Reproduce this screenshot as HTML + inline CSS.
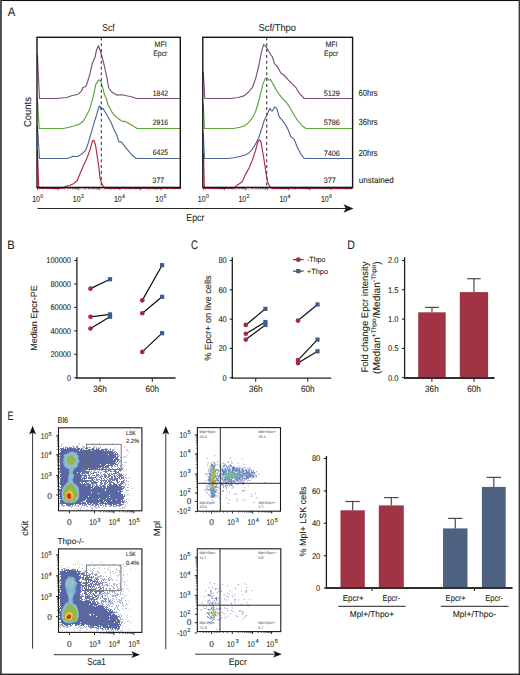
<!DOCTYPE html>
<html><head><meta charset="utf-8"><style>
html,body{margin:0;padding:0;background:#fff;}
svg{display:block;}
text{font-family:"Liberation Sans", sans-serif;stroke:#231f20;stroke-width:0.18px;stroke-opacity:0.55;text-rendering:geometricPrecision;}
</style></head><body>
<svg width="520" height="675" viewBox="0 0 520 675">
<defs><filter id="sb" x="-5%" y="-5%" width="110%" height="110%"><feGaussianBlur stdDeviation="0.45"/></filter></defs>
<rect width="520" height="675" fill="#fff"/>
<rect x="0" y="0" width="520" height="1.05" fill="#111"/>
<rect x="0" y="0" width="1.9" height="675" fill="#4d4d4d"/>
<rect x="518.6" y="0" width="1.4" height="675" fill="#3a3a3a"/>
<rect x="0" y="673.6" width="520" height="1.4" fill="#262626"/>
<text x="7.70" y="16.40" font-size="12.4" fill="#231f20" textLength="7.60" lengthAdjust="spacingAndGlyphs" >A</text>
<text x="108.50" y="31.00" font-size="10" fill="#231f20" text-anchor="middle" textLength="12.30" lengthAdjust="spacingAndGlyphs" >Scf</text>
<text x="277.30" y="31.00" font-size="10" fill="#231f20" text-anchor="middle" textLength="37.50" lengthAdjust="spacingAndGlyphs" >Scf/Thpo</text>
<text x="31.40" y="112.00" font-size="10" fill="#231f20" text-anchor="middle" textLength="30.00" lengthAdjust="spacingAndGlyphs" transform="rotate(-90 31.40 112.00)" >Counts</text>
<polyline points="38.00,188.56 39.00,188.42 40.00,188.82 41.00,188.36 42.00,188.73 43.00,188.59 44.00,188.35 45.00,188.71 46.00,188.33 47.00,188.65 48.00,188.36 49.00,188.37 50.00,188.64 51.00,188.96 52.00,188.40 53.00,188.48 54.00,188.80 55.00,189.06 56.00,188.76 57.00,188.62 58.00,189.08 59.00,188.34 60.00,188.99 61.00,188.53 62.00,188.42 63.00,188.39 64.00,188.55 65.00,188.95 66.00,188.44 67.00,188.77 68.00,188.81 69.00,188.60 70.00,188.74 71.00,188.35 72.00,188.35 73.00,188.46 74.00,188.84 75.00,188.64 76.00,188.55 77.00,188.77 78.00,188.66 79.00,188.54 80.00,188.94 81.00,188.86 82.00,188.50 83.00,188.76 84.00,188.72 85.00,189.00 86.00,188.88 87.00,188.53 88.00,189.08 89.00,188.39 90.00,188.63 91.00,188.91 92.00,188.42 93.00,188.69 94.00,188.33 95.00,188.83 96.00,188.91 97.00,188.76 98.00,189.00 99.00,188.55 100.00,188.86 101.00,188.78 102.00,188.76 103.00,188.66 104.00,188.97 105.00,189.06 106.00,188.68 107.00,188.83 108.00,188.35 109.00,188.86 110.00,188.82 111.00,189.09 112.00,188.96 113.00,188.53 114.00,188.61 115.00,188.83 116.00,188.32 117.00,188.67 118.00,188.43 119.00,188.39 120.00,188.35 121.00,188.91 122.00,188.40 123.00,188.50 124.00,188.61 125.00,189.00 126.00,188.36 127.00,188.66 128.00,188.74 129.00,189.01 130.00,188.96 131.00,188.99 132.00,188.52 133.00,188.63 134.00,188.59 135.00,189.01 136.00,189.07 137.00,188.42 138.00,188.44 139.00,188.49 140.00,188.49 141.00,188.69 142.00,188.77 143.00,188.51 144.00,188.30 145.00,188.64 146.00,188.60 147.00,188.75 148.00,189.06 149.00,188.85 150.00,188.71 151.00,188.79 152.00,188.84 153.00,188.34 154.00,189.02 155.00,188.92 156.00,189.00 157.00,188.94 158.00,188.61 159.00,188.62 160.00,188.38 161.00,188.81 162.00,188.35 163.00,188.35 164.00,188.47 165.00,188.43 166.00,188.57 167.00,188.34 168.00,188.30 169.00,188.42 170.00,188.38 171.00,188.59 172.00,188.32 173.00,189.00 174.00,188.79 175.00,188.42 176.00,188.50 177.00,188.58 178.00,188.59 179.00,188.40" fill="none" stroke="#b3283f" stroke-width="0.7" stroke-linejoin="round" stroke-linecap="round" opacity="0.7"/>
<polyline points="204.00,188.98 205.00,189.09 206.00,188.67 207.00,188.69 208.00,188.37 209.00,188.38 210.00,188.57 211.00,188.51 212.00,188.96 213.00,188.43 214.00,188.32 215.00,189.06 216.00,188.72 217.00,188.42 218.00,188.73 219.00,188.32 220.00,188.72 221.00,189.08 222.00,188.99 223.00,188.86 224.00,188.51 225.00,188.59 226.00,188.43 227.00,188.92 228.00,188.73 229.00,188.92 230.00,188.56 231.00,188.48 232.00,188.95 233.00,189.09 234.00,188.98 235.00,188.94 236.00,188.95 237.00,188.89 238.00,188.48 239.00,188.71 240.00,188.58 241.00,188.32 242.00,188.32 243.00,188.52 244.00,188.51 245.00,188.85 246.00,189.07 247.00,188.66 248.00,189.05 249.00,189.09 250.00,189.06 251.00,188.59 252.00,188.48 253.00,188.48 254.00,188.46 255.00,188.46 256.00,188.80 257.00,189.02 258.00,188.97 259.00,188.68 260.00,188.82 261.00,188.94 262.00,188.37 263.00,188.83 264.00,189.03 265.00,188.93 266.00,188.90 267.00,188.68 268.00,188.44 269.00,188.93 270.00,188.57 271.00,188.94 272.00,189.08 273.00,188.62 274.00,188.62 275.00,189.06 276.00,188.88 277.00,188.44 278.00,188.40 279.00,188.42 280.00,189.02 281.00,188.95 282.00,188.42 283.00,188.96 284.00,189.08 285.00,188.83 286.00,188.58 287.00,188.74 288.00,188.40 289.00,188.31 290.00,189.08 291.00,188.82 292.00,188.72 293.00,189.05 294.00,188.65 295.00,189.00 296.00,188.96 297.00,188.47 298.00,188.50 299.00,188.53 300.00,188.49 301.00,188.77 302.00,188.51 303.00,188.64 304.00,188.40 305.00,189.03 306.00,188.58 307.00,188.67 308.00,188.77 309.00,189.02 310.00,188.64 311.00,189.03 312.00,188.70 313.00,188.73 314.00,188.72 315.00,188.31 316.00,188.65 317.00,188.45 318.00,188.30 319.00,188.94 320.00,188.44 321.00,188.68 322.00,188.88 323.00,188.75 324.00,188.56 325.00,188.71 326.00,188.74 327.00,188.93 328.00,188.38 329.00,188.75 330.00,188.50 331.00,188.52 332.00,188.92 333.00,188.71 334.00,188.75 335.00,188.91 336.00,189.03 337.00,188.65 338.00,188.79 339.00,188.70 340.00,188.71 341.00,188.85 342.00,188.66 343.00,188.73 344.00,188.68 345.00,189.05 346.00,188.86 347.00,189.00 348.00,189.05 349.00,188.51 350.00,188.75 351.00,189.05" fill="none" stroke="#b3283f" stroke-width="0.7" stroke-linejoin="round" stroke-linecap="round" opacity="0.7"/>
<polyline points="37.40,55.00 39.50,98.50 57.00,98.50 66.60,97.50 71.60,95.70 78.00,94.30 81.50,90.80 83.00,87.50 85.80,86.50 87.20,83.00 90.00,73.70 92.20,63.70 93.60,60.20 95.00,57.30 96.50,50.20 98.30,45.70 100.00,50.00 102.40,58.00 104.70,67.50 107.10,78.60 108.70,88.00 111.80,92.00 116.60,95.10 122.00,94.70 127.60,96.00 131.50,96.70 136.30,98.50 179.80,98.50" fill="none" stroke="#78507a" stroke-width="1.15" stroke-linejoin="round" stroke-linecap="round" />
<polyline points="37.40,99.00 39.20,128.50 63.60,128.50 69.10,127.30 74.60,125.80 79.40,124.20 83.30,121.00 86.50,115.50 89.60,109.20 92.10,100.70 93.60,95.00 95.80,84.40 98.60,80.10 100.70,80.80 102.90,88.60 104.60,95.00 106.40,98.60 107.80,104.50 109.30,107.00 111.70,111.60 114.20,115.10 118.90,119.00 122.10,121.40 125.20,121.40 129.20,123.80 133.10,126.10 137.10,128.50 179.80,128.50" fill="none" stroke="#5ea33f" stroke-width="1.15" stroke-linejoin="round" stroke-linecap="round" />
<polyline points="37.40,126.00 39.50,158.50 67.50,158.50 73.00,156.20 77.80,156.50 81.70,154.10 85.70,150.20 88.00,143.90 91.20,132.90 94.40,121.80 96.70,114.70 98.80,106.80 99.90,106.00 101.00,109.20 103.00,108.40 104.70,111.20 107.90,116.70 111.00,122.20 114.20,130.10 116.60,134.80 118.90,141.90 121.30,141.90 124.40,145.90 127.60,149.80 131.50,154.50 136.30,158.50 179.80,158.50" fill="none" stroke="#4f6790" stroke-width="1.15" stroke-linejoin="round" stroke-linecap="round" />
<polyline points="37.40,151.00 38.80,188.40 62.00,188.40 66.00,186.30 70.00,185.30 74.00,183.40 77.30,180.50 78.60,177.00 83.30,166.00 87.30,157.30 90.40,148.60 92.50,140.70 94.00,140.40 95.60,145.50 97.50,158.10 99.10,169.10 100.00,178.00 101.50,183.00 103.20,186.00 105.00,188.40 179.80,188.40" fill="none" stroke="#b3283f" stroke-width="1.15" stroke-linejoin="round" stroke-linecap="round" />
<polyline points="203.30,72.30 204.80,98.50 230.40,98.50 238.30,97.50 244.60,95.60 248.50,92.00 252.50,87.30 255.60,78.60 258.80,66.00 261.10,53.30 263.50,44.70 265.10,45.50 266.70,47.80 269.00,51.80 271.40,55.70 272.50,57.00 274.50,63.60 277.60,67.00 280.80,73.10 283.90,75.00 287.80,79.40 291.70,83.30 295.70,87.30 299.60,93.60 304.30,98.50 352.20,98.50" fill="none" stroke="#78507a" stroke-width="1.15" stroke-linejoin="round" stroke-linecap="round" />
<polyline points="203.30,104.00 204.40,128.50 233.50,128.50 239.90,127.30 244.60,125.70 248.50,122.60 252.50,117.80 255.60,111.50 257.50,105.50 259.60,97.50 262.70,84.90 265.10,78.60 266.70,77.80 269.00,80.20 270.60,79.40 273.00,84.10 276.10,89.60 279.20,94.30 283.00,99.10 287.00,103.00 289.40,107.00 291.70,110.70 294.90,116.30 298.00,121.00 302.00,125.70 305.90,128.50 352.20,128.50" fill="none" stroke="#5ea33f" stroke-width="1.15" stroke-linejoin="round" stroke-linecap="round" />
<polyline points="203.30,133.00 204.40,158.50 228.00,158.50 233.50,157.70 239.90,156.50 244.60,155.20 248.50,153.30 251.70,150.20 255.60,143.90 258.80,137.50 261.90,128.10 264.30,120.20 266.70,115.50 267.70,113.00 269.90,108.40 271.40,110.70 272.40,111.00 274.60,107.00 275.50,107.40 276.90,108.60 279.20,117.00 281.60,119.40 284.60,123.40 287.80,128.90 290.90,136.80 294.10,139.10 297.20,147.00 300.40,153.30 304.30,158.50 352.20,158.50" fill="none" stroke="#4f6790" stroke-width="1.15" stroke-linejoin="round" stroke-linecap="round" />
<polyline points="203.40,153.00 204.40,188.40 233.50,188.40 237.50,184.90 242.20,181.70 245.40,174.60 249.30,167.50 252.50,159.60 255.60,150.20 258.00,141.50 259.60,139.90 261.10,142.30 263.50,156.50 265.90,172.20 267.50,181.70 269.80,186.40 272.00,188.40 352.20,188.40" fill="none" stroke="#b3283f" stroke-width="1.15" stroke-linejoin="round" stroke-linecap="round" />
<line x1="101.30" y1="37.50" x2="101.30" y2="187.00" stroke="#444" stroke-width="1.15" stroke-dasharray="3 2.8"/>
<line x1="266.70" y1="37.50" x2="266.70" y2="187.00" stroke="#444" stroke-width="1.15" stroke-dasharray="3 2.8"/>
<rect x="37" y="37.3" width="143.3" height="150.1" fill="none" stroke="#151515" stroke-width="1.4"/>
<rect x="202.8" y="37.3" width="149.8" height="150.1" fill="none" stroke="#151515" stroke-width="1.4"/>
<line x1="37.50" y1="188.00" x2="37.50" y2="190.20" stroke="#2a2a2a" stroke-width="0.7" />
<line x1="43.70" y1="188.00" x2="43.70" y2="189.20" stroke="#2a2a2a" stroke-width="0.7" />
<line x1="47.33" y1="188.00" x2="47.33" y2="189.20" stroke="#2a2a2a" stroke-width="0.7" />
<line x1="49.90" y1="188.00" x2="49.90" y2="189.20" stroke="#2a2a2a" stroke-width="0.7" />
<line x1="51.90" y1="188.00" x2="51.90" y2="189.20" stroke="#2a2a2a" stroke-width="0.7" />
<line x1="53.53" y1="188.00" x2="53.53" y2="189.20" stroke="#2a2a2a" stroke-width="0.7" />
<line x1="54.91" y1="188.00" x2="54.91" y2="189.20" stroke="#2a2a2a" stroke-width="0.7" />
<line x1="56.10" y1="188.00" x2="56.10" y2="189.20" stroke="#2a2a2a" stroke-width="0.7" />
<line x1="57.16" y1="188.00" x2="57.16" y2="189.20" stroke="#2a2a2a" stroke-width="0.7" />
<line x1="58.10" y1="188.00" x2="58.10" y2="190.20" stroke="#2a2a2a" stroke-width="0.7" />
<line x1="64.30" y1="188.00" x2="64.30" y2="189.20" stroke="#2a2a2a" stroke-width="0.7" />
<line x1="67.93" y1="188.00" x2="67.93" y2="189.20" stroke="#2a2a2a" stroke-width="0.7" />
<line x1="70.50" y1="188.00" x2="70.50" y2="189.20" stroke="#2a2a2a" stroke-width="0.7" />
<line x1="72.50" y1="188.00" x2="72.50" y2="189.20" stroke="#2a2a2a" stroke-width="0.7" />
<line x1="74.13" y1="188.00" x2="74.13" y2="189.20" stroke="#2a2a2a" stroke-width="0.7" />
<line x1="75.51" y1="188.00" x2="75.51" y2="189.20" stroke="#2a2a2a" stroke-width="0.7" />
<line x1="76.70" y1="188.00" x2="76.70" y2="189.20" stroke="#2a2a2a" stroke-width="0.7" />
<line x1="77.76" y1="188.00" x2="77.76" y2="189.20" stroke="#2a2a2a" stroke-width="0.7" />
<line x1="78.70" y1="188.00" x2="78.70" y2="190.20" stroke="#2a2a2a" stroke-width="0.7" />
<line x1="84.90" y1="188.00" x2="84.90" y2="189.20" stroke="#2a2a2a" stroke-width="0.7" />
<line x1="88.53" y1="188.00" x2="88.53" y2="189.20" stroke="#2a2a2a" stroke-width="0.7" />
<line x1="91.10" y1="188.00" x2="91.10" y2="189.20" stroke="#2a2a2a" stroke-width="0.7" />
<line x1="93.10" y1="188.00" x2="93.10" y2="189.20" stroke="#2a2a2a" stroke-width="0.7" />
<line x1="94.73" y1="188.00" x2="94.73" y2="189.20" stroke="#2a2a2a" stroke-width="0.7" />
<line x1="96.11" y1="188.00" x2="96.11" y2="189.20" stroke="#2a2a2a" stroke-width="0.7" />
<line x1="97.30" y1="188.00" x2="97.30" y2="189.20" stroke="#2a2a2a" stroke-width="0.7" />
<line x1="98.36" y1="188.00" x2="98.36" y2="189.20" stroke="#2a2a2a" stroke-width="0.7" />
<line x1="99.30" y1="188.00" x2="99.30" y2="190.20" stroke="#2a2a2a" stroke-width="0.7" />
<line x1="105.50" y1="188.00" x2="105.50" y2="189.20" stroke="#2a2a2a" stroke-width="0.7" />
<line x1="109.13" y1="188.00" x2="109.13" y2="189.20" stroke="#2a2a2a" stroke-width="0.7" />
<line x1="111.70" y1="188.00" x2="111.70" y2="189.20" stroke="#2a2a2a" stroke-width="0.7" />
<line x1="113.70" y1="188.00" x2="113.70" y2="189.20" stroke="#2a2a2a" stroke-width="0.7" />
<line x1="115.33" y1="188.00" x2="115.33" y2="189.20" stroke="#2a2a2a" stroke-width="0.7" />
<line x1="116.71" y1="188.00" x2="116.71" y2="189.20" stroke="#2a2a2a" stroke-width="0.7" />
<line x1="117.90" y1="188.00" x2="117.90" y2="189.20" stroke="#2a2a2a" stroke-width="0.7" />
<line x1="118.96" y1="188.00" x2="118.96" y2="189.20" stroke="#2a2a2a" stroke-width="0.7" />
<line x1="119.90" y1="188.00" x2="119.90" y2="190.20" stroke="#2a2a2a" stroke-width="0.7" />
<line x1="126.10" y1="188.00" x2="126.10" y2="189.20" stroke="#2a2a2a" stroke-width="0.7" />
<line x1="129.73" y1="188.00" x2="129.73" y2="189.20" stroke="#2a2a2a" stroke-width="0.7" />
<line x1="132.30" y1="188.00" x2="132.30" y2="189.20" stroke="#2a2a2a" stroke-width="0.7" />
<line x1="134.30" y1="188.00" x2="134.30" y2="189.20" stroke="#2a2a2a" stroke-width="0.7" />
<line x1="135.93" y1="188.00" x2="135.93" y2="189.20" stroke="#2a2a2a" stroke-width="0.7" />
<line x1="137.31" y1="188.00" x2="137.31" y2="189.20" stroke="#2a2a2a" stroke-width="0.7" />
<line x1="138.50" y1="188.00" x2="138.50" y2="189.20" stroke="#2a2a2a" stroke-width="0.7" />
<line x1="139.56" y1="188.00" x2="139.56" y2="189.20" stroke="#2a2a2a" stroke-width="0.7" />
<line x1="140.50" y1="188.00" x2="140.50" y2="190.20" stroke="#2a2a2a" stroke-width="0.7" />
<line x1="146.70" y1="188.00" x2="146.70" y2="189.20" stroke="#2a2a2a" stroke-width="0.7" />
<line x1="150.33" y1="188.00" x2="150.33" y2="189.20" stroke="#2a2a2a" stroke-width="0.7" />
<line x1="152.90" y1="188.00" x2="152.90" y2="189.20" stroke="#2a2a2a" stroke-width="0.7" />
<line x1="154.90" y1="188.00" x2="154.90" y2="189.20" stroke="#2a2a2a" stroke-width="0.7" />
<line x1="156.53" y1="188.00" x2="156.53" y2="189.20" stroke="#2a2a2a" stroke-width="0.7" />
<line x1="157.91" y1="188.00" x2="157.91" y2="189.20" stroke="#2a2a2a" stroke-width="0.7" />
<line x1="159.10" y1="188.00" x2="159.10" y2="189.20" stroke="#2a2a2a" stroke-width="0.7" />
<line x1="160.16" y1="188.00" x2="160.16" y2="189.20" stroke="#2a2a2a" stroke-width="0.7" />
<line x1="161.10" y1="188.00" x2="161.10" y2="190.20" stroke="#2a2a2a" stroke-width="0.7" />
<line x1="167.30" y1="188.00" x2="167.30" y2="189.20" stroke="#2a2a2a" stroke-width="0.7" />
<line x1="170.93" y1="188.00" x2="170.93" y2="189.20" stroke="#2a2a2a" stroke-width="0.7" />
<line x1="173.50" y1="188.00" x2="173.50" y2="189.20" stroke="#2a2a2a" stroke-width="0.7" />
<line x1="175.50" y1="188.00" x2="175.50" y2="189.20" stroke="#2a2a2a" stroke-width="0.7" />
<line x1="177.13" y1="188.00" x2="177.13" y2="189.20" stroke="#2a2a2a" stroke-width="0.7" />
<line x1="178.51" y1="188.00" x2="178.51" y2="189.20" stroke="#2a2a2a" stroke-width="0.7" />
<line x1="179.70" y1="188.00" x2="179.70" y2="189.20" stroke="#2a2a2a" stroke-width="0.7" />
<line x1="180.76" y1="188.00" x2="180.76" y2="189.20" stroke="#2a2a2a" stroke-width="0.7" />
<line x1="203.30" y1="188.00" x2="203.30" y2="190.20" stroke="#2a2a2a" stroke-width="0.7" />
<line x1="209.71" y1="188.00" x2="209.71" y2="189.20" stroke="#2a2a2a" stroke-width="0.7" />
<line x1="213.46" y1="188.00" x2="213.46" y2="189.20" stroke="#2a2a2a" stroke-width="0.7" />
<line x1="216.12" y1="188.00" x2="216.12" y2="189.20" stroke="#2a2a2a" stroke-width="0.7" />
<line x1="218.19" y1="188.00" x2="218.19" y2="189.20" stroke="#2a2a2a" stroke-width="0.7" />
<line x1="219.87" y1="188.00" x2="219.87" y2="189.20" stroke="#2a2a2a" stroke-width="0.7" />
<line x1="221.30" y1="188.00" x2="221.30" y2="189.20" stroke="#2a2a2a" stroke-width="0.7" />
<line x1="222.54" y1="188.00" x2="222.54" y2="189.20" stroke="#2a2a2a" stroke-width="0.7" />
<line x1="223.63" y1="188.00" x2="223.63" y2="189.20" stroke="#2a2a2a" stroke-width="0.7" />
<line x1="224.60" y1="188.00" x2="224.60" y2="190.20" stroke="#2a2a2a" stroke-width="0.7" />
<line x1="231.01" y1="188.00" x2="231.01" y2="189.20" stroke="#2a2a2a" stroke-width="0.7" />
<line x1="234.76" y1="188.00" x2="234.76" y2="189.20" stroke="#2a2a2a" stroke-width="0.7" />
<line x1="237.42" y1="188.00" x2="237.42" y2="189.20" stroke="#2a2a2a" stroke-width="0.7" />
<line x1="239.49" y1="188.00" x2="239.49" y2="189.20" stroke="#2a2a2a" stroke-width="0.7" />
<line x1="241.17" y1="188.00" x2="241.17" y2="189.20" stroke="#2a2a2a" stroke-width="0.7" />
<line x1="242.60" y1="188.00" x2="242.60" y2="189.20" stroke="#2a2a2a" stroke-width="0.7" />
<line x1="243.84" y1="188.00" x2="243.84" y2="189.20" stroke="#2a2a2a" stroke-width="0.7" />
<line x1="244.93" y1="188.00" x2="244.93" y2="189.20" stroke="#2a2a2a" stroke-width="0.7" />
<line x1="245.90" y1="188.00" x2="245.90" y2="190.20" stroke="#2a2a2a" stroke-width="0.7" />
<line x1="252.31" y1="188.00" x2="252.31" y2="189.20" stroke="#2a2a2a" stroke-width="0.7" />
<line x1="256.06" y1="188.00" x2="256.06" y2="189.20" stroke="#2a2a2a" stroke-width="0.7" />
<line x1="258.72" y1="188.00" x2="258.72" y2="189.20" stroke="#2a2a2a" stroke-width="0.7" />
<line x1="260.79" y1="188.00" x2="260.79" y2="189.20" stroke="#2a2a2a" stroke-width="0.7" />
<line x1="262.47" y1="188.00" x2="262.47" y2="189.20" stroke="#2a2a2a" stroke-width="0.7" />
<line x1="263.90" y1="188.00" x2="263.90" y2="189.20" stroke="#2a2a2a" stroke-width="0.7" />
<line x1="265.14" y1="188.00" x2="265.14" y2="189.20" stroke="#2a2a2a" stroke-width="0.7" />
<line x1="266.23" y1="188.00" x2="266.23" y2="189.20" stroke="#2a2a2a" stroke-width="0.7" />
<line x1="267.20" y1="188.00" x2="267.20" y2="190.20" stroke="#2a2a2a" stroke-width="0.7" />
<line x1="273.61" y1="188.00" x2="273.61" y2="189.20" stroke="#2a2a2a" stroke-width="0.7" />
<line x1="277.36" y1="188.00" x2="277.36" y2="189.20" stroke="#2a2a2a" stroke-width="0.7" />
<line x1="280.02" y1="188.00" x2="280.02" y2="189.20" stroke="#2a2a2a" stroke-width="0.7" />
<line x1="282.09" y1="188.00" x2="282.09" y2="189.20" stroke="#2a2a2a" stroke-width="0.7" />
<line x1="283.77" y1="188.00" x2="283.77" y2="189.20" stroke="#2a2a2a" stroke-width="0.7" />
<line x1="285.20" y1="188.00" x2="285.20" y2="189.20" stroke="#2a2a2a" stroke-width="0.7" />
<line x1="286.44" y1="188.00" x2="286.44" y2="189.20" stroke="#2a2a2a" stroke-width="0.7" />
<line x1="287.53" y1="188.00" x2="287.53" y2="189.20" stroke="#2a2a2a" stroke-width="0.7" />
<line x1="288.50" y1="188.00" x2="288.50" y2="190.20" stroke="#2a2a2a" stroke-width="0.7" />
<line x1="294.91" y1="188.00" x2="294.91" y2="189.20" stroke="#2a2a2a" stroke-width="0.7" />
<line x1="298.66" y1="188.00" x2="298.66" y2="189.20" stroke="#2a2a2a" stroke-width="0.7" />
<line x1="301.32" y1="188.00" x2="301.32" y2="189.20" stroke="#2a2a2a" stroke-width="0.7" />
<line x1="303.39" y1="188.00" x2="303.39" y2="189.20" stroke="#2a2a2a" stroke-width="0.7" />
<line x1="305.07" y1="188.00" x2="305.07" y2="189.20" stroke="#2a2a2a" stroke-width="0.7" />
<line x1="306.50" y1="188.00" x2="306.50" y2="189.20" stroke="#2a2a2a" stroke-width="0.7" />
<line x1="307.74" y1="188.00" x2="307.74" y2="189.20" stroke="#2a2a2a" stroke-width="0.7" />
<line x1="308.83" y1="188.00" x2="308.83" y2="189.20" stroke="#2a2a2a" stroke-width="0.7" />
<line x1="309.80" y1="188.00" x2="309.80" y2="190.20" stroke="#2a2a2a" stroke-width="0.7" />
<line x1="316.21" y1="188.00" x2="316.21" y2="189.20" stroke="#2a2a2a" stroke-width="0.7" />
<line x1="319.96" y1="188.00" x2="319.96" y2="189.20" stroke="#2a2a2a" stroke-width="0.7" />
<line x1="322.62" y1="188.00" x2="322.62" y2="189.20" stroke="#2a2a2a" stroke-width="0.7" />
<line x1="324.69" y1="188.00" x2="324.69" y2="189.20" stroke="#2a2a2a" stroke-width="0.7" />
<line x1="326.37" y1="188.00" x2="326.37" y2="189.20" stroke="#2a2a2a" stroke-width="0.7" />
<line x1="327.80" y1="188.00" x2="327.80" y2="189.20" stroke="#2a2a2a" stroke-width="0.7" />
<line x1="329.04" y1="188.00" x2="329.04" y2="189.20" stroke="#2a2a2a" stroke-width="0.7" />
<line x1="330.13" y1="188.00" x2="330.13" y2="189.20" stroke="#2a2a2a" stroke-width="0.7" />
<line x1="331.10" y1="188.00" x2="331.10" y2="190.20" stroke="#2a2a2a" stroke-width="0.7" />
<line x1="337.51" y1="188.00" x2="337.51" y2="189.20" stroke="#2a2a2a" stroke-width="0.7" />
<line x1="341.26" y1="188.00" x2="341.26" y2="189.20" stroke="#2a2a2a" stroke-width="0.7" />
<line x1="343.92" y1="188.00" x2="343.92" y2="189.20" stroke="#2a2a2a" stroke-width="0.7" />
<line x1="345.99" y1="188.00" x2="345.99" y2="189.20" stroke="#2a2a2a" stroke-width="0.7" />
<line x1="347.67" y1="188.00" x2="347.67" y2="189.20" stroke="#2a2a2a" stroke-width="0.7" />
<line x1="349.10" y1="188.00" x2="349.10" y2="189.20" stroke="#2a2a2a" stroke-width="0.7" />
<line x1="350.34" y1="188.00" x2="350.34" y2="189.20" stroke="#2a2a2a" stroke-width="0.7" />
<line x1="351.43" y1="188.00" x2="351.43" y2="189.20" stroke="#2a2a2a" stroke-width="0.7" />
<text x="32.18" y="201.60" font-size="8.6" fill="#231f20" textLength="7.80" lengthAdjust="spacingAndGlyphs">10</text>
<text x="40.28" y="197.70" font-size="5.3" fill="#231f20">0</text>
<text x="72.78" y="201.60" font-size="8.6" fill="#231f20" textLength="7.80" lengthAdjust="spacingAndGlyphs">10</text>
<text x="80.88" y="197.70" font-size="5.3" fill="#231f20">2</text>
<text x="113.88" y="201.60" font-size="8.6" fill="#231f20" textLength="7.80" lengthAdjust="spacingAndGlyphs">10</text>
<text x="121.98" y="197.70" font-size="5.3" fill="#231f20">4</text>
<text x="155.28" y="201.60" font-size="8.6" fill="#231f20" textLength="7.80" lengthAdjust="spacingAndGlyphs">10</text>
<text x="163.38" y="197.70" font-size="5.3" fill="#231f20">6</text>
<text x="197.78" y="201.60" font-size="8.6" fill="#231f20" textLength="7.80" lengthAdjust="spacingAndGlyphs">10</text>
<text x="205.88" y="197.70" font-size="5.3" fill="#231f20">0</text>
<text x="238.48" y="201.60" font-size="8.6" fill="#231f20" textLength="7.80" lengthAdjust="spacingAndGlyphs">10</text>
<text x="246.58" y="197.70" font-size="5.3" fill="#231f20">2</text>
<text x="279.48" y="201.60" font-size="8.6" fill="#231f20" textLength="7.80" lengthAdjust="spacingAndGlyphs">10</text>
<text x="287.58" y="197.70" font-size="5.3" fill="#231f20">4</text>
<text x="320.88" y="201.60" font-size="8.6" fill="#231f20" textLength="7.80" lengthAdjust="spacingAndGlyphs">10</text>
<text x="328.98" y="197.70" font-size="5.3" fill="#231f20">6</text>
<line x1="37.50" y1="208.50" x2="346.00" y2="208.50" stroke="#2a2a2a" stroke-width="1.2" />
<path d="M353.5,208.5 L343.5,204.3 L345.8,208.5 L343.5,212.7 Z" fill="#1a1a1a"/>
<text x="195.40" y="221.30" font-size="10.2" fill="#231f20" text-anchor="middle" textLength="18.20" lengthAdjust="spacingAndGlyphs" >Epcr</text>
<text x="160.60" y="46.70" font-size="7.9" fill="#231f20" text-anchor="middle" textLength="12.00" lengthAdjust="spacingAndGlyphs" >MFI</text>
<text x="160.30" y="56.20" font-size="7.9" fill="#231f20" text-anchor="middle" textLength="14.20" lengthAdjust="spacingAndGlyphs" >Epcr</text>
<text x="331.50" y="46.70" font-size="7.9" fill="#231f20" text-anchor="middle" textLength="12.00" lengthAdjust="spacingAndGlyphs" >MFI</text>
<text x="331.20" y="56.20" font-size="7.9" fill="#231f20" text-anchor="middle" textLength="14.20" lengthAdjust="spacingAndGlyphs" >Epcr</text>
<text x="152.80" y="95.60" font-size="7.9" fill="#231f20" textLength="15.30" lengthAdjust="spacingAndGlyphs" >1842</text>
<text x="152.80" y="125.10" font-size="7.9" fill="#231f20" textLength="15.30" lengthAdjust="spacingAndGlyphs" >2916</text>
<text x="152.80" y="155.40" font-size="7.9" fill="#231f20" textLength="15.30" lengthAdjust="spacingAndGlyphs" >6425</text>
<text x="152.60" y="183.10" font-size="7.9" fill="#231f20" textLength="11.40" lengthAdjust="spacingAndGlyphs" >377</text>
<text x="323.70" y="96.00" font-size="7.9" fill="#231f20" textLength="16.20" lengthAdjust="spacingAndGlyphs" >5129</text>
<text x="323.70" y="124.80" font-size="7.9" fill="#231f20" textLength="16.20" lengthAdjust="spacingAndGlyphs" >5786</text>
<text x="323.70" y="155.70" font-size="7.9" fill="#231f20" textLength="16.20" lengthAdjust="spacingAndGlyphs" >7406</text>
<text x="323.70" y="183.10" font-size="7.9" fill="#231f20" textLength="12.10" lengthAdjust="spacingAndGlyphs" >377</text>
<text x="358.40" y="95.80" font-size="8.8" fill="#231f20" textLength="19.20" lengthAdjust="spacingAndGlyphs" >60hrs</text>
<text x="358.40" y="125.30" font-size="8.8" fill="#231f20" textLength="19.20" lengthAdjust="spacingAndGlyphs" >36hrs</text>
<text x="358.40" y="155.80" font-size="8.8" fill="#231f20" textLength="19.20" lengthAdjust="spacingAndGlyphs" >20hrs</text>
<text x="358.80" y="183.10" font-size="8.6" fill="#231f20" textLength="35.00" lengthAdjust="spacingAndGlyphs" >unstained</text>
<text x="7.30" y="249.30" font-size="12.4" fill="#231f20" textLength="7.40" lengthAdjust="spacingAndGlyphs" >B</text>
<line x1="76.90" y1="257.20" x2="76.90" y2="378.40" stroke="#231f20" stroke-width="1.3" />
<line x1="76.30" y1="378.00" x2="175.60" y2="378.00" stroke="#231f20" stroke-width="1.3" />
<line x1="74.30" y1="260.50" x2="76.90" y2="260.50" stroke="#231f20" stroke-width="1.1" />
<text x="71.00" y="263.40" font-size="8.3" fill="#231f20" text-anchor="end" textLength="24.72" lengthAdjust="spacingAndGlyphs" >100000</text>
<line x1="74.30" y1="283.94" x2="76.90" y2="283.94" stroke="#231f20" stroke-width="1.1" />
<text x="71.00" y="286.84" font-size="8.3" fill="#231f20" text-anchor="end" textLength="20.60" lengthAdjust="spacingAndGlyphs" >80000</text>
<line x1="74.30" y1="307.38" x2="76.90" y2="307.38" stroke="#231f20" stroke-width="1.1" />
<text x="71.00" y="310.28" font-size="8.3" fill="#231f20" text-anchor="end" textLength="20.60" lengthAdjust="spacingAndGlyphs" >60000</text>
<line x1="74.30" y1="330.82" x2="76.90" y2="330.82" stroke="#231f20" stroke-width="1.1" />
<text x="71.00" y="333.72" font-size="8.3" fill="#231f20" text-anchor="end" textLength="20.60" lengthAdjust="spacingAndGlyphs" >40000</text>
<line x1="74.30" y1="354.26" x2="76.90" y2="354.26" stroke="#231f20" stroke-width="1.1" />
<text x="71.00" y="357.16" font-size="8.3" fill="#231f20" text-anchor="end" textLength="20.60" lengthAdjust="spacingAndGlyphs" >20000</text>
<line x1="74.30" y1="377.70" x2="76.90" y2="377.70" stroke="#231f20" stroke-width="1.1" />
<text x="71.00" y="380.60" font-size="8.3" fill="#231f20" text-anchor="end" textLength="4.12" lengthAdjust="spacingAndGlyphs" >0</text>
<line x1="100.00" y1="378.00" x2="100.00" y2="381.80" stroke="#231f20" stroke-width="1.0" />
<line x1="152.30" y1="378.00" x2="152.30" y2="381.80" stroke="#231f20" stroke-width="1.0" />
<text x="100.00" y="391.80" font-size="9.2" fill="#231f20" text-anchor="middle" textLength="13.60" lengthAdjust="spacingAndGlyphs" >36h</text>
<text x="152.30" y="391.80" font-size="9.2" fill="#231f20" text-anchor="middle" textLength="13.60" lengthAdjust="spacingAndGlyphs" >60h</text>
<line x1="90.50" y1="288.63" x2="110.00" y2="279.25" stroke="#111" stroke-width="1.25" />
<line x1="90.50" y1="316.76" x2="110.00" y2="314.41" stroke="#111" stroke-width="1.25" />
<line x1="90.50" y1="328.48" x2="110.00" y2="316.76" stroke="#111" stroke-width="1.25" />
<line x1="142.30" y1="300.35" x2="162.10" y2="265.19" stroke="#111" stroke-width="1.25" />
<line x1="142.30" y1="313.24" x2="162.10" y2="296.83" stroke="#111" stroke-width="1.25" />
<line x1="142.30" y1="351.92" x2="162.10" y2="333.16" stroke="#111" stroke-width="1.25" />
<circle cx="90.50" cy="288.63" r="2.35" fill="#a8293f"/>
<rect x="107.90" y="277.15" width="4.2" height="4.2" fill="#3e5d8f"/>
<circle cx="90.50" cy="316.76" r="2.35" fill="#a8293f"/>
<rect x="107.90" y="312.31" width="4.2" height="4.2" fill="#3e5d8f"/>
<circle cx="90.50" cy="328.48" r="2.35" fill="#a8293f"/>
<rect x="107.90" y="314.66" width="4.2" height="4.2" fill="#3e5d8f"/>
<circle cx="142.30" cy="300.35" r="2.35" fill="#a8293f"/>
<rect x="160.00" y="263.09" width="4.2" height="4.2" fill="#3e5d8f"/>
<circle cx="142.30" cy="313.24" r="2.35" fill="#a8293f"/>
<rect x="160.00" y="294.73" width="4.2" height="4.2" fill="#3e5d8f"/>
<circle cx="142.30" cy="351.92" r="2.35" fill="#a8293f"/>
<rect x="160.00" y="331.06" width="4.2" height="4.2" fill="#3e5d8f"/>
<text x="36.90" y="318.00" font-size="9" fill="#231f20" text-anchor="middle" textLength="65.40" lengthAdjust="spacingAndGlyphs" transform="rotate(-90 36.90 318.00)" >Median Epcr-PE</text>
<text x="191.00" y="249.30" font-size="12.4" fill="#231f20" textLength="7.00" lengthAdjust="spacingAndGlyphs" >C</text>
<line x1="232.30" y1="257.20" x2="232.30" y2="378.40" stroke="#231f20" stroke-width="1.3" />
<line x1="231.70" y1="378.10" x2="331.20" y2="378.10" stroke="#231f20" stroke-width="1.3" />
<line x1="229.70" y1="260.50" x2="232.30" y2="260.50" stroke="#231f20" stroke-width="1.1" />
<text x="226.80" y="263.40" font-size="8.3" fill="#231f20" text-anchor="end" textLength="8.40" lengthAdjust="spacingAndGlyphs" >80</text>
<line x1="229.70" y1="289.80" x2="232.30" y2="289.80" stroke="#231f20" stroke-width="1.1" />
<text x="226.80" y="292.70" font-size="8.3" fill="#231f20" text-anchor="end" textLength="8.40" lengthAdjust="spacingAndGlyphs" >60</text>
<line x1="229.70" y1="319.10" x2="232.30" y2="319.10" stroke="#231f20" stroke-width="1.1" />
<text x="226.80" y="322.00" font-size="8.3" fill="#231f20" text-anchor="end" textLength="8.40" lengthAdjust="spacingAndGlyphs" >40</text>
<line x1="229.70" y1="348.40" x2="232.30" y2="348.40" stroke="#231f20" stroke-width="1.1" />
<text x="226.80" y="351.30" font-size="8.3" fill="#231f20" text-anchor="end" textLength="8.40" lengthAdjust="spacingAndGlyphs" >20</text>
<line x1="229.70" y1="377.70" x2="232.30" y2="377.70" stroke="#231f20" stroke-width="1.1" />
<text x="226.80" y="380.60" font-size="8.3" fill="#231f20" text-anchor="end" textLength="4.20" lengthAdjust="spacingAndGlyphs" >0</text>
<line x1="255.70" y1="378.00" x2="255.70" y2="381.80" stroke="#231f20" stroke-width="1.0" />
<line x1="307.80" y1="378.00" x2="307.80" y2="381.80" stroke="#231f20" stroke-width="1.0" />
<text x="255.70" y="391.80" font-size="9.2" fill="#231f20" text-anchor="middle" textLength="13.60" lengthAdjust="spacingAndGlyphs" >36h</text>
<text x="307.80" y="391.80" font-size="9.2" fill="#231f20" text-anchor="middle" textLength="13.60" lengthAdjust="spacingAndGlyphs" >60h</text>
<line x1="245.80" y1="324.96" x2="265.40" y2="308.84" stroke="#111" stroke-width="1.25" />
<line x1="245.80" y1="333.75" x2="265.40" y2="322.03" stroke="#111" stroke-width="1.25" />
<line x1="245.80" y1="339.61" x2="265.40" y2="324.96" stroke="#111" stroke-width="1.25" />
<line x1="298.00" y1="320.56" x2="317.50" y2="304.45" stroke="#111" stroke-width="1.25" />
<line x1="298.00" y1="360.12" x2="317.50" y2="339.61" stroke="#111" stroke-width="1.25" />
<line x1="298.00" y1="363.05" x2="317.50" y2="351.33" stroke="#111" stroke-width="1.25" />
<circle cx="245.80" cy="324.96" r="2.35" fill="#a8293f"/>
<rect x="263.30" y="306.74" width="4.2" height="4.2" fill="#3e5d8f"/>
<circle cx="245.80" cy="333.75" r="2.35" fill="#a8293f"/>
<rect x="263.30" y="319.93" width="4.2" height="4.2" fill="#3e5d8f"/>
<circle cx="245.80" cy="339.61" r="2.35" fill="#a8293f"/>
<rect x="263.30" y="322.86" width="4.2" height="4.2" fill="#3e5d8f"/>
<circle cx="298.00" cy="320.56" r="2.35" fill="#a8293f"/>
<rect x="315.40" y="302.35" width="4.2" height="4.2" fill="#3e5d8f"/>
<circle cx="298.00" cy="360.12" r="2.35" fill="#a8293f"/>
<rect x="315.40" y="337.51" width="4.2" height="4.2" fill="#3e5d8f"/>
<circle cx="298.00" cy="363.05" r="2.35" fill="#a8293f"/>
<rect x="315.40" y="349.23" width="4.2" height="4.2" fill="#3e5d8f"/>
<line x1="293.10" y1="259.70" x2="303.60" y2="259.70" stroke="#1a1a1a" stroke-width="1.0" />
<circle cx="298.30" cy="259.70" r="2.35" fill="#a8293f"/>
<text x="307.00" y="262.20" font-size="7.5" fill="#231f20" textLength="18.50" lengthAdjust="spacingAndGlyphs" >-Thpo</text>
<line x1="293.10" y1="271.10" x2="303.60" y2="271.10" stroke="#1a1a1a" stroke-width="1.0" />
<rect x="296.20" y="269.00" width="4.2" height="4.2" fill="#3e5d8f"/>
<text x="307.00" y="273.60" font-size="7.5" fill="#231f20" textLength="21.00" lengthAdjust="spacingAndGlyphs" >+Thpo</text>
<text x="210.80" y="318.00" font-size="9" fill="#231f20" text-anchor="middle" textLength="85.50" lengthAdjust="spacingAndGlyphs" transform="rotate(-90 210.80 318.00)" >% Epcr+ on live cells</text>
<text x="347.20" y="249.30" font-size="12.4" fill="#231f20" textLength="7.60" lengthAdjust="spacingAndGlyphs" >D</text>
<line x1="404.60" y1="257.20" x2="404.60" y2="378.40" stroke="#231f20" stroke-width="1.3" />
<line x1="404.00" y1="378.00" x2="494.40" y2="378.00" stroke="#231f20" stroke-width="1.3" />
<line x1="401.90" y1="260.50" x2="404.60" y2="260.50" stroke="#231f20" stroke-width="1.1" />
<text x="398.50" y="263.40" font-size="8.3" fill="#231f20" text-anchor="end" textLength="10.60" lengthAdjust="spacingAndGlyphs" >2.0</text>
<line x1="401.90" y1="289.80" x2="404.60" y2="289.80" stroke="#231f20" stroke-width="1.1" />
<text x="398.50" y="292.70" font-size="8.3" fill="#231f20" text-anchor="end" textLength="10.60" lengthAdjust="spacingAndGlyphs" >1.5</text>
<line x1="401.90" y1="319.10" x2="404.60" y2="319.10" stroke="#231f20" stroke-width="1.1" />
<text x="398.50" y="322.00" font-size="8.3" fill="#231f20" text-anchor="end" textLength="10.60" lengthAdjust="spacingAndGlyphs" >1.0</text>
<line x1="401.90" y1="348.40" x2="404.60" y2="348.40" stroke="#231f20" stroke-width="1.1" />
<text x="398.50" y="351.30" font-size="8.3" fill="#231f20" text-anchor="end" textLength="10.60" lengthAdjust="spacingAndGlyphs" >0.5</text>
<line x1="401.90" y1="377.70" x2="404.60" y2="377.70" stroke="#231f20" stroke-width="1.1" />
<text x="398.50" y="380.60" font-size="8.3" fill="#231f20" text-anchor="end" textLength="10.60" lengthAdjust="spacingAndGlyphs" >0.0</text>
<rect x="418.20" y="312.30" width="27.50" height="65.20" fill="#a03444"/>
<line x1="431.95" y1="312.30" x2="431.95" y2="307.40" stroke="#4a4a4a" stroke-width="1.2" />
<line x1="425.15" y1="307.40" x2="438.75" y2="307.40" stroke="#4a4a4a" stroke-width="1.2" />
<rect x="459.80" y="292.10" width="28.30" height="85.40" fill="#a03444"/>
<line x1="473.95" y1="292.10" x2="473.95" y2="278.70" stroke="#4a4a4a" stroke-width="1.2" />
<line x1="467.15" y1="278.70" x2="480.75" y2="278.70" stroke="#4a4a4a" stroke-width="1.2" />
<line x1="404.00" y1="378.00" x2="494.40" y2="378.00" stroke="#231f20" stroke-width="1.3" />
<line x1="431.90" y1="378.00" x2="431.90" y2="381.80" stroke="#231f20" stroke-width="1.0" />
<line x1="474.00" y1="378.00" x2="474.00" y2="381.80" stroke="#231f20" stroke-width="1.0" />
<text x="431.90" y="391.80" font-size="9.2" fill="#231f20" text-anchor="middle" textLength="13.60" lengthAdjust="spacingAndGlyphs" >36h</text>
<text x="474.00" y="391.80" font-size="9.2" fill="#231f20" text-anchor="middle" textLength="13.60" lengthAdjust="spacingAndGlyphs" >60h</text>
<text x="368.10" y="317.10" font-size="9.6" fill="#231f20" text-anchor="middle" textLength="111.00" lengthAdjust="spacingAndGlyphs" transform="rotate(-90 368.10 317.10)" >Fold change Epcr intensity</text>
<text transform="translate(379.9 317.7) rotate(-90)" font-size="10.2" fill="#231f20" text-anchor="middle">(Median<tspan font-size="6.6" dy="-3.5">+Thpo</tspan><tspan dy="3.5">/Median</tspan><tspan font-size="6.6" dy="-3.5">-Thpo</tspan><tspan dy="3.5">)</tspan></text>
<text x="7.60" y="420.10" font-size="12.4" fill="#231f20" textLength="6.00" lengthAdjust="spacingAndGlyphs" >E</text>
<line x1="32.60" y1="648.60" x2="32.60" y2="431.80" stroke="#333" stroke-width="1.0" />
<path d="M32.60,425.80 L36.00,434.40 L32.60,432.40 L29.20,434.40 Z" fill="#111"/>
<line x1="53.70" y1="654.70" x2="134.00" y2="654.70" stroke="#333" stroke-width="1.0" />
<path d="M140.00,654.70 L131.40,651.30 L133.40,654.70 L131.40,658.10 Z" fill="#111"/>
<line x1="165.80" y1="649.20" x2="165.80" y2="431.90" stroke="#333" stroke-width="1.0" />
<path d="M165.80,425.90 L169.20,434.50 L165.80,432.50 L162.40,434.50 Z" fill="#111"/>
<line x1="195.20" y1="654.20" x2="275.80" y2="654.20" stroke="#333" stroke-width="1.0" />
<path d="M281.80,654.20 L273.20,650.80 L275.20,654.20 L273.20,657.60 Z" fill="#111"/>
<text x="27.90" y="528.20" font-size="9.4" fill="#231f20" text-anchor="middle" textLength="15.00" lengthAdjust="spacingAndGlyphs" transform="rotate(-90 27.90 528.20)" >cKit</text>
<text x="160.40" y="528.60" font-size="9" fill="#231f20" text-anchor="middle" textLength="15.40" lengthAdjust="spacingAndGlyphs" transform="rotate(-90 160.40 528.60)" >Mpl</text>
<text x="96.50" y="665.40" font-size="10" fill="#231f20" text-anchor="middle" textLength="18.30" lengthAdjust="spacingAndGlyphs" >Sca1</text>
<text x="237.80" y="664.60" font-size="9.5" fill="#231f20" text-anchor="middle" textLength="18.10" lengthAdjust="spacingAndGlyphs" >Epcr</text>
<g filter="url(#sb)"><path d="M79 443h1v1h-1zM86 443h1v1h-1zM92 443h1v1h-1zM99 443h1v1h-1zM112 443h1v1h-1zM121 445h1v1h-1zM125 446h1v1h-1zM128 451h1v1h-1zM131 486h1v1h-1zM132 488h1v1h-1z" fill="#aeb4d2" fill-opacity="0.75" shape-rendering="crispEdges"/>
<path d="M61 444h2v1h-2zM79 444h1v1h-1zM86 444h1v1h-1zM94 444h1v1h-1zM115 447h1v1h-1zM124 447h1v1h-1zM126 450h2v1h-2zM127 455h1v1h-1zM124 456h2v1h-2zM123 457h1v1h-1zM125 457h1v1h-1zM124 462h3v1h-3zM126 469h1v1h-1zM130 477h1v1h-1zM129 495h1v1h-1zM128 499h1v1h-1zM127 503h1v1h-1zM80 508h1v1h-1zM78 509h1v1h-1zM80 509h1v1h-1zM86 509h1v1h-1zM92 509h1v1h-1zM122 510h1v1h-1z" fill="#a8aecc" fill-opacity="0.75" shape-rendering="crispEdges"/>
<path d="M74 445h1v1h-1zM77 445h1v1h-1zM121 463h1v1h-1zM123 465h1v1h-1zM128 478h1v1h-1z" fill="#a2a8c6" fill-opacity="0.75" shape-rendering="crispEdges"/>
<path d="M97 445h1v1h-1zM121 462h1v1h-1zM128 487h1v1h-1zM128 493h1v1h-1zM127 494h1v1h-1zM125 506h1v1h-1zM91 508h2v1h-2zM96 508h1v1h-1z" fill="#a2a8cc" fill-opacity="0.75" shape-rendering="crispEdges"/>
<path d="M59 446h1v1h-1zM76 446h2v1h-2zM83 446h1v1h-1zM113 449h1v1h-1zM120 465h2v1h-2zM123 470h1v1h-1zM126 477h1v1h-1zM126 478h1v1h-1zM126 492h1v1h-1z" fill="#9096c0" fill-opacity="0.75" shape-rendering="crispEdges"/>
<path d="M61 446h1v1h-1zM65 446h1v1h-1zM78 446h1v1h-1zM82 446h1v1h-1zM110 448h1v1h-1zM114 449h1v1h-1zM121 458h1v1h-1zM120 460h1v1h-1zM122 467h1v1h-1zM125 502h1v1h-1zM61 506h1v1h-1zM63 506h1v1h-1zM122 507h1v1h-1z" fill="#909cc0" fill-opacity="0.75" shape-rendering="crispEdges"/>
<path d="M72 446h1v1h-1zM95 446h1v1h-1zM126 474h1v1h-1zM127 487h1v1h-1zM71 507h1v1h-1zM98 507h2v1h-2zM123 507h1v1h-1z" fill="#96a2c6" fill-opacity="0.75" shape-rendering="crispEdges"/>
<path d="M73 446h1v1h-1zM93 446h1v1h-1zM100 446h1v1h-1zM120 461h1v1h-1zM127 490h1v1h-1zM95 507h2v1h-2zM102 507h1v1h-1z" fill="#969cc6" fill-opacity="0.75" shape-rendering="crispEdges"/>
<path d="M63 447h1v1h-1zM65 447h2v1h-2zM71 447h1v1h-1zM74 447h1v1h-1zM112 450h1v1h-1zM114 451h1v1h-1zM119 459h1v1h-1zM114 466h2v1h-2zM111 467h1v1h-1zM105 468h1v1h-1zM112 468h1v1h-1zM117 468h1v1h-1zM120 468h1v1h-1zM110 469h1v1h-1zM120 469h1v1h-1zM89 470h1v1h-1zM93 470h1v1h-1zM105 470h2v1h-2zM120 470h2v1h-2zM59 471h1v1h-1zM103 471h1v1h-1zM107 471h2v1h-2zM120 471h1v1h-1zM59 472h1v1h-1zM96 472h1v1h-1zM100 472h2v1h-2zM59 473h1v1h-1zM96 473h1v1h-1zM100 473h1v1h-1zM104 473h1v1h-1zM121 473h1v1h-1zM101 474h1v1h-1zM123 474h1v1h-1zM98 475h1v1h-1zM101 475h1v1h-1zM91 476h1v1h-1zM98 476h1v1h-1zM101 476h1v1h-1zM123 476h1v1h-1zM59 477h1v1h-1zM97 477h1v1h-1zM101 477h1v1h-1zM97 479h1v1h-1zM124 479h1v1h-1zM97 480h1v1h-1zM124 480h1v1h-1zM124 482h1v1h-1zM100 484h1v1h-1zM123 484h1v1h-1zM124 494h1v1h-1zM124 501h1v1h-1zM123 503h1v1h-1zM66 505h1v1h-1zM72 505h1v1h-1zM77 505h2v1h-2zM83 505h1v1h-1zM86 505h1v1h-1zM91 505h3v1h-3zM98 505h1v1h-1zM103 505h1v1h-1zM110 506h1v1h-1zM113 506h2v1h-2z" fill="#7884b4" fill-opacity="0.75" shape-rendering="crispEdges"/>
<path d="M67 447h1v1h-1zM69 447h2v1h-2zM107 449h1v1h-1zM115 469h1v1h-1zM117 469h1v1h-1zM109 470h1v1h-1zM91 471h1v1h-1zM104 471h1v1h-1zM95 472h1v1h-1zM98 472h1v1h-1zM105 472h1v1h-1zM98 474h1v1h-1zM111 474h1v1h-1zM106 475h1v1h-1zM104 476h1v1h-1zM99 477h2v1h-2zM104 477h1v1h-1zM109 478h1v1h-1zM99 479h1v1h-1zM59 483h1v1h-1zM101 484h1v1h-1zM69 505h2v1h-2z" fill="#787eb4" shape-rendering="crispEdges"/>
<path d="M73 447h1v1h-1zM84 447h1v1h-1zM105 448h1v1h-1zM115 451h1v1h-1zM118 467h1v1h-1zM106 468h1v1h-1zM108 468h1v1h-1zM95 470h1v1h-1zM99 475h1v1h-1zM98 479h1v1h-1zM124 486h1v1h-1zM124 487h1v1h-1zM59 503h1v1h-1zM74 505h2v1h-2zM84 505h1v1h-1zM109 506h1v1h-1zM119 506h1v1h-1z" fill="#7e84b4" fill-opacity="0.75" shape-rendering="crispEdges"/>
<path d="M76 447h2v1h-2zM82 448h1v1h-1zM98 448h2v1h-2zM106 449h1v1h-1zM110 450h1v1h-1zM116 452h1v1h-1zM59 453h1v1h-1zM117 453h1v1h-1zM118 456h1v1h-1zM59 461h1v1h-1zM117 465h1v1h-1zM111 466h1v1h-1zM59 468h1v1h-1zM98 469h3v1h-3zM114 470h2v1h-2zM89 471h1v1h-1zM110 471h2v1h-2zM114 471h1v1h-1zM116 471h1v1h-1zM90 472h1v1h-1zM94 472h1v1h-1zM115 472h2v1h-2zM91 473h1v1h-1zM93 473h1v1h-1zM107 473h1v1h-1zM109 473h1v1h-1zM113 473h1v1h-1zM116 473h1v1h-1zM119 473h1v1h-1zM90 474h1v1h-1zM96 474h2v1h-2zM104 474h1v1h-1zM109 474h1v1h-1zM112 474h1v1h-1zM121 474h1v1h-1zM92 475h3v1h-3zM96 475h2v1h-2zM104 475h1v1h-1zM109 475h1v1h-1zM113 475h1v1h-1zM122 475h1v1h-1zM89 476h1v1h-1zM95 476h2v1h-2zM105 476h2v1h-2zM108 476h2v1h-2zM111 476h2v1h-2zM90 477h1v1h-1zM92 477h2v1h-2zM105 477h1v1h-1zM108 477h1v1h-1zM122 477h1v1h-1zM110 478h1v1h-1zM123 478h1v1h-1zM101 479h1v1h-1zM104 479h1v1h-1zM107 479h1v1h-1zM109 479h1v1h-1zM100 480h2v1h-2zM106 480h1v1h-1zM108 480h2v1h-2zM114 480h1v1h-1zM123 480h1v1h-1zM98 481h1v1h-1zM108 481h2v1h-2zM107 482h1v1h-1zM109 482h1v1h-1zM123 482h1v1h-1zM93 483h1v1h-1zM100 483h2v1h-2zM104 484h2v1h-2zM108 484h2v1h-2zM102 485h1v1h-1zM59 486h1v1h-1zM123 486h1v1h-1zM123 487h1v1h-1zM123 488h1v1h-1zM59 489h1v1h-1zM59 490h1v1h-1zM124 496h1v1h-1zM59 498h1v1h-1zM124 500h1v1h-1zM123 502h1v1h-1zM61 504h1v1h-1zM84 504h1v1h-1zM122 504h1v1h-1zM95 505h2v1h-2zM101 505h1v1h-1zM110 505h1v1h-1zM117 505h1v1h-1zM120 505h2v1h-2z" fill="#727eae" shape-rendering="crispEdges"/>
<path d="M83 447h1v1h-1zM90 447h1v1h-1zM106 448h1v1h-1zM118 454h1v1h-1zM120 457h1v1h-1zM119 461h1v1h-1zM104 469h1v1h-1zM102 470h1v1h-1zM97 471h2v1h-2zM62 505h3v1h-3z" fill="#7e8aba" fill-opacity="0.75" shape-rendering="crispEdges"/>
<path d="M86 447h2v1h-2zM94 447h1v1h-1zM96 447h1v1h-1zM98 447h1v1h-1zM100 447h1v1h-1zM120 466h1v1h-1zM122 469h1v1h-1zM99 470h1v1h-1zM101 470h1v1h-1zM125 477h1v1h-1zM125 483h1v1h-1zM94 506h2v1h-2z" fill="#8490ba" fill-opacity="0.75" shape-rendering="crispEdges"/>
<path d="M88 447h2v1h-2zM93 447h1v1h-1zM110 449h1v1h-1zM119 455h1v1h-1zM109 468h1v1h-1zM121 468h1v1h-1zM105 469h1v1h-1zM125 484h1v1h-1zM125 485h1v1h-1zM124 502h1v1h-1zM106 506h1v1h-1z" fill="#848aba" fill-opacity="0.75" shape-rendering="crispEdges"/>
<path d="M60 448h2v1h-2zM73 448h1v1h-1zM81 448h1v1h-1zM86 448h2v1h-2zM101 449h1v1h-1zM105 449h1v1h-1zM108 450h1v1h-1zM114 452h1v1h-1zM59 454h1v1h-1zM114 454h1v1h-1zM117 454h1v1h-1zM117 455h1v1h-1zM59 456h1v1h-1zM117 456h1v1h-1zM59 459h1v1h-1zM118 459h1v1h-1zM117 464h1v1h-1zM114 465h1v1h-1zM106 467h3v1h-3zM103 468h1v1h-1zM91 469h2v1h-2zM95 469h1v1h-1zM83 470h2v1h-2zM87 471h1v1h-1zM118 471h1v1h-1zM87 472h2v1h-2zM93 472h1v1h-1zM117 472h2v1h-2zM88 473h1v1h-1zM114 473h1v1h-1zM88 474h1v1h-1zM114 474h1v1h-1zM117 474h1v1h-1zM119 474h2v1h-2zM88 475h1v1h-1zM114 475h1v1h-1zM116 475h1v1h-1zM121 475h1v1h-1zM85 476h2v1h-2zM115 476h1v1h-1zM120 476h1v1h-1zM86 477h1v1h-1zM88 477h2v1h-2zM107 477h1v1h-1zM111 477h2v1h-2zM115 477h1v1h-1zM118 477h2v1h-2zM121 477h1v1h-1zM90 478h3v1h-3zM106 478h1v1h-1zM111 478h2v1h-2zM114 478h4v1h-4zM119 478h1v1h-1zM122 478h1v1h-1zM91 479h2v1h-2zM111 479h2v1h-2zM115 479h1v1h-1zM120 479h1v1h-1zM88 480h5v1h-5zM102 480h4v1h-4zM110 480h1v1h-1zM113 480h1v1h-1zM81 481h1v1h-1zM88 481h1v1h-1zM90 481h1v1h-1zM94 481h2v1h-2zM103 481h1v1h-1zM105 481h2v1h-2zM110 481h1v1h-1zM119 481h1v1h-1zM121 481h2v1h-2zM81 482h1v1h-1zM89 482h1v1h-1zM93 482h2v1h-2zM97 482h1v1h-1zM104 482h2v1h-2zM110 482h1v1h-1zM117 482h2v1h-2zM121 482h2v1h-2zM92 483h1v1h-1zM95 483h1v1h-1zM102 483h1v1h-1zM104 483h3v1h-3zM110 483h1v1h-1zM117 483h1v1h-1zM120 483h3v1h-3zM92 484h1v1h-1zM96 484h1v1h-1zM120 484h2v1h-2zM96 485h2v1h-2zM99 485h1v1h-1zM103 485h2v1h-2zM107 485h1v1h-1zM103 486h1v1h-1zM122 486h1v1h-1zM122 488h1v1h-1zM122 489h1v1h-1zM59 491h1v1h-1zM59 493h1v1h-1zM59 496h1v1h-1zM123 501h1v1h-1zM122 502h1v1h-1zM60 503h1v1h-1zM62 504h1v1h-1zM79 504h2v1h-2zM85 504h2v1h-2zM92 504h1v1h-1zM98 504h1v1h-1zM111 505h1v1h-1zM118 505h2v1h-2z" fill="#6c78ae" shape-rendering="crispEdges"/>
<path d="M62 448h2v1h-2zM65 448h1v1h-1zM67 448h5v1h-5zM75 448h1v1h-1zM77 448h2v1h-2zM61 449h1v1h-1zM73 449h2v1h-2zM78 449h4v1h-4zM83 449h1v1h-1zM92 449h3v1h-3zM80 450h3v1h-3zM84 450h3v1h-3zM89 450h2v1h-2zM92 450h7v1h-7zM100 450h1v1h-1zM79 451h3v1h-3zM85 451h2v1h-2zM101 451h8v1h-8zM108 452h5v1h-5zM60 453h1v1h-1zM112 453h2v1h-2zM60 454h1v1h-1zM78 454h1v1h-1zM81 454h1v1h-1zM106 454h1v1h-1zM112 454h1v1h-1zM60 455h1v1h-1zM106 455h3v1h-3zM112 455h1v1h-1zM60 456h1v1h-1zM106 456h3v1h-3zM112 456h4v1h-4zM87 457h1v1h-1zM106 457h3v1h-3zM111 457h6v1h-6zM60 458h1v1h-1zM106 458h3v1h-3zM112 458h2v1h-2zM115 458h2v1h-2zM60 459h1v1h-1zM106 459h1v1h-1zM108 459h2v1h-2zM112 459h1v1h-1zM114 459h3v1h-3zM60 460h1v1h-1zM102 460h2v1h-2zM106 460h4v1h-4zM112 460h3v1h-3zM60 461h1v1h-1zM106 461h4v1h-4zM112 461h2v1h-2zM60 462h1v1h-1zM106 462h4v1h-4zM111 462h4v1h-4zM100 463h1v1h-1zM106 463h1v1h-1zM108 463h8v1h-8zM99 464h1v1h-1zM108 464h1v1h-1zM110 464h1v1h-1zM113 464h1v1h-1zM99 465h2v1h-2zM104 465h1v1h-1zM106 465h4v1h-4zM60 466h1v1h-1zM100 466h4v1h-4zM105 466h1v1h-1zM80 467h2v1h-2zM96 467h5v1h-5zM61 468h1v1h-1zM75 468h1v1h-1zM80 468h6v1h-6zM87 468h1v1h-1zM89 468h7v1h-7zM99 468h1v1h-1zM61 469h1v1h-1zM80 469h1v1h-1zM81 470h1v1h-1zM80 472h1v1h-1zM83 472h1v1h-1zM83 473h1v1h-1zM86 473h1v1h-1zM60 474h1v1h-1zM80 474h1v1h-1zM85 474h1v1h-1zM60 475h1v1h-1zM80 475h1v1h-1zM80 476h1v1h-1zM83 477h1v1h-1zM82 478h3v1h-3zM80 479h1v1h-1zM82 479h1v1h-1zM80 480h1v1h-1zM80 481h1v1h-1zM60 482h1v1h-1zM85 482h2v1h-2zM60 483h1v1h-1zM80 483h1v1h-1zM60 484h1v1h-1zM81 484h10v1h-10zM113 484h4v1h-4zM118 484h1v1h-1zM80 485h4v1h-4zM85 485h1v1h-1zM90 485h1v1h-1zM111 485h4v1h-4zM82 486h4v1h-4zM90 486h1v1h-1zM92 486h2v1h-2zM95 486h1v1h-1zM109 486h2v1h-2zM118 486h3v1h-3zM60 487h1v1h-1zM82 487h4v1h-4zM91 487h2v1h-2zM96 487h6v1h-6zM109 487h1v1h-1zM118 487h3v1h-3zM90 488h1v1h-1zM92 488h2v1h-2zM97 488h3v1h-3zM102 488h4v1h-4zM107 488h3v1h-3zM111 488h1v1h-1zM114 488h2v1h-2zM118 488h3v1h-3zM60 489h1v1h-1zM89 489h5v1h-5zM98 489h2v1h-2zM102 489h1v1h-1zM104 489h1v1h-1zM106 489h6v1h-6zM114 489h2v1h-2zM117 489h4v1h-4zM60 490h1v1h-1zM89 490h1v1h-1zM91 490h1v1h-1zM106 490h2v1h-2zM109 490h3v1h-3zM116 490h5v1h-5zM90 491h4v1h-4zM100 491h2v1h-2zM104 491h3v1h-3zM109 491h3v1h-3zM117 491h1v1h-1zM119 491h3v1h-3zM92 492h1v1h-1zM98 492h4v1h-4zM104 492h3v1h-3zM108 492h5v1h-5zM117 492h4v1h-4zM91 493h2v1h-2zM97 493h1v1h-1zM99 493h3v1h-3zM105 493h1v1h-1zM108 493h3v1h-3zM117 493h3v1h-3zM99 494h2v1h-2zM108 494h2v1h-2zM119 494h4v1h-4zM89 495h1v1h-1zM100 495h1v1h-1zM108 495h1v1h-1zM113 495h3v1h-3zM119 495h4v1h-4zM89 496h4v1h-4zM98 496h3v1h-3zM109 496h3v1h-3zM113 496h10v1h-10zM88 497h2v1h-2zM98 497h2v1h-2zM110 497h3v1h-3zM114 497h1v1h-1zM117 497h2v1h-2zM120 497h3v1h-3zM60 498h1v1h-1zM81 498h6v1h-6zM91 498h3v1h-3zM111 498h2v1h-2zM118 498h1v1h-1zM121 498h1v1h-1zM81 499h5v1h-5zM91 499h3v1h-3zM99 499h2v1h-2zM105 499h3v1h-3zM110 499h3v1h-3zM117 499h3v1h-3zM121 499h1v1h-1zM60 500h1v1h-1zM80 500h5v1h-5zM86 500h2v1h-2zM92 500h2v1h-2zM99 500h2v1h-2zM104 500h5v1h-5zM110 500h1v1h-1zM112 500h2v1h-2zM115 500h3v1h-3zM120 500h1v1h-1zM60 501h1v1h-1zM80 501h3v1h-3zM86 501h1v1h-1zM95 501h3v1h-3zM99 501h2v1h-2zM102 501h3v1h-3zM106 501h2v1h-2zM109 501h1v1h-1zM112 501h1v1h-1zM115 501h3v1h-3zM120 501h1v1h-1zM64 502h1v1h-1zM80 502h1v1h-1zM82 502h4v1h-4zM87 502h1v1h-1zM91 502h8v1h-8zM100 502h1v1h-1zM102 502h2v1h-2zM105 502h1v1h-1zM107 502h4v1h-4zM112 502h3v1h-3zM116 502h2v1h-2zM120 502h1v1h-1zM61 503h3v1h-3zM69 503h1v1h-1zM77 503h6v1h-6zM88 503h1v1h-1zM90 503h2v1h-2zM93 503h3v1h-3zM97 503h1v1h-1zM100 503h3v1h-3zM104 503h15v1h-15zM120 503h1v1h-1zM67 504h5v1h-5zM119 504h1v1h-1z" fill="#5a6ca2" shape-rendering="crispEdges"/>
<path d="M72 448h1v1h-1zM74 448h1v1h-1zM92 448h2v1h-2zM98 449h1v1h-1zM110 451h1v1h-1zM112 451h1v1h-1zM115 453h1v1h-1zM115 454h1v1h-1zM114 455h1v1h-1zM117 457h1v1h-1zM117 460h1v1h-1zM117 461h1v1h-1zM116 464h1v1h-1zM111 465h2v1h-2zM105 467h1v1h-1zM60 468h1v1h-1zM101 468h2v1h-2zM60 469h1v1h-1zM82 469h1v1h-1zM84 469h2v1h-2zM87 469h4v1h-4zM82 470h1v1h-1zM85 470h1v1h-1zM60 471h1v1h-1zM83 471h4v1h-4zM81 473h1v1h-1zM87 473h1v1h-1zM86 475h1v1h-1zM120 475h1v1h-1zM81 476h1v1h-1zM84 476h1v1h-1zM114 476h1v1h-1zM119 476h1v1h-1zM114 477h1v1h-1zM85 478h1v1h-1zM88 478h2v1h-2zM121 478h1v1h-1zM81 479h1v1h-1zM116 479h2v1h-2zM81 480h1v1h-1zM84 480h2v1h-2zM112 480h1v1h-1zM116 480h2v1h-2zM87 481h1v1h-1zM91 481h1v1h-1zM93 481h1v1h-1zM111 481h1v1h-1zM116 481h2v1h-2zM82 482h1v1h-1zM91 482h2v1h-2zM95 482h2v1h-2zM112 482h2v1h-2zM82 483h1v1h-1zM87 483h2v1h-2zM91 483h1v1h-1zM96 483h1v1h-1zM110 484h1v1h-1zM119 484h1v1h-1zM94 485h1v1h-1zM109 485h1v1h-1zM120 485h1v1h-1zM97 486h2v1h-2zM100 486h2v1h-2zM104 486h2v1h-2zM107 486h1v1h-1zM121 486h1v1h-1zM107 487h1v1h-1zM59 494h1v1h-1zM123 497h1v1h-1zM123 498h1v1h-1zM122 501h1v1h-1zM84 503h1v1h-1zM82 504h1v1h-1zM88 504h1v1h-1zM90 504h1v1h-1zM93 504h1v1h-1zM95 504h3v1h-3zM100 504h1v1h-1zM102 504h1v1h-1zM105 504h1v1h-1zM108 504h3v1h-3zM115 504h2v1h-2zM121 504h1v1h-1zM113 505h1v1h-1z" fill="#6672a8" shape-rendering="crispEdges"/>
<path d="M79 448h1v1h-1zM89 449h2v1h-2zM97 449h1v1h-1zM102 450h2v1h-2zM105 450h2v1h-2zM109 451h1v1h-1zM111 451h1v1h-1zM113 454h1v1h-1zM113 455h1v1h-1zM115 455h1v1h-1zM117 459h1v1h-1zM115 461h1v1h-1zM60 464h1v1h-1zM112 464h1v1h-1zM115 464h1v1h-1zM107 466h2v1h-2zM60 467h1v1h-1zM102 467h1v1h-1zM104 467h1v1h-1zM97 468h1v1h-1zM81 469h1v1h-1zM60 470h1v1h-1zM81 471h2v1h-2zM60 472h1v1h-1zM84 472h3v1h-3zM82 474h1v1h-1zM81 475h1v1h-1zM83 475h2v1h-2zM118 475h1v1h-1zM81 477h1v1h-1zM84 477h1v1h-1zM60 480h1v1h-1zM82 480h1v1h-1zM86 480h2v1h-2zM60 481h1v1h-1zM82 481h1v1h-1zM84 481h2v1h-2zM84 483h1v1h-1zM114 483h1v1h-1zM111 484h1v1h-1zM119 485h1v1h-1zM96 486h1v1h-1zM108 486h1v1h-1zM103 487h1v1h-1zM121 487h1v1h-1zM122 491h1v1h-1zM123 496h1v1h-1zM122 499h1v1h-1zM122 500h1v1h-1zM121 501h1v1h-1zM99 503h1v1h-1zM75 504h1v1h-1zM106 504h1v1h-1zM111 504h1v1h-1zM114 504h1v1h-1zM120 504h1v1h-1z" fill="#606ca8" shape-rendering="crispEdges"/>
<path d="M85 448h1v1h-1zM104 449h1v1h-1zM83 469h1v1h-1zM86 478h1v1h-1zM111 482h1v1h-1zM102 486h1v1h-1z" fill="#6c78a8" shape-rendering="crispEdges"/>
<path d="M96 448h1v1h-1zM102 449h1v1h-1zM118 460h1v1h-1zM97 469h1v1h-1zM88 471h1v1h-1zM115 471h1v1h-1zM92 473h1v1h-1zM115 473h1v1h-1zM118 473h1v1h-1zM108 474h1v1h-1zM89 475h1v1h-1zM108 475h1v1h-1zM121 476h1v1h-1zM93 478h1v1h-1zM110 479h1v1h-1zM113 479h2v1h-2zM93 480h1v1h-1zM101 481h1v1h-1zM100 482h2v1h-2zM94 483h1v1h-1zM109 483h1v1h-1zM93 484h1v1h-1z" fill="#7278ae" shape-rendering="crispEdges"/>
<path d="M59 449h1v1h-1zM118 463h1v1h-1zM59 465h1v1h-1zM112 466h1v1h-1zM119 468h1v1h-1zM59 469h1v1h-1zM119 469h1v1h-1zM119 470h1v1h-1zM94 471h1v1h-1zM105 471h2v1h-2zM113 471h1v1h-1zM106 472h1v1h-1zM111 473h1v1h-1zM103 474h1v1h-1zM105 474h1v1h-1zM105 475h1v1h-1zM91 477h1v1h-1zM94 477h2v1h-2zM96 478h1v1h-1zM101 478h1v1h-1zM94 479h1v1h-1zM96 479h1v1h-1zM123 481h1v1h-1zM100 485h1v1h-1zM124 495h1v1h-1zM67 505h2v1h-2zM100 505h1v1h-1zM105 505h1v1h-1zM116 505h1v1h-1z" fill="#727eb4" shape-rendering="crispEdges"/>
<path d="M62 449h11v1h-11zM75 449h3v1h-3zM61 450h18v1h-18zM83 450h1v1h-1zM87 450h2v1h-2zM99 450h1v1h-1zM61 451h9v1h-9zM74 451h5v1h-5zM82 451h3v1h-3zM87 451h14v1h-14zM61 452h7v1h-7zM77 452h31v1h-31zM61 453h5v1h-5zM78 453h34v1h-34zM61 454h2v1h-2zM79 454h2v1h-2zM82 454h24v1h-24zM107 454h1v1h-1zM109 454h3v1h-3zM61 455h2v1h-2zM79 455h27v1h-27zM109 455h3v1h-3zM61 456h2v1h-2zM79 456h27v1h-27zM109 456h3v1h-3zM61 457h2v1h-2zM79 457h8v1h-8zM88 457h18v1h-18zM109 457h2v1h-2zM61 458h2v1h-2zM79 458h27v1h-27zM109 458h3v1h-3zM61 459h2v1h-2zM79 459h27v1h-27zM107 459h1v1h-1zM110 459h2v1h-2zM61 460h1v1h-1zM80 460h22v1h-22zM104 460h2v1h-2zM110 460h2v1h-2zM61 461h1v1h-1zM80 461h26v1h-26zM110 461h2v1h-2zM61 462h1v1h-1zM80 462h26v1h-26zM110 462h1v1h-1zM61 463h2v1h-2zM79 463h21v1h-21zM101 463h5v1h-5zM61 464h2v1h-2zM79 464h20v1h-20zM101 464h5v1h-5zM61 465h2v1h-2zM78 465h21v1h-21zM101 465h3v1h-3zM61 466h3v1h-3zM78 466h22v1h-22zM61 467h4v1h-4zM77 467h3v1h-3zM82 467h14v1h-14zM62 468h4v1h-4zM76 468h4v1h-4zM86 468h1v1h-1zM62 469h6v1h-6zM75 469h5v1h-5zM61 470h8v1h-8zM74 470h7v1h-7zM61 471h7v1h-7zM73 471h8v1h-8zM61 472h7v1h-7zM73 472h4v1h-4zM78 472h2v1h-2zM61 473h8v1h-8zM73 473h7v1h-7zM61 474h7v1h-7zM74 474h6v1h-6zM61 475h7v1h-7zM74 475h6v1h-6zM61 476h7v1h-7zM74 476h6v1h-6zM61 477h7v1h-7zM74 477h7v1h-7zM61 478h7v1h-7zM74 478h7v1h-7zM61 479h7v1h-7zM73 479h7v1h-7zM61 480h7v1h-7zM73 480h7v1h-7zM61 481h6v1h-6zM74 481h6v1h-6zM61 482h6v1h-6zM74 482h6v1h-6zM61 483h5v1h-5zM75 483h5v1h-5zM61 484h4v1h-4zM77 484h4v1h-4zM61 485h3v1h-3zM77 485h3v1h-3zM84 485h1v1h-1zM87 485h3v1h-3zM115 485h3v1h-3zM61 486h2v1h-2zM79 486h3v1h-3zM86 486h4v1h-4zM111 486h7v1h-7zM61 487h1v1h-1zM79 487h3v1h-3zM86 487h5v1h-5zM94 487h2v1h-2zM110 487h8v1h-8zM61 488h1v1h-1zM79 488h11v1h-11zM94 488h3v1h-3zM100 488h2v1h-2zM110 488h1v1h-1zM112 488h2v1h-2zM116 488h2v1h-2zM61 489h1v1h-1zM79 489h10v1h-10zM94 489h4v1h-4zM100 489h2v1h-2zM103 489h1v1h-1zM112 489h2v1h-2zM116 489h1v1h-1zM61 490h1v1h-1zM79 490h10v1h-10zM92 490h13v1h-13zM108 490h1v1h-1zM112 490h4v1h-4zM60 491h1v1h-1zM79 491h11v1h-11zM94 491h6v1h-6zM102 491h2v1h-2zM107 491h2v1h-2zM112 491h5v1h-5zM60 492h1v1h-1zM80 492h11v1h-11zM93 492h5v1h-5zM102 492h2v1h-2zM107 492h1v1h-1zM113 492h4v1h-4zM60 493h1v1h-1zM80 493h11v1h-11zM93 493h4v1h-4zM102 493h3v1h-3zM106 493h2v1h-2zM111 493h6v1h-6zM60 494h1v1h-1zM80 494h19v1h-19zM101 494h7v1h-7zM110 494h9v1h-9zM60 495h1v1h-1zM80 495h9v1h-9zM90 495h10v1h-10zM101 495h7v1h-7zM110 495h3v1h-3zM116 495h3v1h-3zM60 496h2v1h-2zM80 496h8v1h-8zM93 496h5v1h-5zM101 496h8v1h-8zM112 496h1v1h-1zM60 497h2v1h-2zM79 497h9v1h-9zM90 497h8v1h-8zM100 497h9v1h-9zM113 497h1v1h-1zM115 497h2v1h-2zM119 497h1v1h-1zM61 498h1v1h-1zM79 498h2v1h-2zM87 498h4v1h-4zM94 498h5v1h-5zM100 498h6v1h-6zM107 498h4v1h-4zM113 498h5v1h-5zM119 498h2v1h-2zM61 499h1v1h-1zM78 499h3v1h-3zM87 499h4v1h-4zM94 499h4v1h-4zM101 499h4v1h-4zM108 499h2v1h-2zM113 499h3v1h-3zM120 499h1v1h-1zM61 500h2v1h-2zM77 500h3v1h-3zM88 500h4v1h-4zM94 500h5v1h-5zM101 500h2v1h-2zM109 500h1v1h-1zM114 500h1v1h-1zM118 500h2v1h-2zM61 501h2v1h-2zM77 501h3v1h-3zM87 501h8v1h-8zM98 501h1v1h-1zM101 501h1v1h-1zM108 501h1v1h-1zM110 501h2v1h-2zM113 501h2v1h-2zM118 501h2v1h-2zM61 502h3v1h-3zM76 502h4v1h-4zM88 502h3v1h-3zM101 502h1v1h-1zM111 502h1v1h-1zM115 502h1v1h-1zM118 502h2v1h-2zM64 503h5v1h-5zM71 503h6v1h-6zM119 503h1v1h-1z" fill="#5a66a2" shape-rendering="crispEdges"/>
<path d="M88 449h1v1h-1zM91 449h1v1h-1zM96 449h1v1h-1zM60 450h1v1h-1zM101 450h1v1h-1zM60 452h1v1h-1zM113 452h1v1h-1zM60 457h1v1h-1zM117 458h1v1h-1zM115 460h1v1h-1zM114 461h1v1h-1zM60 463h1v1h-1zM107 463h1v1h-1zM60 465h1v1h-1zM110 465h1v1h-1zM106 466h1v1h-1zM103 467h1v1h-1zM96 468h1v1h-1zM82 472h1v1h-1zM82 473h1v1h-1zM84 473h1v1h-1zM82 475h1v1h-1zM85 475h1v1h-1zM60 476h1v1h-1zM60 478h1v1h-1zM60 479h1v1h-1zM84 479h1v1h-1zM83 480h1v1h-1zM83 481h1v1h-1zM86 481h1v1h-1zM86 483h1v1h-1zM113 483h1v1h-1zM92 485h1v1h-1zM110 485h1v1h-1zM104 487h2v1h-2zM108 487h1v1h-1zM106 488h1v1h-1zM121 488h1v1h-1zM121 489h1v1h-1zM90 490h1v1h-1zM120 493h1v1h-1zM122 498h1v1h-1zM60 502h1v1h-1zM85 503h1v1h-1zM87 503h1v1h-1zM96 503h1v1h-1zM103 503h1v1h-1zM66 504h1v1h-1zM72 504h2v1h-2zM113 504h1v1h-1z" fill="#606ca2" shape-rendering="crispEdges"/>
<path d="M103 449h1v1h-1zM117 476h1v1h-1z" fill="#6c72a8" shape-rendering="crispEdges"/>
<path d="M109 449h1v1h-1zM113 450h1v1h-1zM119 462h1v1h-1zM117 466h1v1h-1zM125 489h1v1h-1zM123 504h1v1h-1zM115 506h2v1h-2z" fill="#7e8ab4" fill-opacity="0.75" shape-rendering="crispEdges"/>
<path d="M112 449h1v1h-1zM122 468h1v1h-1zM126 481h1v1h-1zM126 490h1v1h-1zM126 499h1v1h-1zM68 506h2v1h-2zM72 506h1v1h-1zM76 506h1v1h-1zM84 506h1v1h-1z" fill="#8a96c0" fill-opacity="0.75" shape-rendering="crispEdges"/>
<path d="M127 449h1v1h-1z" fill="#a8b4d2" fill-opacity="0.75" shape-rendering="crispEdges"/>
<path d="M70 451h1v1h-1zM61 492h1v1h-1zM79 492h1v1h-1z" fill="#667eb4" shape-rendering="crispEdges"/>
<path d="M71 451h1v1h-1zM65 467h1v1h-1zM65 502h1v1h-1z" fill="#668aba" shape-rendering="crispEdges"/>
<path d="M72 451h1v1h-1zM78 457h1v1h-1zM63 459h1v1h-1zM63 463h1v1h-1zM73 474h1v1h-1zM72 479h1v1h-1zM67 482h1v1h-1zM65 484h1v1h-1zM78 498h1v1h-1z" fill="#6c96c6" shape-rendering="crispEdges"/>
<path d="M73 451h1v1h-1zM66 453h1v1h-1zM62 462h1v1h-1zM73 481h1v1h-1zM79 494h1v1h-1zM63 501h1v1h-1z" fill="#5a72a8" shape-rendering="crispEdges"/>
<path d="M68 452h1v1h-1zM77 453h1v1h-1zM78 455h1v1h-1zM62 460h1v1h-1zM78 463h1v1h-1zM63 465h1v1h-1zM68 471h1v1h-1zM67 481h1v1h-1zM63 486h1v1h-1zM61 493h1v1h-1zM79 495h1v1h-1zM75 502h1v1h-1z" fill="#607eb4" shape-rendering="crispEdges"/>
<path d="M69 452h1v1h-1zM79 461h1v1h-1zM64 463h1v1h-1zM69 469h1v1h-1zM68 476h1v1h-1zM68 478h1v1h-1zM77 486h1v1h-1z" fill="#78a8d2" shape-rendering="crispEdges"/>
<path d="M70 452h2v1h-2zM68 453h1v1h-1zM65 454h1v1h-1zM78 460h1v1h-1zM77 462h1v1h-1zM77 464h1v1h-1zM66 467h1v1h-1zM74 467h2v1h-2zM73 469h1v1h-1zM72 471h1v1h-1zM72 478h1v1h-1zM63 487h1v1h-1zM62 489h1v1h-1zM77 499h1v1h-1z" fill="#7eaed8" shape-rendering="crispEdges"/>
<path d="M72 452h1v1h-1zM66 454h1v1h-1zM76 455h1v1h-1zM77 457h1v1h-1zM64 458h1v1h-1zM64 459h1v1h-1zM64 460h1v1h-1zM64 461h1v1h-1zM78 461h1v1h-1zM70 469h1v1h-1zM70 470h1v1h-1zM72 470h1v1h-1zM70 471h2v1h-2zM71 473h1v1h-1zM69 475h1v1h-1zM70 478h1v1h-1zM70 479h1v1h-1zM68 480h1v1h-1zM69 481h1v1h-1zM72 481h1v1h-1zM73 483h1v1h-1zM76 486h1v1h-1zM77 487h1v1h-1zM78 491h1v1h-1zM62 496h1v1h-1zM62 497h1v1h-1zM62 498h1v1h-1zM64 501h1v1h-1zM71 502h1v1h-1z" fill="#84b4d8" shape-rendering="crispEdges"/>
<path d="M73 452h1v1h-1zM76 454h1v1h-1zM77 456h1v1h-1zM64 457h1v1h-1zM64 462h1v1h-1zM77 463h1v1h-1zM64 465h1v1h-1zM65 466h1v1h-1zM73 467h1v1h-1zM68 468h1v1h-1zM73 468h1v1h-1zM69 472h3v1h-3zM70 473h1v1h-1zM72 473h1v1h-1zM69 474h1v1h-1zM68 479h1v1h-1zM71 479h1v1h-1zM68 481h1v1h-1zM68 482h1v1h-1zM64 486h1v1h-1zM78 490h1v1h-1zM78 497h1v1h-1zM63 500h1v1h-1zM76 500h1v1h-1zM75 501h1v1h-1zM67 502h1v1h-1z" fill="#7eb4d8" shape-rendering="crispEdges"/>
<path d="M74 452h1v1h-1zM64 454h1v1h-1zM64 485h1v1h-1z" fill="#729cc6" shape-rendering="crispEdges"/>
<path d="M75 452h1v1h-1zM78 456h1v1h-1zM78 458h1v1h-1zM78 459h1v1h-1zM77 466h1v1h-1zM76 467h1v1h-1zM73 470h1v1h-1zM68 475h1v1h-1zM74 483h1v1h-1zM78 487h1v1h-1zM62 488h1v1h-1zM78 488h1v1h-1z" fill="#6c90c0" shape-rendering="crispEdges"/>
<path d="M76 452h1v1h-1zM63 455h1v1h-1zM63 464h1v1h-1zM62 487h1v1h-1z" fill="#6684ba" shape-rendering="crispEdges"/>
<path d="M67 453h1v1h-1zM73 477h1v1h-1zM78 489h1v1h-1zM73 502h1v1h-1z" fill="#729ccc" shape-rendering="crispEdges"/>
<path d="M69 453h1v1h-1zM75 453h1v1h-1zM76 462h1v1h-1zM65 463h1v1h-1zM68 466h1v1h-1zM76 466h1v1h-1zM67 467h2v1h-2zM69 468h1v1h-1zM72 468h1v1h-1zM72 469h1v1h-1zM69 471h1v1h-1zM69 478h1v1h-1zM71 478h1v1h-1zM67 483h1v1h-1zM74 484h1v1h-1zM77 488h1v1h-1zM78 496h1v1h-1zM68 502h1v1h-1z" fill="#84b4d2" shape-rendering="crispEdges"/>
<path d="M70 453h1v1h-1zM74 453h1v1h-1zM67 454h2v1h-2zM65 456h1v1h-1zM76 456h1v1h-1zM76 457h1v1h-1zM65 462h1v1h-1zM76 463h1v1h-1zM65 464h1v1h-1zM76 464h1v1h-1zM76 465h1v1h-1zM66 466h2v1h-2zM70 466h2v1h-2zM74 466h2v1h-2zM69 467h1v1h-1zM72 467h1v1h-1zM70 468h2v1h-2zM71 469h1v1h-1zM70 474h1v1h-1zM69 476h1v1h-1zM72 476h1v1h-1zM69 479h1v1h-1zM69 480h3v1h-3zM70 481h1v1h-1zM69 482h1v1h-1zM72 482h1v1h-1zM68 483h1v1h-1zM66 484h1v1h-1zM75 485h1v1h-1zM63 488h1v1h-1zM77 489h1v1h-1zM62 490h1v1h-1zM62 491h1v1h-1zM62 492h1v1h-1zM78 494h1v1h-1zM62 495h1v1h-1zM77 498h1v1h-1zM65 501h1v1h-1zM69 502h1v1h-1z" fill="#8abad2" shape-rendering="crispEdges"/>
<path d="M71 453h1v1h-1zM77 459h1v1h-1zM76 461h1v1h-1zM65 465h1v1h-1zM72 466h2v1h-2zM70 467h2v1h-2zM71 474h2v1h-2zM70 475h1v1h-1zM69 477h3v1h-3zM64 487h1v1h-1zM76 487h1v1h-1zM78 492h1v1h-1zM62 494h1v1h-1z" fill="#90bad2" shape-rendering="crispEdges"/>
<path d="M72 453h1v1h-1zM74 454h1v1h-1zM66 455h1v1h-1zM74 455h1v1h-1zM75 456h1v1h-1zM65 457h1v1h-1zM75 457h1v1h-1zM65 460h1v1h-1zM65 461h1v1h-1zM75 462h1v1h-1zM66 463h1v1h-1zM75 463h1v1h-1zM66 464h2v1h-2zM75 464h1v1h-1zM66 465h1v1h-1zM69 465h2v1h-2zM72 465h1v1h-1zM75 465h1v1h-1zM71 475h1v1h-1zM71 481h1v1h-1zM72 483h1v1h-1zM74 485h1v1h-1zM65 486h1v1h-1zM63 489h1v1h-1zM77 490h1v1h-1zM77 497h1v1h-1zM76 499h1v1h-1zM64 500h1v1h-1zM74 501h1v1h-1z" fill="#96c0cc" shape-rendering="crispEdges"/>
<path d="M73 453h1v1h-1zM69 454h1v1h-1zM75 455h1v1h-1zM76 458h1v1h-1zM65 459h1v1h-1zM77 460h1v1h-1zM67 465h2v1h-2zM71 465h1v1h-1zM72 475h1v1h-1zM70 476h2v1h-2zM62 493h1v1h-1zM78 493h1v1h-1zM63 499h1v1h-1zM70 502h1v1h-1z" fill="#90c0cc" shape-rendering="crispEdges"/>
<path d="M76 453h1v1h-1zM64 455h1v1h-1zM64 456h1v1h-1zM63 462h1v1h-1zM64 464h1v1h-1zM77 465h1v1h-1zM69 470h1v1h-1zM73 475h1v1h-1zM72 480h1v1h-1z" fill="#78aed8" shape-rendering="crispEdges"/>
<path d="M63 454h1v1h-1zM79 462h1v1h-1zM78 464h1v1h-1zM61 495h1v1h-1zM70 503h1v1h-1z" fill="#5a6ca8" shape-rendering="crispEdges"/>
<path d="M70 454h1v1h-1zM67 455h1v1h-1zM74 465h1v1h-1zM66 485h1v1h-1zM63 497h1v1h-1zM63 498h1v1h-1z" fill="#96c6cc" shape-rendering="crispEdges"/>
<path d="M71 454h1v1h-1zM66 462h1v1h-1zM67 463h1v1h-1zM69 483h1v1h-1zM76 489h1v1h-1z" fill="#96c0a8" shape-rendering="crispEdges"/>
<path d="M72 454h1v1h-1z" fill="#96ba9c" shape-rendering="crispEdges"/>
<path d="M73 454h1v1h-1zM68 455h1v1h-1zM67 456h1v1h-1zM76 459h1v1h-1zM76 498h1v1h-1z" fill="#96c0b4" shape-rendering="crispEdges"/>
<path d="M75 454h1v1h-1zM75 486h1v1h-1z" fill="#90c0d2" shape-rendering="crispEdges"/>
<path d="M77 454h1v1h-1zM64 466h1v1h-1zM73 478h1v1h-1z" fill="#668ac0" shape-rendering="crispEdges"/>
<path d="M116 454h1v1h-1zM116 462h1v1h-1zM111 464h1v1h-1zM119 475h1v1h-1zM83 503h1v1h-1zM89 504h1v1h-1z" fill="#6072a8" shape-rendering="crispEdges"/>
<path d="M65 455h1v1h-1zM77 458h1v1h-1zM77 461h1v1h-1zM69 466h1v1h-1zM71 470h1v1h-1zM72 477h1v1h-1zM65 485h1v1h-1zM78 495h1v1h-1z" fill="#84bad2" shape-rendering="crispEdges"/>
<path d="M69 455h1v1h-1zM66 460h1v1h-1zM68 464h1v1h-1z" fill="#96ba90" shape-rendering="crispEdges"/>
<path d="M70 455h1v1h-1zM68 456h1v1h-1zM73 456h1v1h-1zM75 460h1v1h-1zM74 461h1v1h-1zM74 463h1v1h-1zM73 464h1v1h-1zM68 484h1v1h-1zM65 487h1v1h-1z" fill="#96ba7e" shape-rendering="crispEdges"/>
<path d="M71 455h2v1h-2zM74 458h1v1h-1zM74 460h1v1h-1zM70 483h1v1h-1zM74 487h1v1h-1zM76 491h1v1h-1zM74 500h1v1h-1zM68 501h2v1h-2z" fill="#90b45a" shape-rendering="crispEdges"/>
<path d="M73 455h1v1h-1zM75 458h1v1h-1zM74 464h1v1h-1zM71 501h1v1h-1z" fill="#96c0a2" shape-rendering="crispEdges"/>
<path d="M77 455h1v1h-1zM76 485h1v1h-1zM62 499h1v1h-1z" fill="#78a8d8" shape-rendering="crispEdges"/>
<path d="M63 456h1v1h-1zM68 474h1v1h-1zM76 484h1v1h-1zM78 486h1v1h-1zM61 491h1v1h-1zM79 493h1v1h-1zM61 494h1v1h-1zM79 496h1v1h-1zM76 501h1v1h-1z" fill="#6078ae" shape-rendering="crispEdges"/>
<path d="M66 456h1v1h-1zM73 484h1v1h-1zM75 500h1v1h-1zM72 501h1v1h-1z" fill="#96c0c6" shape-rendering="crispEdges"/>
<path d="M69 456h1v1h-1zM71 456h1v1h-1zM68 457h1v1h-1zM70 457h1v1h-1zM73 457h1v1h-1zM73 458h1v1h-1zM67 459h1v1h-1zM73 459h2v1h-2zM67 460h1v1h-1zM68 463h1v1h-1zM73 463h1v1h-1zM71 484h1v1h-1zM67 485h1v1h-1zM73 485h1v1h-1zM74 488h1v1h-1zM75 489h1v1h-1zM75 491h1v1h-1zM76 492h1v1h-1zM77 493h1v1h-1zM63 494h1v1h-1zM77 494h1v1h-1zM64 498h1v1h-1zM73 500h1v1h-1z" fill="#90b454" shape-rendering="crispEdges"/>
<path d="M70 456h1v1h-1zM75 488h1v1h-1zM63 492h1v1h-1zM77 495h1v1h-1zM64 499h1v1h-1zM75 499h1v1h-1zM65 500h1v1h-1z" fill="#90b46c" shape-rendering="crispEdges"/>
<path d="M72 456h1v1h-1zM69 457h1v1h-1zM71 457h2v1h-2zM67 458h2v1h-2zM68 459h1v1h-1zM68 460h1v1h-1zM73 460h1v1h-1zM67 461h2v1h-2zM73 461h1v1h-1zM68 462h1v1h-1zM73 462h1v1h-1zM72 463h1v1h-1zM69 464h2v1h-2zM69 484h2v1h-2zM73 486h1v1h-1zM66 487h1v1h-1zM73 487h1v1h-1zM65 488h1v1h-1zM73 488h1v1h-1zM74 489h1v1h-1zM64 490h1v1h-1zM75 490h1v1h-1zM64 491h1v1h-1zM75 492h1v1h-1zM63 493h1v1h-1zM64 495h1v1h-1zM64 496h1v1h-1zM75 496h2v1h-2zM64 497h1v1h-1zM74 497h1v1h-1zM65 499h1v1h-1zM74 499h1v1h-1zM66 500h1v1h-1zM72 500h1v1h-1z" fill="#96b454" shape-rendering="crispEdges"/>
<path d="M74 456h1v1h-1zM73 465h1v1h-1zM64 488h1v1h-1zM73 501h1v1h-1z" fill="#96c0c0" shape-rendering="crispEdges"/>
<path d="M63 457h1v1h-1zM68 469h1v1h-1z" fill="#6078b4" shape-rendering="crispEdges"/>
<path d="M66 457h1v1h-1zM72 464h1v1h-1zM71 483h1v1h-1z" fill="#96ba8a" shape-rendering="crispEdges"/>
<path d="M67 457h1v1h-1zM75 459h1v1h-1zM66 461h1v1h-1zM71 464h1v1h-1zM64 489h1v1h-1zM75 497h1v1h-1z" fill="#96ba72" shape-rendering="crispEdges"/>
<path d="M74 457h1v1h-1zM74 462h1v1h-1zM77 492h1v1h-1zM63 495h1v1h-1zM77 496h1v1h-1zM76 497h1v1h-1z" fill="#96ba84" shape-rendering="crispEdges"/>
<path d="M63 458h1v1h-1zM74 469h1v1h-1z" fill="#6c8ac0" shape-rendering="crispEdges"/>
<path d="M65 458h1v1h-1zM67 484h1v1h-1zM76 488h1v1h-1z" fill="#96c6c6" shape-rendering="crispEdges"/>
<path d="M66 458h1v1h-1zM66 486h1v1h-1zM67 501h1v1h-1z" fill="#90b466" shape-rendering="crispEdges"/>
<path d="M69 458h4v1h-4zM69 459h2v1h-2zM72 459h1v1h-1zM69 460h2v1h-2zM72 460h1v1h-1zM69 461h1v1h-1zM72 461h1v1h-1zM69 462h1v1h-1zM72 462h1v1h-1zM69 463h1v1h-1zM71 463h1v1h-1zM68 485h1v1h-1zM70 485h3v1h-3zM67 486h3v1h-3zM72 486h1v1h-1zM67 487h3v1h-3zM72 487h1v1h-1zM66 488h2v1h-2zM69 488h1v1h-1zM72 488h1v1h-1zM65 489h4v1h-4zM73 489h1v1h-1zM65 490h3v1h-3zM73 490h2v1h-2zM65 491h1v1h-1zM74 491h1v1h-1zM64 492h2v1h-2zM73 492h2v1h-2zM74 493h3v1h-3zM64 494h1v1h-1zM74 494h3v1h-3zM74 495h3v1h-3zM74 496h1v1h-1zM65 498h1v1h-1zM74 498h1v1h-1zM66 499h1v1h-1zM73 499h1v1h-1zM67 500h1v1h-1zM71 500h1v1h-1z" fill="#96b44e" shape-rendering="crispEdges"/>
<path d="M66 459h1v1h-1zM74 486h1v1h-1zM63 490h1v1h-1zM63 491h1v1h-1z" fill="#96ba96" shape-rendering="crispEdges"/>
<path d="M71 459h1v1h-1zM71 460h1v1h-1zM71 462h1v1h-1zM70 463h1v1h-1zM69 485h1v1h-1zM71 486h1v1h-1zM68 488h1v1h-1zM72 489h1v1h-1zM66 491h1v1h-1zM73 491h1v1h-1zM64 493h1v1h-1zM73 493h1v1h-1z" fill="#96b448" shape-rendering="crispEdges"/>
<path d="M63 460h1v1h-1zM63 461h1v1h-1zM67 468h1v1h-1zM73 476h1v1h-1zM66 483h1v1h-1zM75 484h1v1h-1zM72 502h1v1h-1z" fill="#72a2d2" shape-rendering="crispEdges"/>
<path d="M76 460h1v1h-1zM75 461h1v1h-1zM70 482h2v1h-2zM63 496h1v1h-1zM66 501h1v1h-1z" fill="#96c0ba" shape-rendering="crispEdges"/>
<path d="M79 460h1v1h-1zM62 461h1v1h-1zM66 468h1v1h-1zM68 472h1v1h-1z" fill="#6072ae" shape-rendering="crispEdges"/>
<path d="M70 461h2v1h-2zM70 462h1v1h-1zM70 486h1v1h-1zM70 487h2v1h-2zM70 488h2v1h-2zM69 489h2v1h-2zM68 490h1v1h-1zM72 491h1v1h-1zM73 496h1v1h-1zM73 497h1v1h-1zM68 500h1v1h-1zM70 500h1v1h-1z" fill="#9cb448" shape-rendering="crispEdges"/>
<path d="M67 462h1v1h-1zM70 501h1v1h-1z" fill="#90b460" shape-rendering="crispEdges"/>
<path d="M78 462h1v1h-1zM74 468h1v1h-1zM72 472h1v1h-1zM74 502h1v1h-1z" fill="#7296c6" shape-rendering="crispEdges"/>
<path d="M122 464h1v1h-1zM128 481h1v1h-1zM125 504h1v1h-1zM124 506h1v1h-1zM81 507h1v1h-1zM92 507h1v1h-1zM120 508h1v1h-1zM122 508h1v1h-1z" fill="#9ca2c6" fill-opacity="0.75" shape-rendering="crispEdges"/>
<path d="M102 469h1v1h-1zM108 470h1v1h-1zM110 470h1v1h-1zM110 475h1v1h-1zM100 476h1v1h-1zM102 476h1v1h-1zM123 477h1v1h-1zM103 478h1v1h-1zM96 480h1v1h-1zM82 505h1v1h-1z" fill="#7884b4" shape-rendering="crispEdges"/>
<path d="M69 473h1v1h-1zM66 502h1v1h-1z" fill="#78a2d2" shape-rendering="crispEdges"/>
<path d="M125 475h1v1h-1zM126 480h1v1h-1zM59 505h1v1h-1zM71 506h1v1h-1zM78 506h1v1h-1zM86 506h2v1h-2zM90 506h1v1h-1zM98 506h1v1h-1zM103 506h1v1h-1zM105 506h1v1h-1z" fill="#8a90ba" fill-opacity="0.75" shape-rendering="crispEdges"/>
<path d="M68 477h1v1h-1z" fill="#72a2cc" shape-rendering="crispEdges"/>
<path d="M73 482h1v1h-1z" fill="#6c90c6" shape-rendering="crispEdges"/>
<path d="M72 484h1v1h-1z" fill="#96b472" shape-rendering="crispEdges"/>
<path d="M128 484h1v1h-1zM128 490h1v1h-1zM104 508h1v1h-1z" fill="#9ca8c6" fill-opacity="0.75" shape-rendering="crispEdges"/>
<path d="M75 487h1v1h-1zM77 491h1v1h-1z" fill="#96c0ae" shape-rendering="crispEdges"/>
<path d="M71 489h1v1h-1zM69 490h1v1h-1zM72 490h1v1h-1zM72 492h1v1h-1zM73 494h1v1h-1zM65 495h1v1h-1zM73 495h1v1h-1zM73 498h1v1h-1zM72 499h1v1h-1zM69 500h1v1h-1z" fill="#9cba48" shape-rendering="crispEdges"/>
<path d="M70 490h2v1h-2zM71 491h1v1h-1zM65 496h1v1h-1z" fill="#a8c042" shape-rendering="crispEdges"/>
<path d="M76 490h1v1h-1zM75 498h1v1h-1z" fill="#96ba78" shape-rendering="crispEdges"/>
<path d="M67 491h1v1h-1z" fill="#a8ba42" shape-rendering="crispEdges"/>
<path d="M68 491h1v1h-1zM70 491h1v1h-1z" fill="#cccc3c" shape-rendering="crispEdges"/>
<path d="M69 491h1v1h-1z" fill="#d2d23c" shape-rendering="crispEdges"/>
<path d="M66 492h1v1h-1zM67 499h1v1h-1z" fill="#aec042" shape-rendering="crispEdges"/>
<path d="M67 492h1v1h-1zM68 499h1v1h-1z" fill="#f0d236" shape-rendering="crispEdges"/>
<path d="M68 492h1v1h-1zM66 495h1v1h-1zM71 498h1v1h-1z" fill="#eab430" shape-rendering="crispEdges"/>
<path d="M69 492h1v1h-1zM66 494h1v1h-1zM66 497h1v1h-1z" fill="#eac036" shape-rendering="crispEdges"/>
<path d="M70 492h1v1h-1z" fill="#f0d83c" shape-rendering="crispEdges"/>
<path d="M71 492h1v1h-1zM72 497h1v1h-1zM72 498h1v1h-1z" fill="#d8d23c" shape-rendering="crispEdges"/>
<path d="M65 493h1v1h-1zM65 494h1v1h-1zM65 497h1v1h-1z" fill="#a2ba42" shape-rendering="crispEdges"/>
<path d="M66 493h1v1h-1z" fill="#ead83c" shape-rendering="crispEdges"/>
<path d="M67 493h1v1h-1zM71 497h1v1h-1z" fill="#eaa230" shape-rendering="crispEdges"/>
<path d="M68 493h1v1h-1zM67 497h1v1h-1z" fill="#d8422a" shape-rendering="crispEdges"/>
<path d="M69 493h1v1h-1z" fill="#de6c30" shape-rendering="crispEdges"/>
<path d="M70 493h1v1h-1zM71 494h1v1h-1zM71 496h1v1h-1zM69 499h1v1h-1z" fill="#eaae30" shape-rendering="crispEdges"/>
<path d="M71 493h1v1h-1zM70 499h1v1h-1z" fill="#eac636" shape-rendering="crispEdges"/>
<path d="M72 493h1v1h-1zM72 496h1v1h-1z" fill="#c6cc42" shape-rendering="crispEdges"/>
<path d="M67 494h1v1h-1z" fill="#d8482a" shape-rendering="crispEdges"/>
<path d="M68 494h2v1h-2zM68 495h2v1h-2zM67 496h3v1h-3zM68 497h3v1h-3zM69 498h1v1h-1z" fill="#d22a2a" shape-rendering="crispEdges"/>
<path d="M70 494h1v1h-1z" fill="#d84e2a" shape-rendering="crispEdges"/>
<path d="M72 494h1v1h-1z" fill="#ded83c" shape-rendering="crispEdges"/>
<path d="M67 495h1v1h-1z" fill="#d2362a" shape-rendering="crispEdges"/>
<path d="M70 495h1v1h-1zM70 496h1v1h-1z" fill="#d23c2a" shape-rendering="crispEdges"/>
<path d="M71 495h1v1h-1zM66 496h1v1h-1z" fill="#eaa830" shape-rendering="crispEdges"/>
<path d="M72 495h1v1h-1z" fill="#e4d83c" shape-rendering="crispEdges"/>
<path d="M126 495h1v1h-1zM126 501h1v1h-1z" fill="#969cc0" fill-opacity="0.75" shape-rendering="crispEdges"/>
<path d="M66 498h1v1h-1z" fill="#bac642" shape-rendering="crispEdges"/>
<path d="M67 498h1v1h-1z" fill="#eaba36" shape-rendering="crispEdges"/>
<path d="M68 498h1v1h-1zM70 498h1v1h-1z" fill="#d85a2a" shape-rendering="crispEdges"/>
<path d="M71 499h1v1h-1z" fill="#c6cc3c" shape-rendering="crispEdges"/>
<path d="M76 508h1v1h-1zM84 508h1v1h-1zM124 508h1v1h-1z" fill="#a2aecc" fill-opacity="0.75" shape-rendering="crispEdges"/></g>
<g filter="url(#sb)"><path d="M78 561h1v1h-1zM91 562h1v1h-1zM100 562h1v1h-1zM102 562h1v1h-1zM123 563h1v1h-1zM82 564h1v1h-1zM128 564h1v1h-1zM130 569h1v1h-1zM128 590h1v1h-1zM129 609h1v1h-1zM128 620h1v1h-1zM129 622h1v1h-1zM131 622h1v1h-1zM128 629h1v1h-1zM62 630h1v1h-1zM66 631h1v1h-1zM74 631h1v1h-1zM85 631h1v1h-1zM89 631h1v1h-1z" fill="#aeb4d2" fill-opacity="0.75" shape-rendering="crispEdges"/>
<path d="M77 563h1v1h-1zM126 566h1v1h-1zM127 574h1v1h-1zM127 615h1v1h-1z" fill="#a8b4cc" fill-opacity="0.75" shape-rendering="crispEdges"/>
<path d="M73 564h1v1h-1zM75 564h1v1h-1zM79 564h1v1h-1zM93 564h1v1h-1zM113 564h2v1h-2zM122 564h1v1h-1zM62 565h1v1h-1zM86 565h1v1h-1zM88 565h1v1h-1zM102 565h1v1h-1zM90 566h1v1h-1zM94 566h1v1h-1zM119 566h1v1h-1zM124 566h1v1h-1zM79 567h1v1h-1zM99 567h1v1h-1zM109 567h1v1h-1zM120 567h1v1h-1zM93 568h2v1h-2zM99 568h1v1h-1zM104 568h1v1h-1zM107 568h1v1h-1zM116 568h1v1h-1zM121 568h1v1h-1zM108 569h1v1h-1zM116 569h1v1h-1zM97 570h1v1h-1zM109 570h1v1h-1zM117 570h1v1h-1zM119 570h1v1h-1zM123 570h1v1h-1zM112 571h2v1h-2zM119 571h2v1h-2zM105 572h1v1h-1zM110 572h1v1h-1zM115 572h2v1h-2zM119 572h2v1h-2zM110 573h1v1h-1zM113 573h1v1h-1zM119 574h1v1h-1zM123 574h1v1h-1zM110 575h1v1h-1zM117 575h2v1h-2zM123 575h1v1h-1zM117 576h1v1h-1zM122 578h1v1h-1zM116 579h1v1h-1zM117 580h1v1h-1zM121 580h1v1h-1zM127 580h1v1h-1zM122 581h1v1h-1zM124 581h1v1h-1zM124 582h1v1h-1zM120 583h1v1h-1zM124 584h1v1h-1zM126 585h1v1h-1zM123 588h1v1h-1zM126 588h1v1h-1zM126 595h1v1h-1zM128 601h1v1h-1zM127 617h1v1h-1zM123 619h1v1h-1zM127 621h1v1h-1zM124 623h1v1h-1zM74 628h1v1h-1zM79 630h2v1h-2zM122 630h1v1h-1zM97 631h1v1h-1z" fill="#a8aecc" fill-opacity="0.75" shape-rendering="crispEdges"/>
<path d="M61 567h1v1h-1zM92 569h1v1h-1zM119 610h1v1h-1z" fill="#a2aecc" fill-opacity="0.75" shape-rendering="crispEdges"/>
<path d="M68 567h1v1h-1zM82 568h1v1h-1zM93 570h1v1h-1zM119 583h1v1h-1zM120 584h1v1h-1zM127 604h1v1h-1zM126 608h1v1h-1zM117 609h2v1h-2zM120 614h1v1h-1zM121 615h1v1h-1zM122 619h1v1h-1zM80 628h2v1h-2zM122 628h1v1h-1zM86 629h2v1h-2zM121 631h1v1h-1z" fill="#a2a8cc" fill-opacity="0.75" shape-rendering="crispEdges"/>
<path d="M63 568h2v1h-2zM85 570h1v1h-1zM91 571h1v1h-1zM108 578h1v1h-1zM109 579h1v1h-1zM114 583h1v1h-1zM116 584h1v1h-1zM117 586h1v1h-1zM119 590h1v1h-1zM120 593h1v1h-1zM120 594h1v1h-1zM121 599h1v1h-1zM121 600h1v1h-1zM121 601h1v1h-1zM122 602h1v1h-1zM120 603h1v1h-1zM122 603h1v1h-1zM118 605h1v1h-1zM122 605h1v1h-1zM109 606h1v1h-1zM112 606h1v1h-1zM123 606h1v1h-1zM59 626h1v1h-1zM118 631h1v1h-1z" fill="#909cc0" fill-opacity="0.75" shape-rendering="crispEdges"/>
<path d="M65 568h1v1h-1zM73 568h1v1h-1zM96 573h1v1h-1zM97 574h1v1h-1zM101 575h1v1h-1zM103 576h1v1h-1zM116 585h1v1h-1zM117 587h1v1h-1zM118 588h1v1h-1zM118 589h1v1h-1zM121 598h2v1h-2zM120 600h1v1h-1zM120 602h1v1h-1zM113 604h1v1h-1zM116 605h1v1h-1zM116 612h1v1h-1zM119 615h1v1h-1zM62 626h2v1h-2zM83 627h1v1h-1zM90 628h1v1h-1z" fill="#9096c0" fill-opacity="0.75" shape-rendering="crispEdges"/>
<path d="M61 569h1v1h-1zM96 575h1v1h-1zM102 579h2v1h-2zM106 584h1v1h-1zM105 595h1v1h-1zM108 598h1v1h-1zM109 602h2v1h-2zM106 606h1v1h-1z" fill="#7e8ab4" fill-opacity="0.75" shape-rendering="crispEdges"/>
<path d="M62 569h1v1h-1zM75 569h1v1h-1zM95 575h1v1h-1zM97 578h1v1h-1zM59 580h1v1h-1zM101 581h1v1h-1zM100 582h1v1h-1zM102 582h1v1h-1zM94 584h1v1h-1zM98 584h1v1h-1zM93 585h1v1h-1zM94 586h1v1h-1zM99 587h1v1h-1zM80 588h1v1h-1zM95 588h1v1h-1zM100 588h1v1h-1zM103 588h1v1h-1zM102 590h1v1h-1zM81 591h1v1h-1zM102 591h1v1h-1zM89 592h1v1h-1zM100 592h1v1h-1zM90 593h1v1h-1zM95 593h1v1h-1zM97 595h1v1h-1zM81 596h1v1h-1zM102 597h1v1h-1zM104 598h1v1h-1zM105 600h1v1h-1zM93 601h1v1h-1zM118 616h1v1h-1zM60 625h1v1h-1zM78 625h1v1h-1zM92 627h1v1h-1zM105 629h1v1h-1zM112 629h1v1h-1z" fill="#787eb4" shape-rendering="crispEdges"/>
<path d="M64 569h1v1h-1zM81 573h2v1h-2zM81 574h1v1h-1zM83 574h1v1h-1zM90 574h1v1h-1zM89 575h1v1h-1zM93 576h1v1h-1zM81 577h1v1h-1zM93 577h1v1h-1zM95 578h2v1h-2zM94 579h1v1h-1zM96 579h1v1h-1zM95 580h1v1h-1zM97 580h1v1h-1zM81 581h1v1h-1zM97 581h1v1h-1zM84 582h1v1h-1zM96 582h1v1h-1zM96 583h1v1h-1zM95 584h1v1h-1zM97 584h1v1h-1zM95 585h1v1h-1zM97 585h1v1h-1zM80 587h1v1h-1zM82 587h1v1h-1zM88 587h1v1h-1zM92 587h1v1h-1zM98 587h1v1h-1zM82 588h1v1h-1zM88 588h1v1h-1zM93 588h1v1h-1zM101 588h1v1h-1zM80 589h1v1h-1zM82 589h1v1h-1zM95 589h1v1h-1zM100 589h1v1h-1zM82 590h1v1h-1zM90 590h2v1h-2zM96 590h1v1h-1zM98 590h1v1h-1zM101 590h1v1h-1zM59 591h1v1h-1zM88 591h1v1h-1zM90 591h3v1h-3zM94 591h8v1h-8zM86 592h1v1h-1zM90 592h2v1h-2zM96 592h1v1h-1zM99 592h1v1h-1zM88 593h1v1h-1zM92 593h1v1h-1zM59 594h1v1h-1zM89 594h1v1h-1zM59 595h1v1h-1zM89 595h1v1h-1zM95 595h2v1h-2zM102 595h1v1h-1zM90 596h2v1h-2zM95 596h1v1h-1zM102 596h1v1h-1zM81 597h1v1h-1zM97 597h1v1h-1zM96 598h1v1h-1zM92 599h1v1h-1zM95 599h1v1h-1zM93 600h1v1h-1zM92 601h1v1h-1zM94 601h1v1h-1zM96 601h1v1h-1zM94 602h2v1h-2zM102 605h1v1h-1zM104 606h1v1h-1zM110 609h1v1h-1zM112 610h1v1h-1zM59 618h1v1h-1zM65 625h3v1h-3zM75 625h2v1h-2zM80 625h1v1h-1zM120 625h1v1h-1zM86 626h1v1h-1zM88 626h1v1h-1zM93 627h2v1h-2zM97 628h1v1h-1zM119 628h1v1h-1zM107 629h2v1h-2zM118 629h1v1h-1z" fill="#727eae" shape-rendering="crispEdges"/>
<path d="M66 569h1v1h-1zM68 569h1v1h-1zM72 569h1v1h-1zM80 571h1v1h-1zM83 573h1v1h-1zM84 574h1v1h-1zM89 574h1v1h-1zM97 579h2v1h-2zM90 581h1v1h-1zM97 582h1v1h-1zM99 583h2v1h-2zM93 584h1v1h-1zM93 586h1v1h-1zM59 587h1v1h-1zM96 587h1v1h-1zM99 589h1v1h-1zM103 591h1v1h-1zM95 592h1v1h-1zM96 593h1v1h-1zM99 593h1v1h-1zM91 594h1v1h-1zM101 596h1v1h-1zM59 597h1v1h-1zM97 598h1v1h-1zM96 599h1v1h-1zM98 603h1v1h-1zM59 606h1v1h-1zM59 619h1v1h-1zM111 629h1v1h-1z" fill="#727eb4" shape-rendering="crispEdges"/>
<path d="M67 569h1v1h-1zM71 569h1v1h-1zM73 569h2v1h-2zM82 572h1v1h-1zM84 573h1v1h-1zM86 573h1v1h-1zM91 573h1v1h-1zM59 574h1v1h-1zM92 574h1v1h-1zM94 574h1v1h-1zM59 577h1v1h-1zM95 577h1v1h-1zM97 577h2v1h-2zM101 580h1v1h-1zM103 580h1v1h-1zM59 581h1v1h-1zM99 581h1v1h-1zM98 582h1v1h-1zM102 583h1v1h-1zM59 585h1v1h-1zM98 585h2v1h-2zM99 586h1v1h-1zM81 587h1v1h-1zM94 587h1v1h-1zM100 587h1v1h-1zM102 587h2v1h-2zM96 588h1v1h-1zM59 589h1v1h-1zM81 589h1v1h-1zM103 589h1v1h-1zM106 590h2v1h-2zM101 592h1v1h-1zM104 592h1v1h-1zM82 593h1v1h-1zM100 593h1v1h-1zM103 593h2v1h-2zM98 594h4v1h-4zM82 595h1v1h-1zM98 595h2v1h-2zM100 597h1v1h-1zM103 598h1v1h-1zM105 598h1v1h-1zM97 599h1v1h-1zM104 599h2v1h-2zM101 600h1v1h-1zM97 601h1v1h-1zM102 601h1v1h-1zM104 601h3v1h-3zM97 602h2v1h-2zM101 602h1v1h-1zM105 602h1v1h-1zM99 603h1v1h-1zM101 603h2v1h-2zM100 604h1v1h-1zM109 608h1v1h-1zM111 609h1v1h-1zM119 617h1v1h-1zM120 621h1v1h-1zM59 622h1v1h-1zM59 624h1v1h-1zM62 625h2v1h-2zM90 627h2v1h-2zM96 628h1v1h-1zM98 628h1v1h-1zM102 629h2v1h-2zM117 630h1v1h-1z" fill="#7884b4" fill-opacity="0.75" shape-rendering="crispEdges"/>
<path d="M77 569h1v1h-1zM83 572h2v1h-2zM59 573h1v1h-1zM88 573h1v1h-1zM95 574h1v1h-1zM100 578h1v1h-1zM59 582h1v1h-1zM103 582h1v1h-1zM102 584h1v1h-1zM105 584h1v1h-1zM107 584h1v1h-1zM100 586h1v1h-1zM103 586h1v1h-1zM105 588h1v1h-1zM109 588h1v1h-1zM106 589h1v1h-1zM107 592h1v1h-1zM109 592h1v1h-1zM105 593h1v1h-1zM81 595h1v1h-1zM104 595h1v1h-1zM105 596h1v1h-1zM100 598h1v1h-1zM106 599h1v1h-1zM102 600h2v1h-2zM103 601h1v1h-1zM103 602h1v1h-1zM102 604h1v1h-1zM114 611h1v1h-1zM115 612h1v1h-1zM121 623h1v1h-1zM84 626h1v1h-1zM89 627h1v1h-1z" fill="#7e84b4" fill-opacity="0.75" shape-rendering="crispEdges"/>
<path d="M62 570h1v1h-1zM74 570h1v1h-1zM77 570h1v1h-1zM79 571h1v1h-1zM79 572h1v1h-1zM82 577h1v1h-1zM85 577h2v1h-2zM82 578h1v1h-1zM87 578h2v1h-2zM91 578h1v1h-1zM83 579h1v1h-1zM88 579h3v1h-3zM85 580h1v1h-1zM88 580h1v1h-1zM92 580h1v1h-1zM92 581h3v1h-3zM80 582h1v1h-1zM92 582h1v1h-1zM85 583h1v1h-1zM91 583h2v1h-2zM91 584h1v1h-1zM82 585h4v1h-4zM89 585h1v1h-1zM91 585h1v1h-1zM85 586h1v1h-1zM89 586h2v1h-2zM84 588h1v1h-1zM91 588h1v1h-1zM85 589h2v1h-2zM85 590h3v1h-3zM85 591h1v1h-1zM85 594h1v1h-1zM85 595h1v1h-1zM85 596h3v1h-3zM86 597h2v1h-2zM86 598h1v1h-1zM82 599h1v1h-1zM85 600h2v1h-2zM89 601h1v1h-1zM93 603h3v1h-3zM99 605h2v1h-2zM102 606h2v1h-2zM110 610h1v1h-1zM109 611h2v1h-2zM59 612h1v1h-1zM59 613h1v1h-1zM59 615h1v1h-1zM119 620h1v1h-1zM119 621h1v1h-1zM61 624h2v1h-2zM90 626h1v1h-1zM93 626h1v1h-1zM97 626h1v1h-1zM98 627h1v1h-1zM100 627h1v1h-1zM119 627h1v1h-1zM101 628h2v1h-2zM105 628h1v1h-1zM112 628h1v1h-1zM118 628h1v1h-1z" fill="#6672a8" shape-rendering="crispEdges"/>
<path d="M64 570h2v1h-2zM67 570h4v1h-4zM72 570h1v1h-1zM62 571h1v1h-1zM73 571h3v1h-3zM77 571h2v1h-2zM78 572h1v1h-1zM60 573h1v1h-1zM77 573h2v1h-2zM60 574h1v1h-1zM79 574h1v1h-1zM60 576h1v1h-1zM79 576h1v1h-1zM79 577h1v1h-1zM78 578h2v1h-2zM83 578h1v1h-1zM60 579h1v1h-1zM79 579h1v1h-1zM60 580h1v1h-1zM61 581h1v1h-1zM64 581h1v1h-1zM79 581h1v1h-1zM61 582h1v1h-1zM79 582h1v1h-1zM79 583h1v1h-1zM61 584h1v1h-1zM79 584h1v1h-1zM79 585h1v1h-1zM60 586h1v1h-1zM79 586h1v1h-1zM60 587h1v1h-1zM79 587h1v1h-1zM60 588h1v1h-1zM76 588h1v1h-1zM79 588h1v1h-1zM79 589h1v1h-1zM79 590h1v1h-1zM79 591h1v1h-1zM60 592h1v1h-1zM79 592h1v1h-1zM60 593h1v1h-1zM60 594h1v1h-1zM60 595h1v1h-1zM74 595h1v1h-1zM61 596h1v1h-1zM60 597h1v1h-1zM73 597h1v1h-1zM79 597h1v1h-1zM60 598h1v1h-1zM79 598h1v1h-1zM60 599h1v1h-1zM79 599h1v1h-1zM60 600h1v1h-1zM79 600h3v1h-3zM60 601h1v1h-1zM66 601h1v1h-1zM80 601h8v1h-8zM60 602h2v1h-2zM83 602h3v1h-3zM88 602h3v1h-3zM60 603h1v1h-1zM80 603h1v1h-1zM84 603h2v1h-2zM88 603h1v1h-1zM91 603h1v1h-1zM60 604h1v1h-1zM80 604h1v1h-1zM84 604h2v1h-2zM88 604h1v1h-1zM91 604h1v1h-1zM93 604h2v1h-2zM96 604h2v1h-2zM60 605h1v1h-1zM88 605h2v1h-2zM91 605h2v1h-2zM94 605h1v1h-1zM96 605h1v1h-1zM80 606h1v1h-1zM93 606h2v1h-2zM96 606h1v1h-1zM98 606h4v1h-4zM80 607h2v1h-2zM93 607h3v1h-3zM102 607h1v1h-1zM60 608h1v1h-1zM103 608h1v1h-1zM78 609h1v1h-1zM81 609h1v1h-1zM85 609h2v1h-2zM89 609h1v1h-1zM98 609h4v1h-4zM104 609h3v1h-3zM81 610h2v1h-2zM85 610h2v1h-2zM92 610h3v1h-3zM98 610h2v1h-2zM106 610h1v1h-1zM108 610h2v1h-2zM81 611h1v1h-1zM85 611h2v1h-2zM92 611h3v1h-3zM106 611h2v1h-2zM111 611h1v1h-1zM84 612h4v1h-4zM92 612h2v1h-2zM107 612h2v1h-2zM110 612h3v1h-3zM84 613h1v1h-1zM87 613h7v1h-7zM95 613h2v1h-2zM104 613h1v1h-1zM110 613h2v1h-2zM113 613h1v1h-1zM83 614h1v1h-1zM88 614h1v1h-1zM91 614h2v1h-2zM94 614h4v1h-4zM110 614h1v1h-1zM112 614h2v1h-2zM83 615h1v1h-1zM91 615h5v1h-5zM112 615h3v1h-3zM83 616h1v1h-1zM90 616h4v1h-4zM95 616h1v1h-1zM97 616h1v1h-1zM102 616h1v1h-1zM114 616h2v1h-2zM95 617h2v1h-2zM101 617h2v1h-2zM114 617h3v1h-3zM87 618h4v1h-4zM95 618h2v1h-2zM101 618h2v1h-2zM104 618h1v1h-1zM109 618h2v1h-2zM114 618h3v1h-3zM60 619h1v1h-1zM88 619h3v1h-3zM108 619h1v1h-1zM110 619h1v1h-1zM112 619h1v1h-1zM114 619h4v1h-4zM83 620h1v1h-1zM99 620h2v1h-2zM108 620h1v1h-1zM110 620h1v1h-1zM114 620h2v1h-2zM117 620h2v1h-2zM81 621h4v1h-4zM107 621h2v1h-2zM114 621h5v1h-5zM75 622h1v1h-1zM78 622h2v1h-2zM81 622h3v1h-3zM86 622h1v1h-1zM90 622h4v1h-4zM97 622h1v1h-1zM101 622h4v1h-4zM113 622h1v1h-1zM115 622h4v1h-4zM78 623h1v1h-1zM80 623h3v1h-3zM85 623h3v1h-3zM90 623h4v1h-4zM97 623h1v1h-1zM116 623h2v1h-2zM64 624h4v1h-4zM75 624h2v1h-2zM83 624h1v1h-1zM86 624h2v1h-2zM90 624h4v1h-4zM95 624h4v1h-4zM101 624h1v1h-1zM118 624h1v1h-1zM88 625h1v1h-1zM90 625h9v1h-9zM100 625h4v1h-4zM107 625h1v1h-1zM109 625h3v1h-3zM118 625h1v1h-1zM100 626h1v1h-1zM102 626h3v1h-3zM106 626h2v1h-2zM109 626h7v1h-7zM118 626h1v1h-1zM103 627h14v1h-14zM118 627h1v1h-1zM107 628h1v1h-1z" fill="#5a6ca2" shape-rendering="crispEdges"/>
<path d="M66 570h1v1h-1zM73 570h1v1h-1zM75 570h1v1h-1zM61 571h1v1h-1zM83 577h1v1h-1zM85 578h1v1h-1zM85 579h1v1h-1zM87 579h1v1h-1zM60 583h1v1h-1zM85 584h2v1h-2zM60 585h1v1h-1zM88 601h1v1h-1zM92 602h1v1h-1zM95 604h1v1h-1zM98 605h1v1h-1zM106 608h1v1h-1zM108 609h1v1h-1zM112 611h1v1h-1zM109 612h1v1h-1zM113 612h1v1h-1zM115 615h1v1h-1zM117 617h1v1h-1zM60 622h1v1h-1zM79 623h1v1h-1zM77 624h1v1h-1zM98 626h1v1h-1zM110 628h1v1h-1zM116 628h2v1h-2z" fill="#606ca8" shape-rendering="crispEdges"/>
<path d="M71 570h1v1h-1zM79 573h1v1h-1zM86 579h1v1h-1zM60 589h1v1h-1zM60 596h1v1h-1zM81 599h1v1h-1zM92 603h1v1h-1zM92 604h1v1h-1zM95 605h1v1h-1zM60 607h1v1h-1zM103 607h1v1h-1zM104 608h1v1h-1zM107 609h1v1h-1zM114 614h1v1h-1zM116 616h1v1h-1zM117 618h1v1h-1zM118 619h1v1h-1zM109 620h1v1h-1zM119 622h1v1h-1zM119 623h1v1h-1zM72 624h1v1h-1zM81 624h2v1h-2zM84 624h1v1h-1zM99 626h1v1h-1zM108 626h1v1h-1zM108 628h1v1h-1zM114 628h2v1h-2z" fill="#606ca2" shape-rendering="crispEdges"/>
<path d="M90 570h1v1h-1zM97 572h2v1h-2zM110 577h1v1h-1zM111 578h1v1h-1zM112 580h1v1h-1zM120 586h1v1h-1zM120 587h1v1h-1zM121 588h1v1h-1zM121 589h1v1h-1zM123 594h1v1h-1zM124 596h1v1h-1zM125 600h1v1h-1zM125 605h1v1h-1zM115 607h1v1h-1zM117 607h1v1h-1zM125 608h1v1h-1zM114 609h1v1h-1zM116 611h1v1h-1zM117 612h1v1h-1zM121 616h1v1h-1zM122 621h1v1h-1zM122 622h1v1h-1zM66 627h2v1h-2zM76 627h1v1h-1zM80 627h1v1h-1z" fill="#9ca2c6" fill-opacity="0.75" shape-rendering="crispEdges"/>
<path d="M60 571h1v1h-1zM80 573h1v1h-1zM88 575h1v1h-1zM92 577h1v1h-1zM90 580h1v1h-1zM81 582h1v1h-1zM88 582h1v1h-1zM94 582h1v1h-1zM95 583h1v1h-1zM92 586h1v1h-1zM80 590h1v1h-1zM89 590h1v1h-1zM80 591h1v1h-1zM86 593h1v1h-1zM80 596h1v1h-1zM96 596h1v1h-1zM94 597h2v1h-2zM59 598h1v1h-1zM88 600h1v1h-1zM91 600h1v1h-1zM59 608h1v1h-1z" fill="#7278ae" shape-rendering="crispEdges"/>
<path d="M63 571h3v1h-3zM67 571h6v1h-6zM76 571h1v1h-1zM61 572h16v1h-16zM61 573h16v1h-16zM61 574h18v1h-18zM61 575h18v1h-18zM61 576h7v1h-7zM73 576h6v1h-6zM61 577h6v1h-6zM75 577h4v1h-4zM61 578h6v1h-6zM76 578h2v1h-2zM61 579h5v1h-5zM76 579h3v1h-3zM61 580h4v1h-4zM76 580h3v1h-3zM62 581h2v1h-2zM76 581h3v1h-3zM62 582h3v1h-3zM78 582h1v1h-1zM61 583h4v1h-4zM78 583h1v1h-1zM62 584h3v1h-3zM78 584h1v1h-1zM61 585h3v1h-3zM77 585h2v1h-2zM61 586h3v1h-3zM77 586h2v1h-2zM61 587h4v1h-4zM77 587h2v1h-2zM61 588h4v1h-4zM77 588h2v1h-2zM61 589h4v1h-4zM77 589h2v1h-2zM61 590h5v1h-5zM77 590h2v1h-2zM61 591h5v1h-5zM77 591h2v1h-2zM61 592h5v1h-5zM76 592h3v1h-3zM61 593h6v1h-6zM76 593h4v1h-4zM61 594h6v1h-6zM76 594h4v1h-4zM61 595h6v1h-6zM75 595h5v1h-5zM62 596h6v1h-6zM74 596h6v1h-6zM61 597h7v1h-7zM74 597h5v1h-5zM61 598h7v1h-7zM73 598h6v1h-6zM61 599h7v1h-7zM73 599h6v1h-6zM61 600h7v1h-7zM74 600h5v1h-5zM61 601h5v1h-5zM73 601h7v1h-7zM62 602h3v1h-3zM73 602h10v1h-10zM86 602h2v1h-2zM61 603h4v1h-4zM74 603h6v1h-6zM81 603h3v1h-3zM86 603h2v1h-2zM89 603h2v1h-2zM61 604h3v1h-3zM76 604h4v1h-4zM81 604h3v1h-3zM86 604h2v1h-2zM90 604h1v1h-1zM61 605h3v1h-3zM77 605h11v1h-11zM90 605h1v1h-1zM61 606h2v1h-2zM77 606h3v1h-3zM81 606h12v1h-12zM97 606h1v1h-1zM61 607h2v1h-2zM78 607h2v1h-2zM82 607h11v1h-11zM96 607h6v1h-6zM61 608h1v1h-1zM78 608h25v1h-25zM61 609h1v1h-1zM79 609h2v1h-2zM82 609h3v1h-3zM87 609h2v1h-2zM90 609h8v1h-8zM102 609h2v1h-2zM61 610h1v1h-1zM79 610h2v1h-2zM83 610h2v1h-2zM87 610h5v1h-5zM95 610h3v1h-3zM100 610h6v1h-6zM60 611h1v1h-1zM79 611h2v1h-2zM82 611h3v1h-3zM87 611h5v1h-5zM95 611h11v1h-11zM60 612h1v1h-1zM79 612h5v1h-5zM88 612h4v1h-4zM94 612h13v1h-13zM60 613h1v1h-1zM79 613h5v1h-5zM85 613h2v1h-2zM94 613h1v1h-1zM97 613h7v1h-7zM105 613h5v1h-5zM60 614h1v1h-1zM79 614h4v1h-4zM84 614h4v1h-4zM98 614h12v1h-12zM60 615h1v1h-1zM79 615h4v1h-4zM84 615h6v1h-6zM96 615h16v1h-16zM60 616h1v1h-1zM79 616h4v1h-4zM84 616h6v1h-6zM94 616h1v1h-1zM98 616h4v1h-4zM103 616h6v1h-6zM110 616h4v1h-4zM60 617h1v1h-1zM79 617h16v1h-16zM97 617h4v1h-4zM103 617h11v1h-11zM60 618h1v1h-1zM79 618h8v1h-8zM91 618h4v1h-4zM97 618h4v1h-4zM103 618h1v1h-1zM105 618h4v1h-4zM111 618h3v1h-3zM61 619h1v1h-1zM78 619h10v1h-10zM91 619h17v1h-17zM111 619h1v1h-1zM113 619h1v1h-1zM61 620h2v1h-2zM78 620h5v1h-5zM84 620h15v1h-15zM101 620h7v1h-7zM111 620h3v1h-3zM61 621h2v1h-2zM77 621h4v1h-4zM85 621h22v1h-22zM109 621h5v1h-5zM61 622h4v1h-4zM76 622h2v1h-2zM84 622h2v1h-2zM87 622h3v1h-3zM94 622h3v1h-3zM98 622h3v1h-3zM105 622h8v1h-8zM62 623h6v1h-6zM71 623h7v1h-7zM83 623h2v1h-2zM88 623h2v1h-2zM94 623h3v1h-3zM98 623h18v1h-18zM68 624h3v1h-3zM88 624h2v1h-2zM94 624h1v1h-1zM99 624h2v1h-2zM102 624h16v1h-16zM104 625h3v1h-3zM112 625h6v1h-6zM105 626h1v1h-1zM116 626h2v1h-2z" fill="#5a66a2" shape-rendering="crispEdges"/>
<path d="M84 571h2v1h-2zM96 574h1v1h-1zM106 579h1v1h-1zM108 580h1v1h-1zM109 583h1v1h-1zM106 585h1v1h-1zM112 586h1v1h-1zM110 589h1v1h-1zM109 590h1v1h-1zM112 590h1v1h-1zM113 591h1v1h-1zM112 592h1v1h-1zM110 594h1v1h-1zM112 595h3v1h-3zM113 596h1v1h-1zM112 598h1v1h-1zM112 600h1v1h-1zM112 602h1v1h-1zM111 603h1v1h-1zM108 604h1v1h-1zM110 604h1v1h-1zM121 622h1v1h-1zM70 626h1v1h-1zM111 630h1v1h-1z" fill="#8490ba" fill-opacity="0.75" shape-rendering="crispEdges"/>
<path d="M86 571h1v1h-1zM92 572h1v1h-1zM113 584h1v1h-1zM117 595h1v1h-1zM119 600h1v1h-1zM79 626h1v1h-1z" fill="#8a90c0" fill-opacity="0.75" shape-rendering="crispEdges"/>
<path d="M92 571h1v1h-1zM110 579h1v1h-1zM117 606h1v1h-1zM108 631h2v1h-2z" fill="#969cc6" fill-opacity="0.75" shape-rendering="crispEdges"/>
<path d="M97 571h1v1h-1zM99 572h1v1h-1zM122 589h1v1h-1zM126 604h1v1h-1z" fill="#a2a8c6" fill-opacity="0.75" shape-rendering="crispEdges"/>
<path d="M60 572h1v1h-1zM84 579h1v1h-1zM86 583h1v1h-1zM85 588h1v1h-1zM119 624h1v1h-1zM119 626h1v1h-1z" fill="#6072a8" shape-rendering="crispEdges"/>
<path d="M87 572h1v1h-1zM99 576h2v1h-2zM104 578h1v1h-1zM102 585h1v1h-1zM107 585h1v1h-1zM111 585h1v1h-1zM106 588h1v1h-1zM110 588h1v1h-1zM111 591h2v1h-2zM82 594h1v1h-1zM107 594h1v1h-1zM107 596h1v1h-1zM110 599h1v1h-1zM109 600h2v1h-2zM109 601h3v1h-3zM103 604h1v1h-1zM106 604h1v1h-1zM120 618h1v1h-1zM115 630h1v1h-1z" fill="#848aba" fill-opacity="0.75" shape-rendering="crispEdges"/>
<path d="M92 573h1v1h-1zM98 576h1v1h-1zM102 578h1v1h-1zM104 579h1v1h-1zM105 580h1v1h-1zM104 582h3v1h-3zM101 585h1v1h-1zM104 585h1v1h-1zM109 585h1v1h-1zM107 586h1v1h-1zM109 589h1v1h-1zM109 591h1v1h-1zM107 593h2v1h-2zM106 594h1v1h-1zM112 596h1v1h-1zM106 598h1v1h-1zM108 599h1v1h-1zM108 600h1v1h-1zM108 601h1v1h-1zM108 602h1v1h-1zM107 603h1v1h-1zM110 603h1v1h-1zM119 616h1v1h-1zM120 619h1v1h-1z" fill="#7e8aba" fill-opacity="0.75" shape-rendering="crispEdges"/>
<path d="M82 574h1v1h-1zM80 575h1v1h-1zM83 575h5v1h-5zM80 576h1v1h-1zM83 576h1v1h-1zM86 576h2v1h-2zM89 576h1v1h-1zM91 576h1v1h-1zM80 577h1v1h-1zM88 577h4v1h-4zM80 578h1v1h-1zM82 579h1v1h-1zM89 580h1v1h-1zM91 580h1v1h-1zM94 580h1v1h-1zM86 581h1v1h-1zM88 581h1v1h-1zM95 581h2v1h-2zM83 582h1v1h-1zM85 582h1v1h-1zM87 582h1v1h-1zM89 582h1v1h-1zM80 583h1v1h-1zM82 583h3v1h-3zM90 583h1v1h-1zM80 584h2v1h-2zM88 584h3v1h-3zM96 584h1v1h-1zM80 585h2v1h-2zM87 585h2v1h-2zM80 586h1v1h-1zM82 586h2v1h-2zM86 586h1v1h-1zM88 586h1v1h-1zM91 586h1v1h-1zM84 587h1v1h-1zM86 587h1v1h-1zM90 587h1v1h-1zM87 589h8v1h-8zM83 590h2v1h-2zM88 590h1v1h-1zM92 590h1v1h-1zM84 591h1v1h-1zM87 591h1v1h-1zM59 592h1v1h-1zM80 592h1v1h-1zM84 592h2v1h-2zM84 593h2v1h-2zM93 593h1v1h-1zM80 594h1v1h-1zM86 594h2v1h-2zM93 594h2v1h-2zM87 595h2v1h-2zM92 595h1v1h-1zM94 595h1v1h-1zM82 596h2v1h-2zM88 596h2v1h-2zM92 596h1v1h-1zM80 597h1v1h-1zM85 597h1v1h-1zM88 597h2v1h-2zM92 597h2v1h-2zM80 598h2v1h-2zM85 598h1v1h-1zM87 598h7v1h-7zM84 599h1v1h-1zM86 599h1v1h-1zM89 599h1v1h-1zM91 599h1v1h-1zM93 599h2v1h-2zM87 600h1v1h-1zM89 600h1v1h-1zM94 600h1v1h-1zM90 601h1v1h-1zM93 602h1v1h-1zM101 605h1v1h-1zM105 607h2v1h-2zM59 609h1v1h-1zM59 610h1v1h-1zM59 611h1v1h-1zM114 612h1v1h-1zM116 615h1v1h-1zM78 624h2v1h-2zM120 624h1v1h-1zM70 625h2v1h-2zM81 625h3v1h-3zM89 626h1v1h-1zM91 626h2v1h-2zM95 627h2v1h-2zM115 629h1v1h-1zM117 629h1v1h-1z" fill="#6c78ae" shape-rendering="crispEdges"/>
<path d="M100 575h1v1h-1zM109 580h1v1h-1zM114 591h1v1h-1zM114 592h1v1h-1zM115 593h1v1h-1zM117 593h1v1h-1zM116 594h2v1h-2zM116 597h1v1h-1zM113 599h1v1h-1zM116 599h1v1h-1zM119 599h1v1h-1zM114 601h1v1h-1zM117 601h2v1h-2zM112 603h1v1h-1zM107 605h2v1h-2zM120 617h1v1h-1zM67 626h2v1h-2zM98 629h1v1h-1zM102 630h1v1h-1zM106 630h1v1h-1zM113 630h1v1h-1z" fill="#8a90ba" fill-opacity="0.75" shape-rendering="crispEdges"/>
<path d="M68 576h1v1h-1zM71 576h2v1h-2zM74 577h1v1h-1zM75 580h1v1h-1zM76 587h1v1h-1zM73 596h1v1h-1zM67 601h1v1h-1zM77 607h1v1h-1zM78 610h1v1h-1zM77 620h1v1h-1zM63 621h1v1h-1zM68 623h1v1h-1z" fill="#607eb4" shape-rendering="crispEdges"/>
<path d="M69 576h1v1h-1zM77 583h1v1h-1zM65 588h1v1h-1zM66 592h1v1h-1zM74 594h1v1h-1zM73 603h1v1h-1zM62 608h1v1h-1zM69 623h1v1h-1z" fill="#6684ba" shape-rendering="crispEdges"/>
<path d="M70 576h1v1h-1zM75 587h1v1h-1zM67 594h1v1h-1zM67 602h1v1h-1zM75 604h1v1h-1z" fill="#668aba" shape-rendering="crispEdges"/>
<path d="M106 576h1v1h-1zM109 577h1v1h-1zM117 584h1v1h-1zM120 589h1v1h-1zM121 591h1v1h-1zM122 594h1v1h-1zM122 608h1v1h-1zM122 625h1v1h-1zM78 627h1v1h-1zM106 631h1v1h-1zM112 631h2v1h-2z" fill="#96a2c6" fill-opacity="0.75" shape-rendering="crispEdges"/>
<path d="M67 577h1v1h-1zM75 579h1v1h-1zM64 585h1v1h-1zM76 591h1v1h-1zM75 593h1v1h-1zM65 602h1v1h-1zM61 614h1v1h-1zM61 618h1v1h-1zM65 622h1v1h-1zM73 622h1v1h-1z" fill="#6078ae" shape-rendering="crispEdges"/>
<path d="M68 577h1v1h-1zM70 577h1v1h-1zM74 579h1v1h-1zM74 580h1v1h-1zM73 590h2v1h-2zM67 593h1v1h-1zM68 596h1v1h-1zM68 601h1v1h-1zM65 604h1v1h-1zM64 605h1v1h-1zM76 606h1v1h-1zM63 607h1v1h-1zM77 608h1v1h-1zM66 622h1v1h-1zM72 622h1v1h-1z" fill="#78aed8" shape-rendering="crispEdges"/>
<path d="M69 577h1v1h-1zM65 585h1v1h-1zM75 585h1v1h-1zM74 586h1v1h-1zM66 588h1v1h-1zM73 588h2v1h-2zM67 589h1v1h-1zM74 589h1v1h-1zM68 591h2v1h-2zM72 591h3v1h-3zM73 594h1v1h-1zM72 596h1v1h-1zM69 599h1v1h-1zM71 599h1v1h-1zM71 600h1v1h-1zM72 603h1v1h-1zM74 604h1v1h-1zM78 614h1v1h-1zM63 620h1v1h-1z" fill="#7eb4d8" shape-rendering="crispEdges"/>
<path d="M71 577h1v1h-1zM74 578h1v1h-1zM76 582h1v1h-1zM76 584h1v1h-1zM66 589h1v1h-1zM75 591h1v1h-1zM74 593h1v1h-1zM73 595h1v1h-1zM68 597h1v1h-1zM68 598h1v1h-1zM68 600h1v1h-1zM61 617h1v1h-1zM76 621h1v1h-1z" fill="#729ccc" shape-rendering="crispEdges"/>
<path d="M72 577h1v1h-1zM65 583h1v1h-1zM76 583h1v1h-1zM73 589h1v1h-1zM67 590h1v1h-1zM72 590h1v1h-1zM67 592h1v1h-1zM74 592h1v1h-1zM66 603h1v1h-1zM78 613h1v1h-1zM77 619h1v1h-1z" fill="#7eaed8" shape-rendering="crispEdges"/>
<path d="M73 577h1v1h-1zM65 586h1v1h-1zM75 589h1v1h-1zM72 601h1v1h-1z" fill="#72a2d2" shape-rendering="crispEdges"/>
<path d="M87 577h1v1h-1zM91 579h1v1h-1z" fill="#6c72a8" shape-rendering="crispEdges"/>
<path d="M67 578h1v1h-1zM75 581h1v1h-1zM75 586h1v1h-1zM78 615h1v1h-1zM78 617h1v1h-1z" fill="#72a2cc" shape-rendering="crispEdges"/>
<path d="M68 578h1v1h-1zM73 579h1v1h-1zM66 585h1v1h-1zM69 588h1v1h-1zM68 589h1v1h-1zM71 590h1v1h-1zM70 591h2v1h-2zM72 592h1v1h-1zM69 597h1v1h-1zM71 597h1v1h-1zM75 606h1v1h-1zM75 621h1v1h-1z" fill="#84bad2" shape-rendering="crispEdges"/>
<path d="M69 578h1v1h-1zM72 578h1v1h-1zM67 579h1v1h-1zM73 580h1v1h-1zM66 582h1v1h-1zM75 583h1v1h-1zM66 584h1v1h-1zM73 585h1v1h-1zM73 586h1v1h-1zM67 587h3v1h-3zM72 588h1v1h-1zM69 589h3v1h-3zM68 592h1v1h-1zM71 592h1v1h-1zM68 594h1v1h-1zM72 595h1v1h-1zM71 596h1v1h-1zM70 598h1v1h-1zM69 601h3v1h-3zM66 604h1v1h-1zM65 605h1v1h-1zM64 607h1v1h-1zM63 609h1v1h-1zM77 610h1v1h-1zM62 611h1v1h-1zM62 613h1v1h-1zM62 615h1v1h-1zM77 618h1v1h-1zM64 621h1v1h-1zM67 622h1v1h-1zM70 622h2v1h-2z" fill="#8abad2" shape-rendering="crispEdges"/>
<path d="M70 578h2v1h-2zM73 578h1v1h-1zM66 580h1v1h-1zM66 581h1v1h-1zM74 581h1v1h-1zM65 584h1v1h-1zM74 585h1v1h-1zM66 586h1v1h-1zM66 587h1v1h-1zM67 588h2v1h-2zM72 589h1v1h-1zM68 590h2v1h-2zM73 592h1v1h-1zM68 595h1v1h-1zM69 598h1v1h-1zM70 599h1v1h-1zM69 600h2v1h-2zM69 602h1v1h-1zM67 603h1v1h-1zM63 608h1v1h-1zM77 609h1v1h-1zM62 610h1v1h-1zM62 618h1v1h-1z" fill="#84b4d8" shape-rendering="crispEdges"/>
<path d="M75 578h1v1h-1zM77 584h1v1h-1zM75 594h1v1h-1zM64 604h1v1h-1z" fill="#5a6ca8" shape-rendering="crispEdges"/>
<path d="M66 579h1v1h-1zM65 582h1v1h-1zM74 587h1v1h-1zM67 591h1v1h-1zM72 597h1v1h-1zM72 602h1v1h-1zM62 609h1v1h-1zM78 612h1v1h-1z" fill="#78a8d2" shape-rendering="crispEdges"/>
<path d="M68 579h1v1h-1zM72 580h1v1h-1zM66 583h1v1h-1zM67 584h2v1h-2zM72 585h1v1h-1zM67 586h1v1h-1zM70 586h2v1h-2zM72 587h1v1h-1zM70 588h1v1h-1zM69 592h2v1h-2zM68 593h1v1h-1zM69 596h1v1h-1zM74 605h1v1h-1zM65 606h1v1h-1zM76 608h1v1h-1zM68 622h2v1h-2z" fill="#90c0cc" shape-rendering="crispEdges"/>
<path d="M69 579h1v1h-1zM68 580h1v1h-1zM71 580h1v1h-1zM68 581h1v1h-1zM72 581h1v1h-1zM67 582h3v1h-3zM73 582h1v1h-1zM68 583h2v1h-2zM71 583h1v1h-1zM74 583h1v1h-1zM69 584h1v1h-1zM73 584h1v1h-1zM68 585h4v1h-4zM68 586h2v1h-2zM70 587h2v1h-2zM71 588h1v1h-1zM70 593h1v1h-1zM71 594h1v1h-1zM71 595h1v1h-1zM71 603h1v1h-1zM66 605h1v1h-1zM74 606h1v1h-1zM64 608h1v1h-1zM77 611h1v1h-1zM77 615h1v1h-1zM62 616h1v1h-1zM62 617h1v1h-1zM77 617h1v1h-1zM76 619h1v1h-1zM65 621h1v1h-1zM73 621h1v1h-1z" fill="#96c0cc" shape-rendering="crispEdges"/>
<path d="M70 579h3v1h-3zM67 580h1v1h-1zM67 581h1v1h-1zM74 582h1v1h-1zM74 584h1v1h-1zM72 593h1v1h-1zM72 594h1v1h-1zM70 602h2v1h-2zM69 603h1v1h-1zM75 607h1v1h-1zM62 612h1v1h-1zM63 619h1v1h-1zM74 621h1v1h-1z" fill="#90bad2" shape-rendering="crispEdges"/>
<path d="M108 579h1v1h-1zM113 583h1v1h-1zM114 584h1v1h-1zM114 585h1v1h-1zM113 587h1v1h-1zM113 588h2v1h-2zM117 589h1v1h-1zM115 590h1v1h-1zM114 593h1v1h-1zM118 594h1v1h-1zM115 595h2v1h-2zM115 596h1v1h-1zM119 602h1v1h-1zM109 605h1v1h-1zM118 614h1v1h-1zM64 626h1v1h-1zM66 626h1v1h-1zM85 627h1v1h-1zM91 628h1v1h-1z" fill="#8a96c0" fill-opacity="0.75" shape-rendering="crispEdges"/>
<path d="M112 579h1v1h-1zM123 591h1v1h-1zM114 608h1v1h-1zM117 608h1v1h-1zM123 609h1v1h-1zM60 627h1v1h-1zM64 627h1v1h-1zM96 630h1v1h-1z" fill="#9ca8c6" fill-opacity="0.75" shape-rendering="crispEdges"/>
<path d="M65 580h1v1h-1z" fill="#6684b4" shape-rendering="crispEdges"/>
<path d="M69 580h1v1h-1zM70 583h1v1h-1zM73 583h1v1h-1zM67 604h1v1h-1zM77 613h1v1h-1zM77 614h1v1h-1zM66 621h1v1h-1z" fill="#96c0b4" shape-rendering="crispEdges"/>
<path d="M70 580h1v1h-1zM69 581h1v1h-1zM71 584h1v1h-1zM69 595h1v1h-1zM70 603h1v1h-1zM73 605h1v1h-1zM64 609h1v1h-1zM63 618h1v1h-1zM75 620h1v1h-1z" fill="#96c0c0" shape-rendering="crispEdges"/>
<path d="M65 581h1v1h-1zM75 588h1v1h-1zM66 590h1v1h-1zM75 590h1v1h-1zM65 603h1v1h-1zM76 605h1v1h-1zM78 611h1v1h-1zM61 612h1v1h-1z" fill="#6c96c6" shape-rendering="crispEdges"/>
<path d="M70 581h1v1h-1zM70 582h1v1h-1zM70 584h1v1h-1zM69 594h1v1h-1zM72 621h1v1h-1z" fill="#96c0ba" shape-rendering="crispEdges"/>
<path d="M71 581h1v1h-1zM72 583h1v1h-1zM72 584h1v1h-1zM76 609h1v1h-1z" fill="#96c6c6" shape-rendering="crispEdges"/>
<path d="M73 581h1v1h-1zM67 585h1v1h-1zM72 586h1v1h-1zM71 593h1v1h-1zM70 597h1v1h-1z" fill="#90c0d2" shape-rendering="crispEdges"/>
<path d="M71 582h2v1h-2zM67 583h1v1h-1zM70 596h1v1h-1zM72 604h1v1h-1zM63 610h1v1h-1zM77 616h1v1h-1z" fill="#96c6cc" shape-rendering="crispEdges"/>
<path d="M75 582h1v1h-1zM75 584h1v1h-1zM73 587h1v1h-1zM70 590h1v1h-1zM73 593h1v1h-1zM71 598h1v1h-1zM68 603h1v1h-1zM73 604h1v1h-1zM75 605h1v1h-1zM64 606h1v1h-1zM76 607h1v1h-1zM62 614h1v1h-1zM76 620h1v1h-1z" fill="#84b4d2" shape-rendering="crispEdges"/>
<path d="M77 582h1v1h-1zM65 589h1v1h-1zM76 590h1v1h-1zM67 595h1v1h-1zM66 602h1v1h-1zM70 623h1v1h-1z" fill="#6072ae" shape-rendering="crispEdges"/>
<path d="M87 583h1v1h-1zM90 599h1v1h-1zM97 603h1v1h-1zM117 616h1v1h-1z" fill="#6c78a8" shape-rendering="crispEdges"/>
<path d="M98 583h1v1h-1zM101 583h1v1h-1zM99 584h1v1h-1zM59 590h1v1h-1zM103 590h1v1h-1zM102 593h1v1h-1zM98 596h1v1h-1zM98 597h1v1h-1zM101 601h1v1h-1zM107 607h1v1h-1zM100 628h1v1h-1z" fill="#7884b4" shape-rendering="crispEdges"/>
<path d="M76 585h1v1h-1z" fill="#6c8ac0" shape-rendering="crispEdges"/>
<path d="M64 586h1v1h-1zM76 589h1v1h-1zM73 600h1v1h-1zM74 622h1v1h-1z" fill="#5a72a8" shape-rendering="crispEdges"/>
<path d="M76 586h1v1h-1zM66 591h1v1h-1zM75 592h1v1h-1zM62 619h1v1h-1z" fill="#6c90c0" shape-rendering="crispEdges"/>
<path d="M65 587h1v1h-1zM68 599h1v1h-1zM63 606h1v1h-1z" fill="#6c90c6" shape-rendering="crispEdges"/>
<path d="M119 588h1v1h-1zM120 592h1v1h-1zM123 597h1v1h-1zM123 604h1v1h-1zM111 606h1v1h-1zM116 606h1v1h-1zM121 619h1v1h-1zM120 630h1v1h-1zM110 631h1v1h-1z" fill="#969cc0" fill-opacity="0.75" shape-rendering="crispEdges"/>
<path d="M69 593h1v1h-1z" fill="#96c0a8" shape-rendering="crispEdges"/>
<path d="M70 594h1v1h-1zM65 607h1v1h-1z" fill="#96c0ae" shape-rendering="crispEdges"/>
<path d="M70 595h1v1h-1z" fill="#96ba9c" shape-rendering="crispEdges"/>
<path d="M72 598h1v1h-1zM72 599h1v1h-1zM68 602h1v1h-1zM78 616h1v1h-1z" fill="#78a2d2" shape-rendering="crispEdges"/>
<path d="M72 600h1v1h-1z" fill="#78a8d8" shape-rendering="crispEdges"/>
<path d="M68 604h1v1h-1z" fill="#96ba90" shape-rendering="crispEdges"/>
<path d="M69 604h2v1h-2zM72 605h1v1h-1zM66 607h1v1h-1zM76 612h1v1h-1zM76 613h1v1h-1zM64 619h1v1h-1zM75 619h1v1h-1zM74 620h1v1h-1z" fill="#90b454" shape-rendering="crispEdges"/>
<path d="M71 604h1v1h-1zM70 621h1v1h-1z" fill="#90b46c" shape-rendering="crispEdges"/>
<path d="M67 605h1v1h-1z" fill="#90b460" shape-rendering="crispEdges"/>
<path d="M68 605h1v1h-1zM67 606h1v1h-1zM72 606h1v1h-1zM72 607h1v1h-1zM73 608h1v1h-1zM65 609h1v1h-1zM65 610h1v1h-1zM64 611h1v1h-1zM76 611h1v1h-1zM64 612h1v1h-1zM76 614h1v1h-1zM76 615h1v1h-1zM76 617h1v1h-1zM65 620h1v1h-1zM72 620h2v1h-2z" fill="#96b454" shape-rendering="crispEdges"/>
<path d="M69 605h3v1h-3zM68 606h2v1h-2zM71 606h1v1h-1zM67 607h3v1h-3zM71 607h1v1h-1zM66 608h2v1h-2zM72 608h1v1h-1zM66 609h1v1h-1zM70 609h2v1h-2zM74 609h1v1h-1zM66 610h3v1h-3zM70 610h3v1h-3zM75 610h1v1h-1zM65 611h1v1h-1zM72 611h1v1h-1zM75 612h1v1h-1zM64 613h1v1h-1zM75 613h1v1h-1zM75 614h1v1h-1zM64 615h1v1h-1zM75 615h1v1h-1zM64 616h1v1h-1zM76 616h1v1h-1zM64 617h1v1h-1zM75 617h1v1h-1zM64 618h1v1h-1zM74 618h2v1h-2zM74 619h1v1h-1zM66 620h1v1h-1zM68 620h1v1h-1zM70 620h2v1h-2z" fill="#96b44e" shape-rendering="crispEdges"/>
<path d="M66 606h1v1h-1z" fill="#96ba8a" shape-rendering="crispEdges"/>
<path d="M70 606h1v1h-1zM70 607h1v1h-1zM70 608h2v1h-2zM73 609h1v1h-1zM69 610h1v1h-1zM71 611h1v1h-1zM75 611h1v1h-1zM65 612h1v1h-1zM74 613h1v1h-1zM64 614h1v1h-1zM73 617h2v1h-2zM73 618h1v1h-1zM67 620h1v1h-1zM69 620h1v1h-1z" fill="#96b448" shape-rendering="crispEdges"/>
<path d="M73 606h1v1h-1z" fill="#96ba96" shape-rendering="crispEdges"/>
<path d="M73 607h1v1h-1zM63 612h1v1h-1zM63 614h1v1h-1z" fill="#96ba72" shape-rendering="crispEdges"/>
<path d="M74 607h1v1h-1zM75 608h1v1h-1zM77 612h1v1h-1z" fill="#96c0c6" shape-rendering="crispEdges"/>
<path d="M65 608h1v1h-1zM76 618h1v1h-1zM68 621h2v1h-2z" fill="#90b45a" shape-rendering="crispEdges"/>
<path d="M68 608h2v1h-2zM67 609h1v1h-1zM69 609h1v1h-1zM72 609h1v1h-1zM73 610h1v1h-1zM66 611h3v1h-3zM73 611h1v1h-1zM73 612h2v1h-2zM74 614h1v1h-1zM74 615h1v1h-1zM74 616h2v1h-2zM72 619h2v1h-2z" fill="#9cb448" shape-rendering="crispEdges"/>
<path d="M74 608h1v1h-1zM63 617h1v1h-1z" fill="#96b472" shape-rendering="crispEdges"/>
<path d="M68 609h1v1h-1zM74 610h1v1h-1zM69 611h2v1h-2zM74 611h1v1h-1zM66 612h1v1h-1zM72 612h1v1h-1zM73 613h1v1h-1zM73 614h1v1h-1zM73 616h1v1h-1zM72 617h1v1h-1zM72 618h1v1h-1zM65 619h1v1h-1z" fill="#9cba48" shape-rendering="crispEdges"/>
<path d="M75 609h1v1h-1zM63 616h1v1h-1z" fill="#90b466" shape-rendering="crispEdges"/>
<path d="M64 610h1v1h-1zM76 610h1v1h-1zM63 613h1v1h-1zM71 621h1v1h-1z" fill="#96ba78" shape-rendering="crispEdges"/>
<path d="M61 611h1v1h-1zM61 613h1v1h-1zM61 615h1v1h-1zM78 618h1v1h-1z" fill="#667eb4" shape-rendering="crispEdges"/>
<path d="M63 611h1v1h-1zM67 621h1v1h-1z" fill="#96ba7e" shape-rendering="crispEdges"/>
<path d="M67 612h1v1h-1zM71 612h1v1h-1zM71 619h1v1h-1z" fill="#aec042" shape-rendering="crispEdges"/>
<path d="M68 612h1v1h-1zM66 613h1v1h-1zM65 614h1v1h-1zM65 618h1v1h-1z" fill="#c0c642" shape-rendering="crispEdges"/>
<path d="M69 612h1v1h-1z" fill="#d2cc3c" shape-rendering="crispEdges"/>
<path d="M70 612h1v1h-1z" fill="#c6cc42" shape-rendering="crispEdges"/>
<path d="M65 613h1v1h-1zM72 613h1v1h-1zM73 615h1v1h-1z" fill="#a2ba42" shape-rendering="crispEdges"/>
<path d="M67 613h1v1h-1zM71 618h1v1h-1zM66 619h1v1h-1z" fill="#e4d83c" shape-rendering="crispEdges"/>
<path d="M68 613h2v1h-2zM66 615h1v1h-1zM71 616h1v1h-1z" fill="#eac636" shape-rendering="crispEdges"/>
<path d="M70 613h1v1h-1zM68 619h1v1h-1z" fill="#f0cc36" shape-rendering="crispEdges"/>
<path d="M71 613h1v1h-1z" fill="#d8d23c" shape-rendering="crispEdges"/>
<path d="M66 614h1v1h-1z" fill="#f0de3c" shape-rendering="crispEdges"/>
<path d="M67 614h1v1h-1zM71 615h1v1h-1z" fill="#eaba36" shape-rendering="crispEdges"/>
<path d="M68 614h1v1h-1z" fill="#ea9030" shape-rendering="crispEdges"/>
<path d="M69 614h1v1h-1z" fill="#e48a30" shape-rendering="crispEdges"/>
<path d="M70 614h1v1h-1zM66 617h1v1h-1z" fill="#eaa230" shape-rendering="crispEdges"/>
<path d="M71 614h1v1h-1z" fill="#f0d236" shape-rendering="crispEdges"/>
<path d="M72 614h1v1h-1zM65 615h1v1h-1z" fill="#bac642" shape-rendering="crispEdges"/>
<path d="M63 615h1v1h-1z" fill="#96ba84" shape-rendering="crispEdges"/>
<path d="M67 615h1v1h-1z" fill="#e47e30" shape-rendering="crispEdges"/>
<path d="M68 615h2v1h-2zM67 616h4v1h-4zM67 617h3v1h-3zM67 618h2v1h-2z" fill="#d22a2a" shape-rendering="crispEdges"/>
<path d="M70 615h1v1h-1z" fill="#d8542a" shape-rendering="crispEdges"/>
<path d="M72 615h1v1h-1zM65 616h1v1h-1z" fill="#cccc3c" shape-rendering="crispEdges"/>
<path d="M61 616h1v1h-1z" fill="#729cc6" shape-rendering="crispEdges"/>
<path d="M66 616h1v1h-1zM70 618h1v1h-1z" fill="#eaa830" shape-rendering="crispEdges"/>
<path d="M72 616h1v1h-1z" fill="#b4c042" shape-rendering="crispEdges"/>
<path d="M65 617h1v1h-1z" fill="#d2d23c" shape-rendering="crispEdges"/>
<path d="M70 617h1v1h-1z" fill="#d8422a" shape-rendering="crispEdges"/>
<path d="M71 617h1v1h-1z" fill="#f0d836" shape-rendering="crispEdges"/>
<path d="M66 618h1v1h-1z" fill="#eaae30" shape-rendering="crispEdges"/>
<path d="M69 618h1v1h-1z" fill="#d84e2a" shape-rendering="crispEdges"/>
<path d="M67 619h1v1h-1z" fill="#eac036" shape-rendering="crispEdges"/>
<path d="M69 619h1v1h-1z" fill="#f0d83c" shape-rendering="crispEdges"/>
<path d="M70 619h1v1h-1z" fill="#ded23c" shape-rendering="crispEdges"/>
<path d="M64 620h1v1h-1z" fill="#96c0a2" shape-rendering="crispEdges"/></g>
<g><path d="M213.0 488.2h1v1h-1zM214.4 473.2h1v1h-1zM212.5 480.2h1v1h-1zM213.4 494.6h1v1h-1zM214.1 480.0h1v1h-1zM212.5 488.4h1v1h-1zM214.2 482.0h1v1h-1zM212.4 467.3h1v1h-1zM213.9 475.8h1v1h-1zM214.8 482.5h1v1h-1zM210.1 481.1h1v1h-1zM211.6 477.3h1v1h-1zM225.8 473.2h1v1h-1zM246.4 474.9h1v1h-1zM233.2 476.0h1v1h-1zM237.3 473.8h1v1h-1zM226.5 473.3h1v1h-1zM231.3 474.8h1v1h-1zM243.3 474.0h1v1h-1z" fill="#78b478" fill-opacity="0.88"/>
<path d="M214.3 494.7h1v1h-1zM214.5 464.4h1v1h-1zM210.7 495.0h1v1h-1zM211.4 496.7h1v1h-1zM211.9 464.2h1v1h-1zM215.7 482.9h1v1h-1zM216.6 478.1h1v1h-1zM216.0 476.5h1v1h-1zM214.6 495.0h1v1h-1zM207.8 479.7h1v1h-1zM219.4 474.8h1v1h-1zM209.5 480.8h1v1h-1zM222.2 478.3h1v1h-1zM216.5 487.1h1v1h-1zM221.6 478.5h1v1h-1zM209.6 489.0h1v1h-1zM217.7 476.6h1v1h-1zM216.1 468.9h1v1h-1zM216.4 483.0h1v1h-1zM207.1 488.8h1v1h-1zM219.3 474.6h1v1h-1zM209.8 466.4h1v1h-1zM230.4 464.9h1v1h-1zM246.4 472.0h1v1h-1zM247.8 478.1h1v1h-1zM226.2 483.7h1v1h-1zM224.9 484.9h1v1h-1zM230.7 466.3h1v1h-1zM251.4 478.2h1v1h-1zM221.5 470.5h1v1h-1zM234.0 479.4h1v1h-1zM252.0 474.6h1v1h-1zM241.8 471.4h1v1h-1zM236.2 467.3h1v1h-1zM230.3 482.5h1v1h-1zM231.0 484.8h1v1h-1zM226.9 481.8h1v1h-1zM222.0 469.8h1v1h-1zM223.3 481.8h1v1h-1zM231.2 484.6h1v1h-1zM234.6 481.4h1v1h-1zM222.8 474.1h1v1h-1zM242.1 470.4h1v1h-1zM241.6 478.5h1v1h-1zM239.1 478.9h1v1h-1zM236.6 479.4h1v1h-1zM226.8 482.1h1v1h-1zM249.1 476.6h1v1h-1zM231.0 482.6h1v1h-1zM220.2 475.2h1v1h-1zM236.3 468.7h1v1h-1zM252.6 472.7h1v1h-1zM242.3 481.9h1v1h-1zM233.2 468.1h1v1h-1zM220.2 474.6h1v1h-1zM247.3 468.2h1v1h-1zM240.6 468.8h1v1h-1zM223.1 475.6h1v1h-1zM243.8 478.8h1v1h-1zM223.8 464.8h1v1h-1zM225.7 482.1h1v1h-1zM238.4 471.3h1v1h-1zM220.0 480.4h1v1h-1zM220.6 478.1h1v1h-1zM251.3 471.9h1v1h-1zM222.3 477.3h1v1h-1zM222.6 480.5h1v1h-1zM245.1 469.9h1v1h-1zM232.2 467.7h1v1h-1zM231.5 481.9h1v1h-1zM220.6 469.6h1v1h-1zM235.8 483.5h1v1h-1zM234.8 479.3h1v1h-1zM248.5 468.9h1v1h-1zM222.2 477.1h1v1h-1zM246.2 477.9h1v1h-1zM239.8 479.6h1v1h-1zM234.0 481.0h1v1h-1zM244.7 469.9h1v1h-1zM231.6 466.6h1v1h-1zM232.0 478.1h1v1h-1zM251.2 470.1h1v1h-1zM246.0 470.4h1v1h-1zM241.1 469.0h1v1h-1zM231.9 468.6h1v1h-1zM233.3 477.7h1v1h-1zM227.2 482.6h1v1h-1zM222.3 471.1h1v1h-1zM220.1 466.4h1v1h-1zM241.9 469.7h1v1h-1zM220.9 482.4h1v1h-1zM252.4 476.7h1v1h-1z" fill="#646eb4" fill-opacity="0.88"/>
<path d="M210.5 464.9h1v1h-1zM214.2 494.1h1v1h-1zM213.6 495.3h1v1h-1zM214.2 465.2h1v1h-1zM211.9 464.0h1v1h-1zM211.8 496.0h1v1h-1zM213.6 495.7h1v1h-1zM213.5 494.9h1v1h-1zM210.9 464.5h1v1h-1zM211.9 494.9h1v1h-1zM214.6 490.2h1v1h-1zM213.2 465.2h1v1h-1zM214.9 490.7h1v1h-1zM210.2 492.5h1v1h-1zM218.0 480.1h1v1h-1zM208.5 478.7h1v1h-1zM208.4 477.1h1v1h-1zM210.1 488.1h1v1h-1zM223.1 472.6h1v1h-1zM215.1 490.5h1v1h-1zM210.0 484.9h1v1h-1zM208.7 482.8h1v1h-1zM209.9 482.6h1v1h-1zM211.5 497.0h1v1h-1zM216.7 479.5h1v1h-1zM217.1 469.8h1v1h-1zM209.6 473.2h1v1h-1zM215.6 476.4h1v1h-1zM215.2 475.6h1v1h-1zM217.4 481.5h1v1h-1zM211.5 465.2h1v1h-1zM217.1 474.9h1v1h-1zM249.6 475.1h1v1h-1zM240.3 471.7h1v1h-1zM229.0 479.6h1v1h-1zM237.1 477.2h1v1h-1zM222.1 478.8h1v1h-1zM236.5 478.6h1v1h-1zM246.5 471.5h1v1h-1zM244.6 470.2h1v1h-1zM226.6 484.9h1v1h-1zM237.2 467.8h1v1h-1zM236.5 479.9h1v1h-1zM245.1 475.8h1v1h-1zM230.6 480.8h1v1h-1zM228.1 461.8h1v1h-1zM231.7 481.2h1v1h-1zM250.4 476.8h1v1h-1zM241.7 476.0h1v1h-1zM234.7 470.6h1v1h-1zM237.8 476.8h1v1h-1zM251.9 474.9h1v1h-1zM251.5 474.0h1v1h-1zM239.4 471.0h1v1h-1zM222.5 470.5h1v1h-1zM238.8 469.6h1v1h-1zM246.6 475.6h1v1h-1zM247.1 472.3h1v1h-1zM225.1 467.8h1v1h-1zM222.1 469.3h1v1h-1zM230.3 468.2h1v1h-1zM249.5 473.5h1v1h-1zM225.3 479.2h1v1h-1zM244.1 480.0h1v1h-1zM233.0 466.2h1v1h-1zM247.9 471.6h1v1h-1zM234.2 469.2h1v1h-1zM237.4 480.5h1v1h-1zM246.2 477.5h1v1h-1zM228.3 466.8h1v1h-1zM221.6 473.5h1v1h-1zM235.6 479.4h1v1h-1zM238.1 480.6h1v1h-1zM237.4 475.2h1v1h-1zM243.9 477.3h1v1h-1zM236.5 468.7h1v1h-1zM226.0 470.8h1v1h-1zM229.5 479.2h1v1h-1zM240.0 475.3h1v1h-1zM251.5 475.1h1v1h-1zM239.3 476.8h1v1h-1zM237.7 473.2h1v1h-1zM248.6 473.1h1v1h-1zM249.0 471.6h1v1h-1zM251.1 471.8h1v1h-1zM251.3 475.8h1v1h-1zM232.3 467.0h1v1h-1zM248.4 474.5h1v1h-1z" fill="#5a6eb4" fill-opacity="0.88"/>
<path d="M212.5 472.4h1v1h-1zM212.8 475.9h1v1h-1zM211.8 473.5h1v1h-1zM212.4 475.2h1v1h-1zM212.7 467.2h1v1h-1zM212.7 486.3h1v1h-1zM212.3 487.3h1v1h-1zM212.5 481.7h1v1h-1zM212.5 482.5h1v1h-1zM212.1 473.8h1v1h-1zM211.9 479.4h1v1h-1zM212.0 476.1h1v1h-1zM211.6 473.9h1v1h-1zM212.5 475.5h1v1h-1zM212.7 482.2h1v1h-1zM213.3 485.8h1v1h-1zM213.5 470.6h1v1h-1zM211.5 485.2h1v1h-1zM212.1 481.5h1v1h-1zM212.9 477.5h1v1h-1zM212.8 475.6h1v1h-1zM212.5 471.0h1v1h-1zM211.9 485.4h1v1h-1zM212.3 473.9h1v1h-1zM212.3 472.9h1v1h-1zM212.7 482.6h1v1h-1zM213.6 474.3h1v1h-1zM212.2 486.2h1v1h-1zM212.9 477.9h1v1h-1zM212.6 474.7h1v1h-1zM212.6 472.8h1v1h-1z" fill="#dc5028" fill-opacity="0.88"/>
<path d="M211.7 464.2h1v1h-1zM213.7 495.1h1v1h-1zM211.5 464.6h1v1h-1zM214.2 489.7h1v1h-1zM214.9 491.9h1v1h-1zM209.9 484.8h1v1h-1zM209.4 483.6h1v1h-1zM208.9 479.7h1v1h-1zM219.4 475.7h1v1h-1zM248.8 473.7h1v1h-1zM237.8 474.1h1v1h-1zM224.0 470.4h1v1h-1zM239.0 477.6h1v1h-1zM238.7 479.3h1v1h-1zM238.3 471.8h1v1h-1zM240.2 472.6h1v1h-1zM229.6 469.2h1v1h-1zM225.1 471.4h1v1h-1zM234.5 476.6h1v1h-1zM244.1 473.6h1v1h-1zM240.5 470.5h1v1h-1zM235.2 469.3h1v1h-1zM246.3 476.8h1v1h-1zM243.5 478.0h1v1h-1zM225.8 465.9h1v1h-1zM240.2 476.9h1v1h-1zM247.8 476.8h1v1h-1zM243.2 470.9h1v1h-1zM232.9 466.9h1v1h-1zM245.9 471.8h1v1h-1zM246.8 472.9h1v1h-1z" fill="#5a64aa" fill-opacity="0.88"/>
<path d="M211.7 482.5h1v1h-1zM213.7 469.0h1v1h-1zM211.2 480.3h1v1h-1zM210.9 475.5h1v1h-1zM212.2 483.7h1v1h-1z" fill="#dcaa32" fill-opacity="0.88"/>
<path d="M211.4 470.5h1v1h-1zM212.3 493.8h1v1h-1zM213.4 477.9h1v1h-1zM209.2 477.4h1v1h-1zM212.4 469.2h1v1h-1zM212.4 489.8h1v1h-1zM213.1 480.3h1v1h-1zM211.2 487.1h1v1h-1zM214.6 487.2h1v1h-1zM210.3 478.7h1v1h-1zM210.4 482.4h1v1h-1zM211.2 489.2h1v1h-1zM213.2 489.9h1v1h-1zM232.6 474.0h1v1h-1zM236.7 474.2h1v1h-1zM233.5 472.4h1v1h-1zM226.9 476.8h1v1h-1zM227.4 478.0h1v1h-1zM231.0 477.4h1v1h-1zM229.2 475.9h1v1h-1zM241.5 474.1h1v1h-1zM224.7 471.1h1v1h-1zM234.3 473.2h1v1h-1zM226.5 477.2h1v1h-1zM234.6 473.1h1v1h-1zM226.3 478.0h1v1h-1z" fill="#64aabe" fill-opacity="0.88"/>
<path d="M212.3 492.9h1v1h-1zM212.9 477.1h1v1h-1zM213.4 485.6h1v1h-1zM213.4 489.1h1v1h-1zM213.8 488.6h1v1h-1zM213.2 466.7h1v1h-1zM210.8 466.8h1v1h-1zM214.2 473.5h1v1h-1zM236.7 477.2h1v1h-1zM224.6 475.9h1v1h-1zM232.3 477.7h1v1h-1zM232.1 472.8h1v1h-1zM224.5 473.9h1v1h-1z" fill="#78b48c" fill-opacity="0.88"/>
<path d="M213.6 467.2h1v1h-1zM212.4 471.4h1v1h-1zM212.2 485.3h1v1h-1zM213.1 475.6h1v1h-1zM213.0 483.8h1v1h-1zM211.5 488.2h1v1h-1zM212.0 487.7h1v1h-1zM212.8 484.9h1v1h-1zM212.5 485.4h1v1h-1zM212.4 487.5h1v1h-1zM213.3 481.1h1v1h-1z" fill="#dcc832" fill-opacity="0.88"/>
<path d="M213.3 489.5h1v1h-1zM213.7 474.6h1v1h-1zM212.5 489.9h1v1h-1zM213.3 467.0h1v1h-1zM214.6 476.2h1v1h-1zM214.1 467.9h1v1h-1zM213.9 480.2h1v1h-1zM212.4 476.2h1v1h-1zM214.2 479.4h1v1h-1zM211.3 477.6h1v1h-1zM212.9 477.8h1v1h-1zM211.5 466.2h1v1h-1zM209.9 477.2h1v1h-1zM233.8 472.9h1v1h-1zM233.7 473.8h1v1h-1zM242.0 472.7h1v1h-1zM231.9 470.2h1v1h-1zM229.3 477.1h1v1h-1zM229.1 473.8h1v1h-1zM227.1 476.9h1v1h-1zM231.9 474.3h1v1h-1z" fill="#78b482" fill-opacity="0.88"/>
<path d="M213.3 466.0h1v1h-1zM212.0 465.5h1v1h-1zM211.2 493.8h1v1h-1zM213.8 490.1h1v1h-1zM213.3 493.4h1v1h-1zM209.7 473.4h1v1h-1zM215.5 476.9h1v1h-1zM214.9 469.6h1v1h-1zM215.6 480.3h1v1h-1zM215.1 486.7h1v1h-1zM232.0 469.1h1v1h-1zM229.1 480.9h1v1h-1zM232.4 480.1h1v1h-1zM249.3 476.4h1v1h-1zM238.1 473.2h1v1h-1zM235.7 470.4h1v1h-1zM238.3 471.5h1v1h-1zM242.1 476.6h1v1h-1zM241.0 474.4h1v1h-1zM248.9 474.1h1v1h-1zM232.7 468.9h1v1h-1zM242.8 474.7h1v1h-1zM238.8 468.1h1v1h-1zM235.2 470.5h1v1h-1zM234.2 475.9h1v1h-1zM241.8 472.3h1v1h-1zM246.3 477.1h1v1h-1zM234.5 476.6h1v1h-1zM231.1 479.4h1v1h-1zM228.0 472.0h1v1h-1zM249.2 475.8h1v1h-1zM227.9 481.5h1v1h-1z" fill="#5a78be" fill-opacity="0.88"/>
<path d="M210.8 476.0h1v1h-1zM213.6 481.3h1v1h-1zM211.9 472.7h1v1h-1zM211.6 488.1h1v1h-1zM211.8 479.1h1v1h-1zM212.7 479.5h1v1h-1zM211.9 472.5h1v1h-1zM211.3 474.1h1v1h-1zM211.9 471.5h1v1h-1z" fill="#e6a032" fill-opacity="0.88"/>
<path d="M215.1 487.3h1v1h-1zM210.6 489.5h1v1h-1zM213.2 491.5h1v1h-1zM217.7 478.3h1v1h-1zM209.3 473.8h1v1h-1zM210.0 470.7h1v1h-1zM215.6 478.6h1v1h-1zM225.8 483.1h1v1h-1zM223.0 473.5h1v1h-1zM245.7 474.7h1v1h-1zM230.4 480.0h1v1h-1zM223.9 479.0h1v1h-1zM241.4 477.5h1v1h-1zM238.0 477.8h1v1h-1zM228.9 480.4h1v1h-1zM238.6 472.3h1v1h-1zM224.0 479.4h1v1h-1zM242.4 478.2h1v1h-1zM246.6 473.3h1v1h-1zM227.6 469.5h1v1h-1zM236.8 471.6h1v1h-1zM235.7 478.1h1v1h-1zM237.3 477.1h1v1h-1zM247.1 477.2h1v1h-1zM245.3 474.7h1v1h-1zM236.6 479.8h1v1h-1zM222.4 471.1h1v1h-1zM238.7 477.2h1v1h-1zM239.2 469.3h1v1h-1zM246.4 470.5h1v1h-1zM223.7 476.9h1v1h-1zM249.2 472.2h1v1h-1zM225.1 479.5h1v1h-1zM237.6 475.8h1v1h-1zM227.9 469.0h1v1h-1zM246.6 470.6h1v1h-1zM243.1 475.7h1v1h-1zM230.8 480.6h1v1h-1zM248.2 476.2h1v1h-1zM221.7 472.6h1v1h-1zM249.9 474.1h1v1h-1z" fill="#5064aa" fill-opacity="0.88"/>
<path d="M214.0 492.6h1v1h-1zM214.1 490.6h1v1h-1zM210.0 474.3h1v1h-1zM210.6 490.2h1v1h-1zM209.8 489.8h1v1h-1zM209.2 486.4h1v1h-1zM209.4 480.2h1v1h-1zM214.7 470.8h1v1h-1zM209.0 476.1h1v1h-1zM216.2 489.1h1v1h-1zM208.4 480.8h1v1h-1zM216.7 474.9h1v1h-1zM237.8 473.4h1v1h-1zM225.0 482.5h1v1h-1zM225.2 469.1h1v1h-1zM241.7 471.7h1v1h-1zM246.1 476.0h1v1h-1zM233.0 467.4h1v1h-1zM238.9 473.6h1v1h-1zM246.6 477.0h1v1h-1zM227.4 479.9h1v1h-1zM239.7 474.0h1v1h-1zM246.2 475.8h1v1h-1zM246.9 474.8h1v1h-1zM246.1 471.3h1v1h-1zM227.2 468.5h1v1h-1zM224.5 479.0h1v1h-1zM250.9 472.5h1v1h-1zM226.6 468.2h1v1h-1zM236.0 468.7h1v1h-1zM228.2 480.7h1v1h-1zM237.4 469.6h1v1h-1zM239.8 477.4h1v1h-1zM238.9 470.0h1v1h-1zM249.0 472.8h1v1h-1zM225.7 470.4h1v1h-1zM250.3 474.7h1v1h-1zM247.6 474.7h1v1h-1zM224.9 481.4h1v1h-1zM223.0 472.1h1v1h-1zM234.5 468.0h1v1h-1zM222.8 470.2h1v1h-1zM238.5 478.5h1v1h-1zM223.5 479.6h1v1h-1zM224.5 470.6h1v1h-1zM249.8 475.7h1v1h-1zM247.8 472.5h1v1h-1zM252.0 475.6h1v1h-1z" fill="#5a64b4" fill-opacity="0.88"/>
<path d="M211.4 486.1h1v1h-1zM211.0 474.9h1v1h-1zM212.3 468.9h1v1h-1zM211.4 475.4h1v1h-1zM214.4 474.0h1v1h-1zM213.3 467.9h1v1h-1zM211.7 477.0h1v1h-1zM213.2 485.3h1v1h-1zM212.6 469.9h1v1h-1zM214.2 480.6h1v1h-1zM210.7 486.7h1v1h-1zM211.7 486.8h1v1h-1zM210.4 481.8h1v1h-1zM213.4 484.2h1v1h-1zM214.4 476.7h1v1h-1z" fill="#96be5a" fill-opacity="0.88"/>
<path d="M214.1 468.6h1v1h-1zM213.2 465.9h1v1h-1zM213.0 493.2h1v1h-1zM211.4 465.3h1v1h-1zM215.0 486.2h1v1h-1zM209.9 478.6h1v1h-1zM214.4 486.3h1v1h-1zM210.8 468.8h1v1h-1zM210.7 488.7h1v1h-1zM214.7 476.0h1v1h-1zM229.0 476.2h1v1h-1zM222.4 471.2h1v1h-1zM242.8 473.5h1v1h-1zM228.0 469.9h1v1h-1zM228.1 470.3h1v1h-1zM231.8 472.4h1v1h-1z" fill="#64aac8" fill-opacity="0.88"/>
<path d="M213.3 476.3h1v1h-1zM212.8 472.7h1v1h-1zM213.0 487.4h1v1h-1zM212.6 468.4h1v1h-1zM211.9 472.7h1v1h-1zM213.8 481.9h1v1h-1z" fill="#bec846" fill-opacity="0.88"/>
<path d="M212.8 480.1h1v1h-1zM213.1 474.6h1v1h-1zM211.6 483.0h1v1h-1zM210.9 482.2h1v1h-1zM212.0 470.7h1v1h-1zM213.1 482.5h1v1h-1zM212.4 477.7h1v1h-1z" fill="#e68228" fill-opacity="0.88"/>
<path d="M211.7 473.0h1v1h-1zM213.9 470.1h1v1h-1zM210.9 480.8h1v1h-1zM212.6 484.1h1v1h-1z" fill="#e6aa32" fill-opacity="0.88"/>
<path d="M212.6 494.8h1v1h-1zM213.2 489.6h1v1h-1zM214.1 466.1h1v1h-1zM209.6 473.1h1v1h-1zM214.9 483.1h1v1h-1zM210.7 470.6h1v1h-1zM211.9 493.4h1v1h-1zM242.6 475.4h1v1h-1zM242.2 471.3h1v1h-1zM236.9 477.2h1v1h-1zM247.4 475.5h1v1h-1zM243.4 471.6h1v1h-1zM242.5 472.7h1v1h-1zM228.0 470.2h1v1h-1zM235.5 473.3h1v1h-1zM236.8 476.5h1v1h-1zM248.0 475.4h1v1h-1zM241.8 474.9h1v1h-1zM235.8 475.4h1v1h-1zM246.1 473.4h1v1h-1zM238.1 471.2h1v1h-1zM238.2 473.6h1v1h-1zM229.8 475.1h1v1h-1zM225.5 477.3h1v1h-1zM235.5 471.1h1v1h-1zM243.7 473.7h1v1h-1zM245.2 473.2h1v1h-1zM226.7 474.1h1v1h-1zM239.0 475.3h1v1h-1zM244.4 473.6h1v1h-1zM239.8 473.8h1v1h-1zM237.0 477.2h1v1h-1zM242.6 472.5h1v1h-1z" fill="#5a96d2" fill-opacity="0.88"/>
<path d="M212.4 487.3h1v1h-1zM212.1 475.0h1v1h-1zM212.5 484.7h1v1h-1zM211.5 480.9h1v1h-1zM212.2 480.4h1v1h-1zM212.9 484.1h1v1h-1zM213.7 473.6h1v1h-1z" fill="#e68c32" fill-opacity="0.88"/>
<path d="M213.6 487.2h1v1h-1zM211.4 475.6h1v1h-1zM211.1 484.0h1v1h-1zM211.3 475.7h1v1h-1zM213.1 475.5h1v1h-1zM212.4 480.2h1v1h-1z" fill="#d2c83c" fill-opacity="0.88"/>
<path d="M212.7 472.2h1v1h-1zM213.8 472.0h1v1h-1zM211.6 486.1h1v1h-1zM210.3 481.0h1v1h-1zM213.7 488.9h1v1h-1z" fill="#8cbe64" fill-opacity="0.88"/>
<path d="M214.4 481.5h1v1h-1zM212.6 491.1h1v1h-1zM212.2 493.4h1v1h-1zM212.6 493.2h1v1h-1zM211.0 489.0h1v1h-1zM210.6 487.2h1v1h-1zM212.0 480.4h1v1h-1zM229.4 478.1h1v1h-1zM238.4 474.3h1v1h-1zM230.2 472.4h1v1h-1zM225.2 478.3h1v1h-1zM228.2 476.9h1v1h-1zM227.5 477.5h1v1h-1zM234.7 476.1h1v1h-1zM228.9 474.6h1v1h-1zM230.6 476.4h1v1h-1z" fill="#6eb4a0" fill-opacity="0.88"/>
<path d="M211.7 471.7h1v1h-1zM213.0 480.1h1v1h-1zM213.8 473.6h1v1h-1zM211.4 468.7h1v1h-1zM213.6 470.6h1v1h-1zM210.0 480.2h1v1h-1zM213.9 485.7h1v1h-1zM214.4 476.4h1v1h-1zM213.0 489.4h1v1h-1z" fill="#82be64" fill-opacity="0.88"/>
<path d="M211.6 472.2h1v1h-1zM212.7 485.5h1v1h-1zM212.6 471.2h1v1h-1zM212.3 485.7h1v1h-1zM213.4 468.8h1v1h-1zM212.0 474.1h1v1h-1zM212.1 469.6h1v1h-1zM213.8 475.2h1v1h-1z" fill="#dcbe32" fill-opacity="0.88"/>
<path d="M211.2 486.5h1v1h-1zM214.0 474.6h1v1h-1zM213.2 482.7h1v1h-1zM211.9 469.1h1v1h-1zM211.0 479.8h1v1h-1zM213.0 487.9h1v1h-1z" fill="#b4c850" fill-opacity="0.88"/>
<path d="M213.2 490.2h1v1h-1zM214.2 493.8h1v1h-1zM211.2 468.9h1v1h-1zM211.4 492.9h1v1h-1zM213.2 495.6h1v1h-1zM213.1 465.7h1v1h-1zM212.1 495.7h1v1h-1zM213.9 488.0h1v1h-1zM211.4 491.8h1v1h-1zM215.7 479.2h1v1h-1zM209.5 480.2h1v1h-1zM208.9 477.4h1v1h-1zM215.0 480.2h1v1h-1zM215.6 480.5h1v1h-1zM235.0 475.3h1v1h-1zM237.1 477.0h1v1h-1zM236.0 475.3h1v1h-1zM235.7 474.3h1v1h-1zM225.4 478.9h1v1h-1zM223.9 472.0h1v1h-1zM233.5 469.7h1v1h-1zM238.4 477.7h1v1h-1zM224.5 476.1h1v1h-1zM249.0 475.4h1v1h-1zM236.1 479.5h1v1h-1zM250.8 473.5h1v1h-1zM241.5 474.8h1v1h-1zM238.7 471.8h1v1h-1zM235.7 470.2h1v1h-1zM227.8 469.9h1v1h-1zM243.1 473.7h1v1h-1zM231.1 474.1h1v1h-1zM234.8 470.6h1v1h-1zM232.8 470.6h1v1h-1zM241.8 477.0h1v1h-1zM244.6 474.5h1v1h-1zM237.2 477.6h1v1h-1zM243.0 474.3h1v1h-1zM224.5 471.0h1v1h-1zM233.0 470.5h1v1h-1zM223.7 473.7h1v1h-1zM244.6 473.3h1v1h-1z" fill="#5a8cc8" fill-opacity="0.88"/>
<path d="M212.4 469.3h1v1h-1zM213.5 481.6h1v1h-1zM210.6 483.5h1v1h-1z" fill="#a0be50" fill-opacity="0.88"/>
<path d="M213.1 493.2h1v1h-1zM211.6 465.5h1v1h-1zM211.7 489.4h1v1h-1zM211.8 494.0h1v1h-1zM214.7 489.9h1v1h-1zM215.3 483.2h1v1h-1zM210.0 470.2h1v1h-1zM214.3 465.7h1v1h-1zM210.7 492.8h1v1h-1zM212.1 495.4h1v1h-1zM210.0 475.1h1v1h-1zM211.0 492.7h1v1h-1zM246.6 473.2h1v1h-1zM222.1 470.3h1v1h-1zM245.3 473.3h1v1h-1zM231.9 470.3h1v1h-1zM232.3 471.4h1v1h-1zM225.4 470.1h1v1h-1zM224.9 477.7h1v1h-1zM231.2 483.6h1v1h-1zM236.8 479.0h1v1h-1zM230.4 472.4h1v1h-1zM226.6 471.2h1v1h-1zM232.2 468.1h1v1h-1zM239.1 473.3h1v1h-1zM236.0 478.5h1v1h-1zM230.5 471.6h1v1h-1zM232.1 469.9h1v1h-1zM228.8 478.6h1v1h-1zM242.5 472.6h1v1h-1zM233.8 469.1h1v1h-1zM226.4 478.9h1v1h-1zM235.7 477.4h1v1h-1zM229.8 470.1h1v1h-1zM225.5 472.7h1v1h-1zM251.6 474.6h1v1h-1z" fill="#5a82be" fill-opacity="0.88"/>
<path d="M211.8 465.7h1v1h-1zM212.5 464.1h1v1h-1zM210.4 468.3h1v1h-1zM209.3 473.2h1v1h-1zM239.8 476.2h1v1h-1zM230.0 470.4h1v1h-1zM230.5 479.0h1v1h-1zM221.8 474.1h1v1h-1zM243.2 471.2h1v1h-1zM228.9 468.8h1v1h-1zM241.8 475.6h1v1h-1zM224.8 478.4h1v1h-1zM237.9 470.2h1v1h-1zM248.9 474.6h1v1h-1zM224.6 474.0h1v1h-1zM238.9 475.3h1v1h-1zM225.3 480.5h1v1h-1zM233.3 468.3h1v1h-1zM236.8 479.5h1v1h-1zM222.5 471.3h1v1h-1zM233.5 469.4h1v1h-1zM222.8 470.8h1v1h-1zM242.7 474.1h1v1h-1zM228.6 481.2h1v1h-1zM244.6 473.7h1v1h-1zM224.3 471.4h1v1h-1z" fill="#506eb4" fill-opacity="0.88"/>
<path d="M212.9 471.0h1v1h-1zM212.8 482.3h1v1h-1zM212.4 472.5h1v1h-1zM211.8 486.8h1v1h-1zM213.0 472.3h1v1h-1zM212.1 487.5h1v1h-1z" fill="#dcb432" fill-opacity="0.88"/>
<path d="M211.9 485.7h1v1h-1zM211.4 474.2h1v1h-1zM211.6 486.2h1v1h-1zM213.2 495.7h1v1h-1zM212.0 475.5h1v1h-1zM212.3 479.1h1v1h-1zM213.7 472.7h1v1h-1z" fill="#a0be5a" fill-opacity="0.88"/>
<path d="M213.7 469.4h1v1h-1zM212.5 476.5h1v1h-1zM211.9 476.2h1v1h-1zM212.2 482.3h1v1h-1zM210.2 482.9h1v1h-1zM211.0 485.4h1v1h-1z" fill="#c8c846" fill-opacity="0.88"/>
<path d="M212.2 469.0h1v1h-1zM214.1 477.1h1v1h-1zM212.8 491.5h1v1h-1zM212.6 494.8h1v1h-1zM211.9 467.9h1v1h-1zM212.7 465.5h1v1h-1zM209.0 477.7h1v1h-1zM214.4 486.2h1v1h-1zM210.8 470.1h1v1h-1zM210.4 484.4h1v1h-1zM213.3 467.5h1v1h-1zM236.5 475.5h1v1h-1zM247.8 474.5h1v1h-1zM228.6 478.8h1v1h-1zM225.7 475.6h1v1h-1zM228.4 477.5h1v1h-1zM229.5 479.0h1v1h-1zM246.9 475.8h1v1h-1zM246.6 475.6h1v1h-1zM242.6 474.4h1v1h-1zM233.9 472.6h1v1h-1zM225.1 475.3h1v1h-1zM238.9 471.5h1v1h-1zM225.5 471.8h1v1h-1z" fill="#5aaadc" fill-opacity="0.88"/>
<path d="M211.0 488.6h1v1h-1zM211.7 490.9h1v1h-1zM210.3 472.4h1v1h-1zM211.0 466.5h1v1h-1zM211.6 465.7h1v1h-1zM211.9 465.1h1v1h-1zM213.4 489.9h1v1h-1zM210.2 471.8h1v1h-1zM210.4 480.7h1v1h-1zM214.6 480.9h1v1h-1zM214.9 469.4h1v1h-1zM210.7 480.1h1v1h-1zM232.9 475.7h1v1h-1zM229.5 470.9h1v1h-1zM226.7 479.1h1v1h-1zM234.0 476.9h1v1h-1zM234.9 474.0h1v1h-1zM231.0 476.3h1v1h-1zM243.3 474.9h1v1h-1z" fill="#6eb4aa" fill-opacity="0.88"/>
<path d="M212.3 478.2h1v1h-1zM213.0 482.8h1v1h-1zM212.3 475.5h1v1h-1zM213.7 476.7h1v1h-1zM212.7 482.3h1v1h-1zM212.8 469.5h1v1h-1z" fill="#e69632" fill-opacity="0.88"/>
<path d="M211.4 491.6h1v1h-1zM212.1 494.3h1v1h-1zM213.4 467.5h1v1h-1zM209.5 473.6h1v1h-1zM213.6 467.3h1v1h-1zM212.3 496.0h1v1h-1zM213.7 477.6h1v1h-1zM242.5 474.7h1v1h-1zM250.4 475.5h1v1h-1zM236.6 474.1h1v1h-1zM238.2 474.1h1v1h-1zM231.9 470.7h1v1h-1zM236.8 472.9h1v1h-1zM228.1 469.4h1v1h-1zM226.4 479.5h1v1h-1z" fill="#5aa0dc" fill-opacity="0.88"/>
<path d="M211.8 467.6h1v1h-1zM210.7 481.5h1v1h-1zM212.2 488.1h1v1h-1zM213.2 478.3h1v1h-1zM211.8 487.4h1v1h-1zM212.3 477.5h1v1h-1zM210.7 483.0h1v1h-1zM214.0 474.9h1v1h-1zM211.4 487.4h1v1h-1zM213.4 474.8h1v1h-1zM211.0 479.7h1v1h-1zM211.6 477.3h1v1h-1zM213.9 473.3h1v1h-1zM212.2 483.0h1v1h-1zM212.2 475.7h1v1h-1zM211.7 483.1h1v1h-1zM212.0 480.5h1v1h-1zM212.0 473.9h1v1h-1zM211.0 482.8h1v1h-1zM212.1 480.4h1v1h-1zM213.0 468.9h1v1h-1zM211.0 477.5h1v1h-1zM213.4 466.7h1v1h-1zM213.0 484.7h1v1h-1zM212.0 485.7h1v1h-1zM211.3 471.9h1v1h-1zM213.8 473.6h1v1h-1zM213.0 485.6h1v1h-1zM211.1 475.8h1v1h-1zM213.4 476.7h1v1h-1zM213.1 481.4h1v1h-1zM213.7 481.2h1v1h-1zM213.5 470.7h1v1h-1zM211.9 478.4h1v1h-1zM211.9 473.6h1v1h-1zM212.0 486.5h1v1h-1zM212.4 489.0h1v1h-1zM212.6 482.1h1v1h-1zM211.9 466.2h1v1h-1zM213.5 480.2h1v1h-1zM213.0 469.5h1v1h-1zM210.6 475.6h1v1h-1zM211.9 482.1h1v1h-1zM211.6 483.3h1v1h-1zM212.8 481.8h1v1h-1zM213.0 483.5h1v1h-1zM210.8 480.3h1v1h-1zM212.9 487.9h1v1h-1zM213.7 468.2h1v1h-1zM212.1 486.7h1v1h-1zM212.6 472.9h1v1h-1zM212.9 476.1h1v1h-1zM211.5 475.0h1v1h-1zM212.3 472.2h1v1h-1zM213.6 474.0h1v1h-1zM212.7 483.3h1v1h-1zM214.3 471.9h1v1h-1zM212.7 469.4h1v1h-1zM212.9 472.8h1v1h-1zM213.0 478.2h1v1h-1zM211.4 481.9h1v1h-1zM212.0 483.4h1v1h-1zM213.3 482.8h1v1h-1zM212.5 468.4h1v1h-1zM212.3 484.0h1v1h-1z" fill="#aabe50" fill-opacity="0.88"/>
<path d="M211.8 467.0h1v1h-1zM213.7 492.4h1v1h-1zM210.5 473.4h1v1h-1zM210.3 479.1h1v1h-1zM225.7 471.2h1v1h-1zM229.9 477.6h1v1h-1zM229.3 472.2h1v1h-1zM237.2 474.9h1v1h-1zM227.8 479.1h1v1h-1zM239.1 472.9h1v1h-1zM224.6 472.2h1v1h-1zM233.2 475.6h1v1h-1zM228.2 471.3h1v1h-1zM224.4 473.5h1v1h-1zM227.0 474.7h1v1h-1zM241.9 472.1h1v1h-1zM225.1 475.7h1v1h-1z" fill="#64aad2" fill-opacity="0.88"/>
<path d="M213.7 468.0h1v1h-1zM212.0 489.1h1v1h-1zM213.9 470.2h1v1h-1zM210.4 476.0h1v1h-1zM231.0 477.5h1v1h-1zM224.7 474.9h1v1h-1zM229.5 470.7h1v1h-1zM227.8 470.2h1v1h-1zM233.8 475.1h1v1h-1zM235.3 475.0h1v1h-1zM241.6 473.3h1v1h-1zM230.1 470.7h1v1h-1zM234.7 472.9h1v1h-1zM225.0 474.2h1v1h-1zM225.2 478.2h1v1h-1zM236.2 473.1h1v1h-1zM230.7 474.1h1v1h-1z" fill="#6eb496" fill-opacity="0.88"/>
<path d="M212.0 481.8h1v1h-1zM213.5 483.8h1v1h-1zM213.1 479.8h1v1h-1zM212.4 486.7h1v1h-1z" fill="#dc5a28" fill-opacity="0.88"/>
<path d="M211.4 490.8h1v1h-1zM211.3 493.2h1v1h-1zM214.2 467.9h1v1h-1zM213.7 466.9h1v1h-1zM210.1 472.2h1v1h-1zM209.3 478.5h1v1h-1zM213.6 490.7h1v1h-1zM214.8 470.9h1v1h-1zM213.6 477.3h1v1h-1zM235.2 476.5h1v1h-1zM236.5 474.0h1v1h-1zM230.8 473.3h1v1h-1zM240.1 474.8h1v1h-1zM224.2 473.8h1v1h-1zM223.8 473.6h1v1h-1zM223.8 471.1h1v1h-1zM232.2 476.5h1v1h-1zM231.8 477.1h1v1h-1zM228.0 470.5h1v1h-1zM247.7 474.5h1v1h-1zM226.3 471.6h1v1h-1zM234.5 470.0h1v1h-1zM239.5 471.5h1v1h-1zM223.3 470.3h1v1h-1zM231.7 470.2h1v1h-1zM232.4 475.7h1v1h-1zM247.7 474.4h1v1h-1zM232.1 470.8h1v1h-1zM223.6 470.9h1v1h-1zM239.0 474.1h1v1h-1zM228.1 469.5h1v1h-1zM245.4 472.6h1v1h-1zM227.9 476.6h1v1h-1zM211.2 487.4h1v1h-1zM212.9 487.9h1v1h-1z" fill="#5aa0d2" fill-opacity="0.88"/>
<path d="M212.4 493.8h1v1h-1zM211.6 485.2h1v1h-1zM213.7 471.5h1v1h-1zM213.6 478.0h1v1h-1zM210.9 478.3h1v1h-1zM212.5 487.4h1v1h-1zM214.0 470.2h1v1h-1zM214.3 476.0h1v1h-1zM214.7 482.3h1v1h-1zM214.9 474.8h1v1h-1zM211.5 468.4h1v1h-1zM228.7 470.6h1v1h-1zM232.1 475.6h1v1h-1zM244.0 474.4h1v1h-1zM230.9 475.7h1v1h-1zM233.2 474.3h1v1h-1zM233.8 474.1h1v1h-1zM231.2 472.1h1v1h-1zM232.5 471.8h1v1h-1zM231.2 475.7h1v1h-1zM229.6 471.1h1v1h-1zM232.9 475.1h1v1h-1zM228.6 473.6h1v1h-1zM231.7 475.8h1v1h-1zM226.1 474.9h1v1h-1zM228.6 475.1h1v1h-1zM235.6 474.7h1v1h-1zM230.9 475.2h1v1h-1zM230.3 473.2h1v1h-1zM227.2 476.0h1v1h-1zM225.3 474.8h1v1h-1zM228.2 474.3h1v1h-1zM230.0 476.2h1v1h-1zM228.1 473.1h1v1h-1zM226.4 477.5h1v1h-1zM229.8 471.1h1v1h-1zM234.0 472.5h1v1h-1zM240.2 472.1h1v1h-1zM233.6 474.1h1v1h-1zM226.0 473.6h1v1h-1zM234.4 474.2h1v1h-1zM234.0 473.4h1v1h-1zM234.2 474.0h1v1h-1zM234.0 474.9h1v1h-1zM226.5 473.3h1v1h-1zM226.0 475.0h1v1h-1zM227.3 475.8h1v1h-1zM230.9 476.9h1v1h-1zM225.7 476.7h1v1h-1zM225.6 472.7h1v1h-1zM228.3 476.2h1v1h-1zM229.2 471.9h1v1h-1zM229.4 471.1h1v1h-1zM232.4 472.3h1v1h-1zM226.1 474.0h1v1h-1zM225.6 474.4h1v1h-1zM228.7 477.7h1v1h-1zM230.3 474.7h1v1h-1zM225.6 475.8h1v1h-1zM235.8 473.6h1v1h-1zM226.6 474.9h1v1h-1zM235.2 475.2h1v1h-1zM230.7 475.8h1v1h-1zM226.6 474.7h1v1h-1zM227.4 477.4h1v1h-1zM233.5 475.5h1v1h-1zM227.9 472.8h1v1h-1zM229.9 473.4h1v1h-1zM227.3 474.1h1v1h-1zM228.2 474.0h1v1h-1zM230.0 474.2h1v1h-1zM228.0 474.4h1v1h-1zM236.5 475.2h1v1h-1zM231.3 476.5h1v1h-1zM227.2 473.5h1v1h-1zM228.1 475.4h1v1h-1zM227.8 475.9h1v1h-1zM226.7 475.4h1v1h-1zM231.3 475.8h1v1h-1zM229.0 475.7h1v1h-1zM229.2 475.4h1v1h-1zM231.2 472.0h1v1h-1zM227.3 472.9h1v1h-1zM228.1 472.7h1v1h-1zM235.8 473.4h1v1h-1zM224.7 473.0h1v1h-1zM228.2 474.0h1v1h-1zM232.2 475.7h1v1h-1zM241.4 473.9h1v1h-1zM236.5 472.7h1v1h-1zM233.0 472.9h1v1h-1zM235.0 473.1h1v1h-1zM225.2 476.6h1v1h-1zM229.8 472.2h1v1h-1zM225.4 473.5h1v1h-1zM232.3 474.7h1v1h-1zM225.8 475.4h1v1h-1zM230.1 476.7h1v1h-1zM231.9 474.4h1v1h-1zM234.0 472.0h1v1h-1zM229.3 475.8h1v1h-1zM227.1 476.5h1v1h-1zM237.5 475.2h1v1h-1zM243.0 474.1h1v1h-1zM229.8 474.4h1v1h-1zM237.2 474.8h1v1h-1zM237.1 474.7h1v1h-1zM227.9 475.0h1v1h-1zM232.7 475.2h1v1h-1zM227.3 474.0h1v1h-1zM228.6 476.2h1v1h-1z" fill="#78b46e" fill-opacity="0.88"/>
<path d="M213.8 474.4h1v1h-1zM212.2 471.2h1v1h-1zM211.7 471.7h1v1h-1z" fill="#c8c83c" fill-opacity="0.88"/>
<path d="M213.2 495.6h1v1h-1zM212.4 495.9h1v1h-1zM224.5 472.4h1v1h-1zM230.8 471.6h1v1h-1zM225.4 477.5h1v1h-1zM248.3 473.2h1v1h-1zM232.7 470.0h1v1h-1zM232.0 467.9h1v1h-1zM229.6 470.1h1v1h-1zM235.3 477.3h1v1h-1zM242.8 470.2h1v1h-1zM238.3 470.0h1v1h-1z" fill="#5a82c8" fill-opacity="0.88"/>
<path d="M210.4 482.9h1v1h-1zM214.0 466.6h1v1h-1zM212.7 492.2h1v1h-1zM209.4 479.0h1v1h-1zM232.5 472.1h1v1h-1zM224.7 478.7h1v1h-1zM226.0 476.0h1v1h-1zM242.1 473.1h1v1h-1zM226.2 469.4h1v1h-1zM224.5 478.0h1v1h-1z" fill="#64aadc" fill-opacity="0.88"/>
<path d="M211.0 465.0h1v1h-1zM212.6 495.6h1v1h-1zM213.6 493.5h1v1h-1zM208.7 479.1h1v1h-1zM211.7 490.1h1v1h-1zM229.1 480.4h1v1h-1zM247.5 476.1h1v1h-1zM240.7 475.3h1v1h-1zM228.3 478.5h1v1h-1zM232.0 471.5h1v1h-1z" fill="#5a78b4" fill-opacity="0.88"/>
<path d="M212.6 467.2h1v1h-1zM211.8 468.4h1v1h-1zM211.5 471.1h1v1h-1zM214.2 472.6h1v1h-1zM214.5 486.8h1v1h-1zM227.2 468.3h1v1h-1zM225.5 479.3h1v1h-1zM228.4 476.4h1v1h-1zM230.3 476.8h1v1h-1z" fill="#6eb4b4" fill-opacity="0.88"/>
<path d="M212.5 472.1h1v1h-1zM212.0 484.6h1v1h-1zM212.8 472.3h1v1h-1z" fill="#dc6e28" fill-opacity="0.88"/>
<path d="M211.7 491.1h1v1h-1zM211.8 495.6h1v1h-1zM210.2 477.8h1v1h-1zM215.0 471.2h1v1h-1zM217.0 479.1h1v1h-1zM215.5 484.8h1v1h-1zM243.8 473.0h1v1h-1zM235.5 477.0h1v1h-1zM241.4 480.0h1v1h-1zM235.1 471.2h1v1h-1zM225.2 479.3h1v1h-1zM241.7 476.0h1v1h-1zM236.8 470.1h1v1h-1zM230.9 479.2h1v1h-1zM227.5 478.4h1v1h-1z" fill="#5064b4" fill-opacity="0.88"/>
<path d="M210.3 496.3h1v1h-1zM213.2 496.9h1v1h-1zM218.1 476.2h1v1h-1zM207.7 489.2h1v1h-1zM213.1 461.4h1v1h-1zM205.4 488.4h1v1h-1zM216.5 485.2h1v1h-1zM215.5 472.7h1v1h-1zM215.2 464.6h1v1h-1zM218.4 477.6h1v1h-1zM216.1 479.4h1v1h-1zM216.8 472.7h1v1h-1zM217.9 469.2h1v1h-1zM215.8 483.8h1v1h-1zM216.4 470.0h1v1h-1zM217.6 469.9h1v1h-1zM207.5 475.7h1v1h-1zM207.8 478.5h1v1h-1zM205.8 473.2h1v1h-1zM208.4 470.4h1v1h-1zM217.7 471.0h1v1h-1zM217.4 482.6h1v1h-1zM217.4 482.6h1v1h-1zM217.4 483.5h1v1h-1zM253.2 476.1h1v1h-1zM253.6 473.0h1v1h-1zM223.4 485.2h1v1h-1zM253.7 472.4h1v1h-1zM233.2 481.2h1v1h-1zM229.8 484.3h1v1h-1zM242.2 467.5h1v1h-1zM240.9 479.1h1v1h-1zM230.7 484.5h1v1h-1zM228.4 465.9h1v1h-1zM222.7 465.2h1v1h-1zM224.3 464.4h1v1h-1zM254.2 472.1h1v1h-1zM252.6 472.8h1v1h-1zM220.2 470.0h1v1h-1zM223.7 466.1h1v1h-1zM244.9 478.2h1v1h-1zM243.0 469.2h1v1h-1zM238.6 468.7h1v1h-1zM223.7 469.1h1v1h-1zM256.0 471.3h1v1h-1zM221.3 468.9h1v1h-1zM240.4 471.4h1v1h-1zM245.5 477.6h1v1h-1zM220.5 476.5h1v1h-1zM251.0 471.3h1v1h-1zM222.3 482.9h1v1h-1zM241.9 468.5h1v1h-1zM235.1 481.5h1v1h-1zM232.8 480.1h1v1h-1zM222.5 479.4h1v1h-1zM252.3 472.1h1v1h-1zM245.7 478.7h1v1h-1zM228.9 467.9h1v1h-1zM222.3 468.3h1v1h-1zM253.2 472.2h1v1h-1zM238.0 482.2h1v1h-1zM245.7 472.1h1v1h-1zM248.3 469.9h1v1h-1zM224.5 483.1h1v1h-1zM227.3 481.5h1v1h-1zM223.6 485.6h1v1h-1zM252.8 470.1h1v1h-1zM231.1 482.0h1v1h-1zM227.3 466.2h1v1h-1zM236.0 483.1h1v1h-1zM241.9 479.7h1v1h-1zM242.7 490.1h1v1h-1zM231.9 485.3h1v1h-1zM250.9 494.2h1v1h-1zM222.7 484.2h1v1h-1z" fill="#6e78be" fill-opacity="0.88"/>
<path d="M213.3 494.4h1v1h-1z" fill="#8cbe5a" fill-opacity="0.88"/>
<path d="M212.1 492.0h1v1h-1zM212.1 493.0h1v1h-1zM211.6 494.9h1v1h-1zM209.4 479.9h1v1h-1zM234.1 472.7h1v1h-1zM231.8 477.0h1v1h-1zM234.1 477.4h1v1h-1zM223.6 472.4h1v1h-1zM228.3 473.1h1v1h-1z" fill="#5a96c8" fill-opacity="0.88"/>
<path d="M214.3 481.3h1v1h-1zM231.1 477.1h1v1h-1zM224.7 477.0h1v1h-1z" fill="#6eb48c" fill-opacity="0.88"/>
<path d="M213.1 486.0h1v1h-1zM212.9 481.3h1v1h-1zM212.6 481.0h1v1h-1z" fill="#e67828" fill-opacity="0.88"/>
<path d="M212.5 468.8h1v1h-1z" fill="#dcc83c" fill-opacity="0.88"/>
<path d="M213.1 469.1h1v1h-1zM212.9 479.4h1v1h-1zM212.6 482.4h1v1h-1z" fill="#dc6428" fill-opacity="0.88"/>
<path d="M211.6 496.3h1v1h-1zM209.5 468.5h1v1h-1zM218.4 487.7h1v1h-1zM207.4 485.6h1v1h-1zM218.2 475.8h1v1h-1zM215.2 474.8h1v1h-1zM217.1 480.0h1v1h-1zM245.2 470.0h1v1h-1zM234.2 467.4h1v1h-1zM238.6 481.2h1v1h-1zM255.6 474.8h1v1h-1zM237.4 469.4h1v1h-1zM235.3 469.2h1v1h-1zM239.5 467.2h1v1h-1zM249.3 470.6h1v1h-1zM225.9 488.2h1v1h-1zM241.8 468.6h1v1h-1zM226.7 467.1h1v1h-1zM247.8 471.2h1v1h-1z" fill="#6478be" fill-opacity="0.88"/>
<path d="M210.2 492.0h1v1h-1zM212.0 463.8h1v1h-1zM210.9 462.8h1v1h-1zM214.3 462.8h1v1h-1zM204.9 474.4h1v1h-1zM214.0 462.0h1v1h-1zM216.2 491.4h1v1h-1zM207.6 462.2h1v1h-1zM206.5 457.8h1v1h-1zM216.1 468.8h1v1h-1zM218.4 475.9h1v1h-1zM216.7 489.9h1v1h-1zM206.6 488.9h1v1h-1zM208.2 488.9h1v1h-1zM244.0 478.4h1v1h-1zM223.6 465.4h1v1h-1zM225.9 465.1h1v1h-1zM222.3 483.8h1v1h-1zM228.9 484.9h1v1h-1zM244.0 478.4h1v1h-1zM223.1 466.1h1v1h-1zM233.1 481.4h1v1h-1zM225.0 484.5h1v1h-1zM221.5 483.9h1v1h-1zM228.2 484.1h1v1h-1zM240.6 482.2h1v1h-1zM252.3 475.6h1v1h-1zM222.7 489.6h1v1h-1zM244.7 468.8h1v1h-1zM243.2 480.8h1v1h-1zM229.8 457.8h1v1h-1zM221.5 482.1h1v1h-1zM228.9 492.2h1v1h-1zM226.6 486.0h1v1h-1zM231.0 482.1h1v1h-1zM231.2 461.2h1v1h-1zM223.1 486.2h1v1h-1zM240.1 482.6h1v1h-1zM234.2 494.0h1v1h-1zM242.5 490.8h1v1h-1zM221.4 485.1h1v1h-1zM219.6 482.8h1v1h-1zM230.5 484.5h1v1h-1z" fill="#7882be" fill-opacity="0.88"/>
<path d="M204.8 489.8h1v1h-1zM208.0 471.4h1v1h-1zM206.5 484.7h1v1h-1zM221.3 472.9h1v1h-1zM231.5 463.1h1v1h-1zM229.0 465.2h1v1h-1zM243.7 463.8h1v1h-1zM235.7 493.1h1v1h-1zM228.7 499.1h1v1h-1zM242.5 499.5h1v1h-1zM253.7 502.0h1v1h-1z" fill="#7882c8" fill-opacity="0.88"/>
<path d="M207.8 468.9h1v1h-1zM218.8 480.9h1v1h-1zM208.1 484.1h1v1h-1zM218.0 492.9h1v1h-1zM214.6 496.5h1v1h-1zM213.8 501.8h1v1h-1zM223.0 486.8h1v1h-1zM215.3 491.7h1v1h-1zM216.2 495.3h1v1h-1zM252.8 471.1h1v1h-1zM242.0 483.3h1v1h-1zM237.5 484.1h1v1h-1zM255.7 475.5h1v1h-1zM240.4 481.0h1v1h-1zM225.7 486.7h1v1h-1zM224.7 463.7h1v1h-1zM222.6 475.1h1v1h-1zM255.8 476.4h1v1h-1zM244.5 467.1h1v1h-1zM237.5 466.9h1v1h-1zM222.5 462.8h1v1h-1zM221.5 467.2h1v1h-1zM221.8 478.8h1v1h-1zM254.7 473.8h1v1h-1zM246.1 469.3h1v1h-1zM228.8 465.4h1v1h-1zM223.0 490.8h1v1h-1z" fill="#6e82be" fill-opacity="0.88"/>
<path d="M207.0 464.7h1v1h-1zM206.6 492.4h1v1h-1zM209.0 495.2h1v1h-1zM212.3 510.5h1v1h-1zM217.1 461.3h1v1h-1zM205.5 480.1h1v1h-1zM217.5 495.8h1v1h-1zM204.4 482.5h1v1h-1zM207.9 494.0h1v1h-1zM208.5 489.7h1v1h-1zM207.2 487.5h1v1h-1zM219.2 465.0h1v1h-1zM205.8 486.4h1v1h-1zM214.2 455.3h1v1h-1zM249.4 480.0h1v1h-1zM223.4 463.0h1v1h-1zM221.8 491.1h1v1h-1zM248.4 479.7h1v1h-1zM231.7 487.8h1v1h-1zM220.8 483.8h1v1h-1zM222.0 468.6h1v1h-1zM230.1 464.1h1v1h-1zM247.0 480.6h1v1h-1zM239.4 465.3h1v1h-1zM249.6 468.6h1v1h-1zM220.1 467.8h1v1h-1zM258.2 473.7h1v1h-1zM225.6 487.3h1v1h-1zM242.7 483.9h1v1h-1zM254.1 472.3h1v1h-1zM237.7 462.7h1v1h-1zM220.6 465.4h1v1h-1zM248.9 467.3h1v1h-1zM227.8 461.6h1v1h-1zM241.7 458.6h1v1h-1zM242.5 467.2h1v1h-1zM222.0 479.9h1v1h-1zM236.5 498.2h1v1h-1zM244.2 490.0h1v1h-1zM226.3 497.2h1v1h-1zM226.7 490.4h1v1h-1zM242.5 482.0h1v1h-1zM264.2 482.0h1v1h-1zM250.7 495.9h1v1h-1zM227.9 503.1h1v1h-1zM243.5 482.4h1v1h-1zM247.6 485.3h1v1h-1zM244.3 487.2h1v1h-1zM218.0 486.6h1v1h-1zM256.4 497.6h1v1h-1zM212.2 500.1h1v1h-1z" fill="#828cc8" fill-opacity="0.88"/>
<path d="M214.1 462.7h1v1h-1zM216.8 464.1h1v1h-1zM206.0 491.4h1v1h-1zM218.9 498.0h1v1h-1zM241.1 469.3h1v1h-1zM254.3 476.8h1v1h-1zM236.8 499.9h1v1h-1zM245.0 499.3h1v1h-1z" fill="#788cc8" fill-opacity="0.88"/>
<path d="M208.7 485.8h1v1h-1zM216.5 486.7h1v1h-1zM217.1 472.4h1v1h-1zM209.7 474.3h1v1h-1zM215.7 485.7h1v1h-1zM209.5 475.1h1v1h-1zM207.3 473.5h1v1h-1zM235.8 470.1h1v1h-1zM230.4 465.2h1v1h-1zM223.6 481.0h1v1h-1zM238.7 468.1h1v1h-1zM244.5 478.0h1v1h-1zM252.3 472.0h1v1h-1zM229.8 481.3h1v1h-1zM249.4 469.6h1v1h-1zM230.3 465.7h1v1h-1zM253.5 475.2h1v1h-1zM228.0 483.0h1v1h-1zM225.0 468.5h1v1h-1zM225.1 468.7h1v1h-1zM233.8 467.3h1v1h-1zM252.9 476.7h1v1h-1zM252.8 474.9h1v1h-1zM221.9 475.5h1v1h-1zM234.1 466.8h1v1h-1zM223.6 467.8h1v1h-1zM239.9 479.5h1v1h-1zM255.1 492.7h1v1h-1zM232.6 486.5h1v1h-1z" fill="#6478b4" fill-opacity="0.88"/>
<path d="M210.8 479.0h1v1h-1zM231.3 473.5h1v1h-1zM232.4 472.9h1v1h-1zM228.5 470.2h1v1h-1zM233.2 472.0h1v1h-1zM231.5 470.4h1v1h-1z" fill="#64aab4" fill-opacity="0.88"/></g>
<g><path d="M213.0 610.2h1v1h-1zM212.7 610.4h1v1h-1zM210.7 616.3h1v1h-1z" fill="#6eb4aa" fill-opacity="0.88"/>
<path d="M211.5 610.6h1v1h-1zM210.3 617.5h1v1h-1zM213.9 609.1h1v1h-1zM213.2 617.3h1v1h-1zM214.2 615.8h1v1h-1z" fill="#5aa0d2" fill-opacity="0.88"/>
<path d="M213.3 618.8h1v1h-1zM211.6 606.9h1v1h-1zM212.1 620.1h1v1h-1zM212.7 606.1h1v1h-1zM208.2 617.0h1v1h-1zM209.1 617.9h1v1h-1zM212.9 601.2h1v1h-1zM215.9 597.1h1v1h-1zM209.4 609.1h1v1h-1zM213.9 600.3h1v1h-1zM218.3 619.3h1v1h-1zM210.8 597.7h1v1h-1zM207.6 612.6h1v1h-1zM216.0 599.1h1v1h-1zM208.9 603.3h1v1h-1zM209.0 614.6h1v1h-1zM223.8 594.2h1v1h-1zM244.6 583.5h1v1h-1zM245.7 591.6h1v1h-1z" fill="#646eb4" fill-opacity="0.88"/>
<path d="M212.5 610.2h1v1h-1zM211.9 614.1h1v1h-1zM213.1 614.7h1v1h-1z" fill="#b4c850" fill-opacity="0.88"/>
<path d="M209.9 617.9h1v1h-1zM211.0 616.2h1v1h-1z" fill="#64aadc" fill-opacity="0.88"/>
<path d="M214.0 611.1h1v1h-1z" fill="#8cbe64" fill-opacity="0.88"/>
<path d="M212.2 615.0h1v1h-1z" fill="#c8c846" fill-opacity="0.88"/>
<path d="M213.4 618.2h1v1h-1zM210.1 616.0h1v1h-1zM210.1 594.6h1v1h-1zM209.9 601.4h1v1h-1zM213.1 607.1h1v1h-1zM210.5 591.5h1v1h-1zM207.9 612.9h1v1h-1zM207.8 613.5h1v1h-1zM215.6 598.2h1v1h-1zM211.0 607.9h1v1h-1zM207.2 616.0h1v1h-1zM215.7 597.8h1v1h-1z" fill="#5a6eb4" fill-opacity="0.88"/>
<path d="M215.3 613.8h1v1h-1z" fill="#64aac8" fill-opacity="0.88"/>
<path d="M212.8 609.9h1v1h-1z" fill="#dcb432" fill-opacity="0.88"/>
<path d="M210.7 612.2h1v1h-1zM211.2 614.7h1v1h-1z" fill="#78b46e" fill-opacity="0.88"/>
<path d="M211.3 618.1h1v1h-1zM208.8 613.7h1v1h-1zM217.1 612.3h1v1h-1zM212.1 602.3h1v1h-1zM215.3 598.1h1v1h-1z" fill="#5064aa" fill-opacity="0.88"/>
<path d="M214.0 614.7h1v1h-1zM210.6 613.3h1v1h-1zM213.9 613.5h1v1h-1zM214.6 611.1h1v1h-1z" fill="#6eb496" fill-opacity="0.88"/>
<path d="M210.1 616.6h1v1h-1z" fill="#aabe50" fill-opacity="0.88"/>
<path d="M212.8 614.3h1v1h-1zM213.3 614.0h1v1h-1zM212.5 614.4h1v1h-1zM213.6 613.8h1v1h-1zM212.1 612.1h1v1h-1zM213.0 613.2h1v1h-1zM212.3 612.2h1v1h-1zM213.8 612.2h1v1h-1zM211.3 612.5h1v1h-1zM212.4 611.8h1v1h-1zM212.6 612.7h1v1h-1z" fill="#e69632" fill-opacity="0.88"/>
<path d="M213.0 615.0h1v1h-1zM211.2 612.4h1v1h-1z" fill="#78b48c" fill-opacity="0.88"/>
<path d="M213.3 616.0h1v1h-1zM212.4 616.7h1v1h-1zM211.5 617.0h1v1h-1zM215.2 612.7h1v1h-1z" fill="#6eb4a0" fill-opacity="0.88"/>
<path d="M211.0 621.0h1v1h-1zM205.3 607.9h1v1h-1zM207.7 594.7h1v1h-1zM214.1 583.1h1v1h-1zM213.5 598.2h1v1h-1zM206.1 606.4h1v1h-1zM212.1 587.1h1v1h-1zM203.0 606.1h1v1h-1zM220.4 607.7h1v1h-1zM208.2 608.9h1v1h-1zM217.1 619.2h1v1h-1zM216.6 592.5h1v1h-1zM221.7 612.1h1v1h-1zM207.0 601.4h1v1h-1zM247.2 604.9h1v1h-1zM234.5 601.4h1v1h-1zM221.9 583.7h1v1h-1zM234.6 598.7h1v1h-1zM251.3 590.1h1v1h-1zM243.1 611.6h1v1h-1zM218.1 613.3h1v1h-1zM218.8 612.5h1v1h-1zM227.4 610.2h1v1h-1zM223.6 613.5h1v1h-1z" fill="#7882be" fill-opacity="0.88"/>
<path d="M215.5 611.5h1v1h-1zM208.5 595.1h1v1h-1zM207.6 608.9h1v1h-1zM215.9 599.8h1v1h-1zM239.7 610.2h1v1h-1z" fill="#5a64b4" fill-opacity="0.88"/>
<path d="M210.0 615.9h1v1h-1zM212.7 619.0h1v1h-1z" fill="#5aaadc" fill-opacity="0.88"/>
<path d="M213.7 612.5h1v1h-1z" fill="#96be5a" fill-opacity="0.88"/>
<path d="M213.4 615.1h1v1h-1z" fill="#b4c846" fill-opacity="0.88"/>
<path d="M211.3 612.6h1v1h-1zM212.8 609.4h1v1h-1z" fill="#82be64" fill-opacity="0.88"/>
<path d="M214.9 615.1h1v1h-1zM214.0 616.5h1v1h-1z" fill="#5a8cc8" fill-opacity="0.88"/>
<path d="M215.2 613.7h1v1h-1zM213.3 608.0h1v1h-1zM209.0 595.4h1v1h-1zM209.3 611.7h1v1h-1z" fill="#5a78be" fill-opacity="0.88"/>
<path d="M211.0 617.3h1v1h-1z" fill="#5a82c8" fill-opacity="0.88"/>
<path d="M212.6 613.7h1v1h-1zM213.0 612.1h1v1h-1z" fill="#dcbe32" fill-opacity="0.88"/>
<path d="M211.4 611.4h1v1h-1z" fill="#e6aa32" fill-opacity="0.88"/>
<path d="M210.7 612.1h1v1h-1zM212.9 608.6h1v1h-1z" fill="#5a82be" fill-opacity="0.88"/>
<path d="M210.8 617.3h1v1h-1zM210.8 618.2h1v1h-1zM210.7 615.9h1v1h-1z" fill="#64aad2" fill-opacity="0.88"/>
<path d="M213.7 616.8h1v1h-1z" fill="#5a96c8" fill-opacity="0.88"/>
<path d="M212.2 612.8h1v1h-1z" fill="#dcc832" fill-opacity="0.88"/>
<path d="M214.9 612.1h1v1h-1z" fill="#78b478" fill-opacity="0.88"/>
<path d="M211.4 608.3h1v1h-1zM212.2 608.8h1v1h-1z" fill="#5a96d2" fill-opacity="0.88"/>
<path d="M209.3 595.0h1v1h-1zM210.9 607.8h1v1h-1z" fill="#506eb4" fill-opacity="0.88"/>
<path d="M203.8 608.1h1v1h-1zM205.4 590.4h1v1h-1zM224.1 607.5h1v1h-1zM210.0 590.6h1v1h-1zM211.5 604.7h1v1h-1zM201.5 602.6h1v1h-1zM219.1 614.8h1v1h-1zM210.5 589.4h1v1h-1zM234.2 595.3h1v1h-1zM229.7 590.3h1v1h-1zM241.6 611.3h1v1h-1zM225.9 599.6h1v1h-1zM237.1 615.9h1v1h-1zM223.9 598.6h1v1h-1zM231.2 609.9h1v1h-1zM245.9 614.7h1v1h-1z" fill="#7882c8" fill-opacity="0.88"/>
<path d="M215.0 588.9h1v1h-1zM212.7 592.6h1v1h-1zM207.9 594.0h1v1h-1zM216.1 598.3h1v1h-1zM211.6 598.1h1v1h-1zM215.1 601.9h1v1h-1zM215.7 602.9h1v1h-1zM210.8 602.9h1v1h-1zM216.0 607.8h1v1h-1zM211.2 592.8h1v1h-1zM218.1 591.2h1v1h-1zM206.2 612.7h1v1h-1zM207.6 594.4h1v1h-1zM217.8 601.3h1v1h-1zM216.4 615.2h1v1h-1zM212.3 602.9h1v1h-1zM212.9 606.0h1v1h-1zM211.9 596.0h1v1h-1zM238.1 584.3h1v1h-1zM241.2 590.4h1v1h-1zM226.4 595.8h1v1h-1zM234.9 588.3h1v1h-1zM221.0 590.7h1v1h-1zM239.0 610.6h1v1h-1zM210.4 591.1h1v1h-1zM231.0 603.1h1v1h-1zM235.6 615.2h1v1h-1zM221.3 617.3h1v1h-1zM242.3 614.2h1v1h-1zM207.8 609.4h1v1h-1z" fill="#6e78be" fill-opacity="0.88"/>
<path d="M212.6 603.8h1v1h-1zM215.1 597.9h1v1h-1zM217.7 597.7h1v1h-1zM209.7 609.5h1v1h-1zM246.1 589.9h1v1h-1z" fill="#6478be" fill-opacity="0.88"/>
<path d="M209.2 604.7h1v1h-1zM215.2 609.2h1v1h-1zM208.4 601.8h1v1h-1zM213.3 594.7h1v1h-1zM200.7 609.6h1v1h-1z" fill="#6478b4" fill-opacity="0.88"/>
<path d="M218.0 608.4h1v1h-1zM211.1 596.0h1v1h-1zM206.8 616.5h1v1h-1zM208.3 599.9h1v1h-1zM214.8 602.8h1v1h-1zM209.8 594.1h1v1h-1zM214.5 587.8h1v1h-1zM208.3 621.8h1v1h-1zM218.1 603.2h1v1h-1zM209.0 599.5h1v1h-1zM218.7 588.7h1v1h-1zM207.5 600.5h1v1h-1zM243.9 599.1h1v1h-1zM227.9 596.3h1v1h-1zM226.2 608.1h1v1h-1zM234.3 599.5h1v1h-1zM241.5 612.7h1v1h-1zM243.3 617.8h1v1h-1z" fill="#6e82be" fill-opacity="0.88"/>
<path d="M220.3 609.3h1v1h-1zM209.4 622.0h1v1h-1zM216.5 629.0h1v1h-1zM204.1 596.0h1v1h-1zM208.4 587.3h1v1h-1zM216.3 588.1h1v1h-1zM219.0 608.6h1v1h-1zM219.2 618.3h1v1h-1zM216.6 609.2h1v1h-1zM209.8 582.2h1v1h-1zM227.3 585.2h1v1h-1zM238.2 599.6h1v1h-1zM249.1 599.2h1v1h-1zM245.0 591.5h1v1h-1zM231.9 596.3h1v1h-1zM247.9 605.6h1v1h-1zM229.1 594.2h1v1h-1zM232.4 593.7h1v1h-1zM246.3 602.3h1v1h-1zM241.4 604.1h1v1h-1zM227.2 592.7h1v1h-1zM242.2 594.5h1v1h-1zM245.9 586.9h1v1h-1zM231.7 607.4h1v1h-1zM226.6 616.2h1v1h-1zM224.2 617.2h1v1h-1zM232.6 610.9h1v1h-1zM230.1 613.5h1v1h-1zM244.9 615.7h1v1h-1z" fill="#828cc8" fill-opacity="0.88"/>
<path d="M213.3 610.2h1v1h-1z" fill="#bec846" fill-opacity="0.88"/>
<path d="M207.3 612.3h1v1h-1z" fill="#5a78b4" fill-opacity="0.88"/>
<path d="M213.2 611.3h1v1h-1z" fill="#a0be5a" fill-opacity="0.88"/></g>
<rect x="58.50" y="427.80" width="83.40" height="83.00" fill="none" stroke="#1a1a1a" stroke-width="1.1"/>
<rect x="86.60" y="444.30" width="34.60" height="25.30" fill="none" stroke="#6a6a6a" stroke-width="0.9"/>
<text x="126.00" y="435.30" font-size="6.2" fill="#231f20" textLength="9.80" lengthAdjust="spacingAndGlyphs" >LSK</text>
<text x="126.00" y="443.40" font-size="6.2" fill="#231f20" textLength="13.30" lengthAdjust="spacingAndGlyphs" >2.2%</text>
<text x="57.60" y="422.60" font-size="8.3" fill="#231f20" textLength="10.40" lengthAdjust="spacingAndGlyphs" >Bl6</text>
<text x="40.80" y="439.20" font-size="8.4" fill="#231f20" textLength="7.4" lengthAdjust="spacingAndGlyphs">10</text>
<text x="48.50" y="435.70" font-size="5.8" fill="#231f20">5</text>
<line x1="56.00" y1="435.70" x2="58.50" y2="435.70" stroke="#1a1a1a" stroke-width="0.9" />
<text x="40.80" y="458.30" font-size="8.4" fill="#231f20" textLength="7.4" lengthAdjust="spacingAndGlyphs">10</text>
<text x="48.50" y="454.80" font-size="5.8" fill="#231f20">4</text>
<line x1="56.00" y1="454.80" x2="58.50" y2="454.80" stroke="#1a1a1a" stroke-width="0.9" />
<text x="40.80" y="479.00" font-size="8.4" fill="#231f20" textLength="7.4" lengthAdjust="spacingAndGlyphs">10</text>
<text x="48.50" y="475.50" font-size="5.8" fill="#231f20">3</text>
<line x1="56.00" y1="475.50" x2="58.50" y2="475.50" stroke="#1a1a1a" stroke-width="0.9" />
<text x="51.90" y="498.50" font-size="8.4" fill="#231f20" text-anchor="end" >0</text>
<line x1="56.00" y1="495.00" x2="58.50" y2="495.00" stroke="#1a1a1a" stroke-width="0.9" />
<line x1="56.90" y1="449.68" x2="58.50" y2="449.68" stroke="#1a1a1a" stroke-width="0.6" />
<line x1="56.90" y1="446.16" x2="58.50" y2="446.16" stroke="#1a1a1a" stroke-width="0.6" />
<line x1="56.90" y1="443.66" x2="58.50" y2="443.66" stroke="#1a1a1a" stroke-width="0.6" />
<line x1="56.90" y1="441.72" x2="58.50" y2="441.72" stroke="#1a1a1a" stroke-width="0.6" />
<line x1="56.90" y1="440.14" x2="58.50" y2="440.14" stroke="#1a1a1a" stroke-width="0.6" />
<line x1="56.90" y1="438.80" x2="58.50" y2="438.80" stroke="#1a1a1a" stroke-width="0.6" />
<line x1="56.90" y1="437.64" x2="58.50" y2="437.64" stroke="#1a1a1a" stroke-width="0.6" />
<line x1="56.90" y1="436.62" x2="58.50" y2="436.62" stroke="#1a1a1a" stroke-width="0.6" />
<line x1="56.90" y1="468.78" x2="58.50" y2="468.78" stroke="#1a1a1a" stroke-width="0.6" />
<line x1="56.90" y1="465.26" x2="58.50" y2="465.26" stroke="#1a1a1a" stroke-width="0.6" />
<line x1="56.90" y1="462.76" x2="58.50" y2="462.76" stroke="#1a1a1a" stroke-width="0.6" />
<line x1="56.90" y1="460.82" x2="58.50" y2="460.82" stroke="#1a1a1a" stroke-width="0.6" />
<line x1="56.90" y1="459.24" x2="58.50" y2="459.24" stroke="#1a1a1a" stroke-width="0.6" />
<line x1="56.90" y1="457.90" x2="58.50" y2="457.90" stroke="#1a1a1a" stroke-width="0.6" />
<line x1="56.90" y1="456.74" x2="58.50" y2="456.74" stroke="#1a1a1a" stroke-width="0.6" />
<line x1="56.90" y1="455.72" x2="58.50" y2="455.72" stroke="#1a1a1a" stroke-width="0.6" />
<line x1="56.90" y1="489.48" x2="58.50" y2="489.48" stroke="#1a1a1a" stroke-width="0.6" />
<line x1="56.90" y1="485.96" x2="58.50" y2="485.96" stroke="#1a1a1a" stroke-width="0.6" />
<line x1="56.90" y1="483.46" x2="58.50" y2="483.46" stroke="#1a1a1a" stroke-width="0.6" />
<line x1="56.90" y1="481.52" x2="58.50" y2="481.52" stroke="#1a1a1a" stroke-width="0.6" />
<line x1="56.90" y1="479.94" x2="58.50" y2="479.94" stroke="#1a1a1a" stroke-width="0.6" />
<line x1="56.90" y1="478.60" x2="58.50" y2="478.60" stroke="#1a1a1a" stroke-width="0.6" />
<line x1="56.90" y1="477.44" x2="58.50" y2="477.44" stroke="#1a1a1a" stroke-width="0.6" />
<line x1="56.90" y1="476.42" x2="58.50" y2="476.42" stroke="#1a1a1a" stroke-width="0.6" />
<text x="69.40" y="524.80" font-size="8.4" fill="#231f20" text-anchor="middle" >0</text>
<line x1="69.40" y1="510.80" x2="69.40" y2="513.40" stroke="#1a1a1a" stroke-width="0.9" />
<text x="89.30" y="524.80" font-size="8.4" fill="#231f20" textLength="7.5" lengthAdjust="spacingAndGlyphs">10</text>
<text x="97.30" y="521.50" font-size="5.8" fill="#231f20">3</text>
<line x1="94.50" y1="510.80" x2="94.50" y2="513.40" stroke="#1a1a1a" stroke-width="0.9" />
<text x="108.70" y="524.80" font-size="8.4" fill="#231f20" textLength="7.5" lengthAdjust="spacingAndGlyphs">10</text>
<text x="116.70" y="521.50" font-size="5.8" fill="#231f20">4</text>
<line x1="113.90" y1="510.80" x2="113.90" y2="513.40" stroke="#1a1a1a" stroke-width="0.9" />
<text x="128.60" y="524.80" font-size="8.4" fill="#231f20" textLength="7.5" lengthAdjust="spacingAndGlyphs">10</text>
<text x="136.60" y="521.50" font-size="5.8" fill="#231f20">5</text>
<line x1="133.80" y1="510.80" x2="133.80" y2="513.40" stroke="#1a1a1a" stroke-width="0.9" />
<line x1="100.37" y1="510.80" x2="100.37" y2="512.40" stroke="#1a1a1a" stroke-width="0.6" />
<line x1="103.80" y1="510.80" x2="103.80" y2="512.40" stroke="#1a1a1a" stroke-width="0.6" />
<line x1="106.24" y1="510.80" x2="106.24" y2="512.40" stroke="#1a1a1a" stroke-width="0.6" />
<line x1="108.13" y1="510.80" x2="108.13" y2="512.40" stroke="#1a1a1a" stroke-width="0.6" />
<line x1="109.67" y1="510.80" x2="109.67" y2="512.40" stroke="#1a1a1a" stroke-width="0.6" />
<line x1="110.98" y1="510.80" x2="110.98" y2="512.40" stroke="#1a1a1a" stroke-width="0.6" />
<line x1="112.11" y1="510.80" x2="112.11" y2="512.40" stroke="#1a1a1a" stroke-width="0.6" />
<line x1="113.11" y1="510.80" x2="113.11" y2="512.40" stroke="#1a1a1a" stroke-width="0.6" />
<line x1="119.77" y1="510.80" x2="119.77" y2="512.40" stroke="#1a1a1a" stroke-width="0.6" />
<line x1="123.20" y1="510.80" x2="123.20" y2="512.40" stroke="#1a1a1a" stroke-width="0.6" />
<line x1="125.64" y1="510.80" x2="125.64" y2="512.40" stroke="#1a1a1a" stroke-width="0.6" />
<line x1="127.53" y1="510.80" x2="127.53" y2="512.40" stroke="#1a1a1a" stroke-width="0.6" />
<line x1="129.07" y1="510.80" x2="129.07" y2="512.40" stroke="#1a1a1a" stroke-width="0.6" />
<line x1="130.38" y1="510.80" x2="130.38" y2="512.40" stroke="#1a1a1a" stroke-width="0.6" />
<line x1="131.51" y1="510.80" x2="131.51" y2="512.40" stroke="#1a1a1a" stroke-width="0.6" />
<line x1="132.51" y1="510.80" x2="132.51" y2="512.40" stroke="#1a1a1a" stroke-width="0.6" />
<rect x="58.50" y="548.90" width="83.40" height="83.50" fill="none" stroke="#1a1a1a" stroke-width="1.1"/>
<rect x="86.40" y="565.00" width="34.50" height="25.70" fill="none" stroke="#6a6a6a" stroke-width="0.9"/>
<text x="126.00" y="556.40" font-size="6.2" fill="#231f20" textLength="9.80" lengthAdjust="spacingAndGlyphs" >LSK</text>
<text x="126.00" y="564.50" font-size="6.2" fill="#231f20" textLength="13.30" lengthAdjust="spacingAndGlyphs" >0.4%</text>
<text x="57.60" y="543.70" font-size="8.3" fill="#231f20" textLength="26.30" lengthAdjust="spacingAndGlyphs" >Thpo-/-</text>
<text x="40.80" y="558.30" font-size="8.4" fill="#231f20" textLength="7.4" lengthAdjust="spacingAndGlyphs">10</text>
<text x="48.50" y="554.80" font-size="5.8" fill="#231f20">5</text>
<line x1="56.00" y1="554.80" x2="58.50" y2="554.80" stroke="#1a1a1a" stroke-width="0.9" />
<text x="40.80" y="579.30" font-size="8.4" fill="#231f20" textLength="7.4" lengthAdjust="spacingAndGlyphs">10</text>
<text x="48.50" y="575.80" font-size="5.8" fill="#231f20">4</text>
<line x1="56.00" y1="575.80" x2="58.50" y2="575.80" stroke="#1a1a1a" stroke-width="0.9" />
<text x="40.80" y="600.00" font-size="8.4" fill="#231f20" textLength="7.4" lengthAdjust="spacingAndGlyphs">10</text>
<text x="48.50" y="596.50" font-size="5.8" fill="#231f20">3</text>
<line x1="56.00" y1="596.50" x2="58.50" y2="596.50" stroke="#1a1a1a" stroke-width="0.9" />
<text x="51.90" y="620.20" font-size="8.4" fill="#231f20" text-anchor="end" >0</text>
<line x1="56.00" y1="616.70" x2="58.50" y2="616.70" stroke="#1a1a1a" stroke-width="0.9" />
<line x1="56.90" y1="568.78" x2="58.50" y2="568.78" stroke="#1a1a1a" stroke-width="0.6" />
<line x1="56.90" y1="565.26" x2="58.50" y2="565.26" stroke="#1a1a1a" stroke-width="0.6" />
<line x1="56.90" y1="562.76" x2="58.50" y2="562.76" stroke="#1a1a1a" stroke-width="0.6" />
<line x1="56.90" y1="560.82" x2="58.50" y2="560.82" stroke="#1a1a1a" stroke-width="0.6" />
<line x1="56.90" y1="559.24" x2="58.50" y2="559.24" stroke="#1a1a1a" stroke-width="0.6" />
<line x1="56.90" y1="557.90" x2="58.50" y2="557.90" stroke="#1a1a1a" stroke-width="0.6" />
<line x1="56.90" y1="556.74" x2="58.50" y2="556.74" stroke="#1a1a1a" stroke-width="0.6" />
<line x1="56.90" y1="555.72" x2="58.50" y2="555.72" stroke="#1a1a1a" stroke-width="0.6" />
<line x1="56.90" y1="589.78" x2="58.50" y2="589.78" stroke="#1a1a1a" stroke-width="0.6" />
<line x1="56.90" y1="586.26" x2="58.50" y2="586.26" stroke="#1a1a1a" stroke-width="0.6" />
<line x1="56.90" y1="583.76" x2="58.50" y2="583.76" stroke="#1a1a1a" stroke-width="0.6" />
<line x1="56.90" y1="581.82" x2="58.50" y2="581.82" stroke="#1a1a1a" stroke-width="0.6" />
<line x1="56.90" y1="580.24" x2="58.50" y2="580.24" stroke="#1a1a1a" stroke-width="0.6" />
<line x1="56.90" y1="578.90" x2="58.50" y2="578.90" stroke="#1a1a1a" stroke-width="0.6" />
<line x1="56.90" y1="577.74" x2="58.50" y2="577.74" stroke="#1a1a1a" stroke-width="0.6" />
<line x1="56.90" y1="576.72" x2="58.50" y2="576.72" stroke="#1a1a1a" stroke-width="0.6" />
<line x1="56.90" y1="610.48" x2="58.50" y2="610.48" stroke="#1a1a1a" stroke-width="0.6" />
<line x1="56.90" y1="606.96" x2="58.50" y2="606.96" stroke="#1a1a1a" stroke-width="0.6" />
<line x1="56.90" y1="604.46" x2="58.50" y2="604.46" stroke="#1a1a1a" stroke-width="0.6" />
<line x1="56.90" y1="602.52" x2="58.50" y2="602.52" stroke="#1a1a1a" stroke-width="0.6" />
<line x1="56.90" y1="600.94" x2="58.50" y2="600.94" stroke="#1a1a1a" stroke-width="0.6" />
<line x1="56.90" y1="599.60" x2="58.50" y2="599.60" stroke="#1a1a1a" stroke-width="0.6" />
<line x1="56.90" y1="598.44" x2="58.50" y2="598.44" stroke="#1a1a1a" stroke-width="0.6" />
<line x1="56.90" y1="597.42" x2="58.50" y2="597.42" stroke="#1a1a1a" stroke-width="0.6" />
<text x="69.40" y="647.00" font-size="8.4" fill="#231f20" text-anchor="middle" >0</text>
<line x1="69.40" y1="632.40" x2="69.40" y2="635.00" stroke="#1a1a1a" stroke-width="0.9" />
<text x="89.30" y="647.00" font-size="8.4" fill="#231f20" textLength="7.5" lengthAdjust="spacingAndGlyphs">10</text>
<text x="97.30" y="643.70" font-size="5.8" fill="#231f20">3</text>
<line x1="94.50" y1="632.40" x2="94.50" y2="635.00" stroke="#1a1a1a" stroke-width="0.9" />
<text x="108.70" y="647.00" font-size="8.4" fill="#231f20" textLength="7.5" lengthAdjust="spacingAndGlyphs">10</text>
<text x="116.70" y="643.70" font-size="5.8" fill="#231f20">4</text>
<line x1="113.90" y1="632.40" x2="113.90" y2="635.00" stroke="#1a1a1a" stroke-width="0.9" />
<text x="128.60" y="647.00" font-size="8.4" fill="#231f20" textLength="7.5" lengthAdjust="spacingAndGlyphs">10</text>
<text x="136.60" y="643.70" font-size="5.8" fill="#231f20">5</text>
<line x1="133.80" y1="632.40" x2="133.80" y2="635.00" stroke="#1a1a1a" stroke-width="0.9" />
<line x1="100.37" y1="632.40" x2="100.37" y2="634.00" stroke="#1a1a1a" stroke-width="0.6" />
<line x1="103.80" y1="632.40" x2="103.80" y2="634.00" stroke="#1a1a1a" stroke-width="0.6" />
<line x1="106.24" y1="632.40" x2="106.24" y2="634.00" stroke="#1a1a1a" stroke-width="0.6" />
<line x1="108.13" y1="632.40" x2="108.13" y2="634.00" stroke="#1a1a1a" stroke-width="0.6" />
<line x1="109.67" y1="632.40" x2="109.67" y2="634.00" stroke="#1a1a1a" stroke-width="0.6" />
<line x1="110.98" y1="632.40" x2="110.98" y2="634.00" stroke="#1a1a1a" stroke-width="0.6" />
<line x1="112.11" y1="632.40" x2="112.11" y2="634.00" stroke="#1a1a1a" stroke-width="0.6" />
<line x1="113.11" y1="632.40" x2="113.11" y2="634.00" stroke="#1a1a1a" stroke-width="0.6" />
<line x1="119.77" y1="632.40" x2="119.77" y2="634.00" stroke="#1a1a1a" stroke-width="0.6" />
<line x1="123.20" y1="632.40" x2="123.20" y2="634.00" stroke="#1a1a1a" stroke-width="0.6" />
<line x1="125.64" y1="632.40" x2="125.64" y2="634.00" stroke="#1a1a1a" stroke-width="0.6" />
<line x1="127.53" y1="632.40" x2="127.53" y2="634.00" stroke="#1a1a1a" stroke-width="0.6" />
<line x1="129.07" y1="632.40" x2="129.07" y2="634.00" stroke="#1a1a1a" stroke-width="0.6" />
<line x1="130.38" y1="632.40" x2="130.38" y2="634.00" stroke="#1a1a1a" stroke-width="0.6" />
<line x1="131.51" y1="632.40" x2="131.51" y2="634.00" stroke="#1a1a1a" stroke-width="0.6" />
<line x1="132.51" y1="632.40" x2="132.51" y2="634.00" stroke="#1a1a1a" stroke-width="0.6" />
<rect x="197.40" y="427.60" width="83.10" height="83.60" fill="none" stroke="#1a1a1a" stroke-width="1.1"/>
<line x1="220.30" y1="427.60" x2="220.30" y2="511.20" stroke="#2a2a2a" stroke-width="1.0" />
<line x1="197.40" y1="483.30" x2="280.50" y2="483.30" stroke="#2a2a2a" stroke-width="1.0" />
<text x="187.40" y="434.00" font-size="5.8" fill="#231f20">5</text>
<text x="179.60" y="437.50" font-size="8.4" fill="#231f20" textLength="7.4" lengthAdjust="spacingAndGlyphs">10</text>
<line x1="194.80" y1="434.80" x2="197.40" y2="434.80" stroke="#1a1a1a" stroke-width="0.9" />
<text x="187.40" y="453.10" font-size="5.8" fill="#231f20">4</text>
<text x="179.60" y="456.60" font-size="8.4" fill="#231f20" textLength="7.4" lengthAdjust="spacingAndGlyphs">10</text>
<line x1="194.80" y1="453.90" x2="197.40" y2="453.90" stroke="#1a1a1a" stroke-width="0.9" />
<text x="187.40" y="473.20" font-size="5.8" fill="#231f20">3</text>
<text x="179.60" y="476.70" font-size="8.4" fill="#231f20" textLength="7.4" lengthAdjust="spacingAndGlyphs">10</text>
<line x1="194.80" y1="474.00" x2="197.40" y2="474.00" stroke="#1a1a1a" stroke-width="0.9" />
<text x="187.40" y="492.20" font-size="5.8" fill="#231f20">2</text>
<text x="179.60" y="495.70" font-size="8.4" fill="#231f20" textLength="7.4" lengthAdjust="spacingAndGlyphs">10</text>
<line x1="194.80" y1="493.00" x2="197.40" y2="493.00" stroke="#1a1a1a" stroke-width="0.9" />
<text x="191.40" y="504.10" font-size="8.4" fill="#231f20" text-anchor="end" >0</text>
<line x1="194.80" y1="501.40" x2="197.40" y2="501.40" stroke="#1a1a1a" stroke-width="0.9" />
<text x="187.40" y="510.80" font-size="5.8" fill="#231f20">2</text>
<text x="177.00" y="514.30" font-size="8.4" fill="#231f20" textLength="10.0" lengthAdjust="spacingAndGlyphs">-10</text>
<line x1="194.80" y1="511.60" x2="197.40" y2="511.60" stroke="#1a1a1a" stroke-width="0.9" />
<line x1="195.80" y1="448.15" x2="197.40" y2="448.15" stroke="#1a1a1a" stroke-width="0.6" />
<line x1="195.80" y1="444.79" x2="197.40" y2="444.79" stroke="#1a1a1a" stroke-width="0.6" />
<line x1="195.80" y1="442.40" x2="197.40" y2="442.40" stroke="#1a1a1a" stroke-width="0.6" />
<line x1="195.80" y1="440.55" x2="197.40" y2="440.55" stroke="#1a1a1a" stroke-width="0.6" />
<line x1="195.80" y1="439.04" x2="197.40" y2="439.04" stroke="#1a1a1a" stroke-width="0.6" />
<line x1="195.80" y1="437.76" x2="197.40" y2="437.76" stroke="#1a1a1a" stroke-width="0.6" />
<line x1="195.80" y1="436.65" x2="197.40" y2="436.65" stroke="#1a1a1a" stroke-width="0.6" />
<line x1="195.80" y1="435.67" x2="197.40" y2="435.67" stroke="#1a1a1a" stroke-width="0.6" />
<line x1="195.80" y1="467.95" x2="197.40" y2="467.95" stroke="#1a1a1a" stroke-width="0.6" />
<line x1="195.80" y1="464.41" x2="197.40" y2="464.41" stroke="#1a1a1a" stroke-width="0.6" />
<line x1="195.80" y1="461.90" x2="197.40" y2="461.90" stroke="#1a1a1a" stroke-width="0.6" />
<line x1="195.80" y1="459.95" x2="197.40" y2="459.95" stroke="#1a1a1a" stroke-width="0.6" />
<line x1="195.80" y1="458.36" x2="197.40" y2="458.36" stroke="#1a1a1a" stroke-width="0.6" />
<line x1="195.80" y1="457.01" x2="197.40" y2="457.01" stroke="#1a1a1a" stroke-width="0.6" />
<line x1="195.80" y1="455.85" x2="197.40" y2="455.85" stroke="#1a1a1a" stroke-width="0.6" />
<line x1="195.80" y1="454.82" x2="197.40" y2="454.82" stroke="#1a1a1a" stroke-width="0.6" />
<line x1="195.80" y1="487.28" x2="197.40" y2="487.28" stroke="#1a1a1a" stroke-width="0.6" />
<line x1="195.80" y1="483.93" x2="197.40" y2="483.93" stroke="#1a1a1a" stroke-width="0.6" />
<line x1="195.80" y1="481.56" x2="197.40" y2="481.56" stroke="#1a1a1a" stroke-width="0.6" />
<line x1="195.80" y1="479.72" x2="197.40" y2="479.72" stroke="#1a1a1a" stroke-width="0.6" />
<line x1="195.80" y1="478.22" x2="197.40" y2="478.22" stroke="#1a1a1a" stroke-width="0.6" />
<line x1="195.80" y1="476.94" x2="197.40" y2="476.94" stroke="#1a1a1a" stroke-width="0.6" />
<line x1="195.80" y1="475.84" x2="197.40" y2="475.84" stroke="#1a1a1a" stroke-width="0.6" />
<line x1="195.80" y1="474.87" x2="197.40" y2="474.87" stroke="#1a1a1a" stroke-width="0.6" />
<text x="211.60" y="525.00" font-size="8.4" fill="#231f20" text-anchor="middle" >0</text>
<line x1="211.60" y1="511.20" x2="211.60" y2="513.60" stroke="#1a1a1a" stroke-width="0.9" />
<text x="227.20" y="525.00" font-size="8.4" fill="#231f20" textLength="7.5" lengthAdjust="spacingAndGlyphs">10</text>
<text x="235.50" y="521.70" font-size="5.8" fill="#231f20">3</text>
<line x1="232.40" y1="511.20" x2="232.40" y2="513.60" stroke="#1a1a1a" stroke-width="0.9" />
<text x="247.40" y="525.00" font-size="8.4" fill="#231f20" textLength="7.5" lengthAdjust="spacingAndGlyphs">10</text>
<text x="255.70" y="521.70" font-size="5.8" fill="#231f20">4</text>
<line x1="252.60" y1="511.20" x2="252.60" y2="513.60" stroke="#1a1a1a" stroke-width="0.9" />
<text x="266.50" y="525.00" font-size="8.4" fill="#231f20" textLength="7.5" lengthAdjust="spacingAndGlyphs">10</text>
<text x="274.80" y="521.70" font-size="5.8" fill="#231f20">5</text>
<line x1="271.70" y1="511.20" x2="271.70" y2="513.60" stroke="#1a1a1a" stroke-width="0.9" />
<line x1="238.48" y1="511.20" x2="238.48" y2="512.70" stroke="#1a1a1a" stroke-width="0.6" />
<line x1="242.04" y1="511.20" x2="242.04" y2="512.70" stroke="#1a1a1a" stroke-width="0.6" />
<line x1="244.56" y1="511.20" x2="244.56" y2="512.70" stroke="#1a1a1a" stroke-width="0.6" />
<line x1="246.52" y1="511.20" x2="246.52" y2="512.70" stroke="#1a1a1a" stroke-width="0.6" />
<line x1="248.12" y1="511.20" x2="248.12" y2="512.70" stroke="#1a1a1a" stroke-width="0.6" />
<line x1="249.47" y1="511.20" x2="249.47" y2="512.70" stroke="#1a1a1a" stroke-width="0.6" />
<line x1="250.64" y1="511.20" x2="250.64" y2="512.70" stroke="#1a1a1a" stroke-width="0.6" />
<line x1="251.68" y1="511.20" x2="251.68" y2="512.70" stroke="#1a1a1a" stroke-width="0.6" />
<line x1="258.35" y1="511.20" x2="258.35" y2="512.70" stroke="#1a1a1a" stroke-width="0.6" />
<line x1="261.71" y1="511.20" x2="261.71" y2="512.70" stroke="#1a1a1a" stroke-width="0.6" />
<line x1="264.10" y1="511.20" x2="264.10" y2="512.70" stroke="#1a1a1a" stroke-width="0.6" />
<line x1="265.95" y1="511.20" x2="265.95" y2="512.70" stroke="#1a1a1a" stroke-width="0.6" />
<line x1="267.46" y1="511.20" x2="267.46" y2="512.70" stroke="#1a1a1a" stroke-width="0.6" />
<line x1="268.74" y1="511.20" x2="268.74" y2="512.70" stroke="#1a1a1a" stroke-width="0.6" />
<line x1="269.85" y1="511.20" x2="269.85" y2="512.70" stroke="#1a1a1a" stroke-width="0.6" />
<line x1="270.83" y1="511.20" x2="270.83" y2="512.70" stroke="#1a1a1a" stroke-width="0.6" />
<line x1="203.40" y1="511.20" x2="203.40" y2="512.70" stroke="#1a1a1a" stroke-width="0.6" />
<line x1="206.40" y1="511.20" x2="206.40" y2="512.70" stroke="#1a1a1a" stroke-width="0.6" />
<line x1="208.90" y1="511.20" x2="208.90" y2="512.70" stroke="#1a1a1a" stroke-width="0.6" />
<line x1="214.40" y1="511.20" x2="214.40" y2="512.70" stroke="#1a1a1a" stroke-width="0.6" />
<line x1="216.90" y1="511.20" x2="216.90" y2="512.70" stroke="#1a1a1a" stroke-width="0.6" />
<line x1="219.40" y1="511.20" x2="219.40" y2="512.70" stroke="#1a1a1a" stroke-width="0.6" />
<line x1="223.40" y1="511.20" x2="223.40" y2="512.70" stroke="#1a1a1a" stroke-width="0.6" />
<line x1="227.40" y1="511.20" x2="227.40" y2="512.70" stroke="#1a1a1a" stroke-width="0.6" />
<text x="199.60" y="432.90" font-size="3.7" fill="#3a3a3a" style="stroke:none">Mpl+Epcr-</text>
<text x="199.60" y="437.60" font-size="3.7" fill="#3a3a3a" style="stroke:none">40.2</text>
<text x="258.40" y="432.90" font-size="3.7" fill="#3a3a3a" style="stroke:none">Mpl+Epcr+</text>
<text x="258.40" y="437.60" font-size="3.7" fill="#3a3a3a" style="stroke:none">35.4</text>
<text x="199.60" y="503.80" font-size="3.7" fill="#3a3a3a" style="stroke:none">Mpl-Epcr-</text>
<text x="199.60" y="508.20" font-size="3.7" fill="#3a3a3a" style="stroke:none">22.6</text>
<text x="258.40" y="503.80" font-size="3.7" fill="#3a3a3a" style="stroke:none">Mpl-Epcr+</text>
<text x="258.40" y="508.20" font-size="3.7" fill="#3a3a3a" style="stroke:none">1.7</text>
<rect x="197.30" y="548.80" width="83.50" height="82.80" fill="none" stroke="#1a1a1a" stroke-width="1.1"/>
<line x1="220.00" y1="548.80" x2="220.00" y2="631.60" stroke="#2a2a2a" stroke-width="1.0" />
<line x1="197.30" y1="605.20" x2="280.80" y2="605.20" stroke="#2a2a2a" stroke-width="1.0" />
<text x="187.30" y="556.40" font-size="5.8" fill="#231f20">5</text>
<text x="179.50" y="559.90" font-size="8.4" fill="#231f20" textLength="7.4" lengthAdjust="spacingAndGlyphs">10</text>
<line x1="194.70" y1="557.20" x2="197.30" y2="557.20" stroke="#1a1a1a" stroke-width="0.9" />
<text x="187.30" y="574.80" font-size="5.8" fill="#231f20">4</text>
<text x="179.50" y="578.30" font-size="8.4" fill="#231f20" textLength="7.4" lengthAdjust="spacingAndGlyphs">10</text>
<line x1="194.70" y1="575.60" x2="197.30" y2="575.60" stroke="#1a1a1a" stroke-width="0.9" />
<text x="187.30" y="594.60" font-size="5.8" fill="#231f20">3</text>
<text x="179.50" y="598.10" font-size="8.4" fill="#231f20" textLength="7.4" lengthAdjust="spacingAndGlyphs">10</text>
<line x1="194.70" y1="595.40" x2="197.30" y2="595.40" stroke="#1a1a1a" stroke-width="0.9" />
<text x="187.30" y="613.50" font-size="5.8" fill="#231f20">2</text>
<text x="179.50" y="617.00" font-size="8.4" fill="#231f20" textLength="7.4" lengthAdjust="spacingAndGlyphs">10</text>
<line x1="194.70" y1="614.30" x2="197.30" y2="614.30" stroke="#1a1a1a" stroke-width="0.9" />
<text x="191.30" y="625.40" font-size="8.4" fill="#231f20" text-anchor="end" >0</text>
<line x1="194.70" y1="622.70" x2="197.30" y2="622.70" stroke="#1a1a1a" stroke-width="0.9" />
<text x="187.30" y="632.20" font-size="5.8" fill="#231f20">2</text>
<text x="176.90" y="635.70" font-size="8.4" fill="#231f20" textLength="10.0" lengthAdjust="spacingAndGlyphs">-10</text>
<line x1="194.70" y1="633.00" x2="197.30" y2="633.00" stroke="#1a1a1a" stroke-width="0.9" />
<line x1="195.70" y1="570.06" x2="197.30" y2="570.06" stroke="#1a1a1a" stroke-width="0.6" />
<line x1="195.70" y1="566.82" x2="197.30" y2="566.82" stroke="#1a1a1a" stroke-width="0.6" />
<line x1="195.70" y1="564.52" x2="197.30" y2="564.52" stroke="#1a1a1a" stroke-width="0.6" />
<line x1="195.70" y1="562.74" x2="197.30" y2="562.74" stroke="#1a1a1a" stroke-width="0.6" />
<line x1="195.70" y1="561.28" x2="197.30" y2="561.28" stroke="#1a1a1a" stroke-width="0.6" />
<line x1="195.70" y1="560.05" x2="197.30" y2="560.05" stroke="#1a1a1a" stroke-width="0.6" />
<line x1="195.70" y1="558.98" x2="197.30" y2="558.98" stroke="#1a1a1a" stroke-width="0.6" />
<line x1="195.70" y1="558.04" x2="197.30" y2="558.04" stroke="#1a1a1a" stroke-width="0.6" />
<line x1="195.70" y1="589.44" x2="197.30" y2="589.44" stroke="#1a1a1a" stroke-width="0.6" />
<line x1="195.70" y1="585.95" x2="197.30" y2="585.95" stroke="#1a1a1a" stroke-width="0.6" />
<line x1="195.70" y1="583.48" x2="197.30" y2="583.48" stroke="#1a1a1a" stroke-width="0.6" />
<line x1="195.70" y1="581.56" x2="197.30" y2="581.56" stroke="#1a1a1a" stroke-width="0.6" />
<line x1="195.70" y1="579.99" x2="197.30" y2="579.99" stroke="#1a1a1a" stroke-width="0.6" />
<line x1="195.70" y1="578.67" x2="197.30" y2="578.67" stroke="#1a1a1a" stroke-width="0.6" />
<line x1="195.70" y1="577.52" x2="197.30" y2="577.52" stroke="#1a1a1a" stroke-width="0.6" />
<line x1="195.70" y1="576.51" x2="197.30" y2="576.51" stroke="#1a1a1a" stroke-width="0.6" />
<line x1="195.70" y1="608.61" x2="197.30" y2="608.61" stroke="#1a1a1a" stroke-width="0.6" />
<line x1="195.70" y1="605.28" x2="197.30" y2="605.28" stroke="#1a1a1a" stroke-width="0.6" />
<line x1="195.70" y1="602.92" x2="197.30" y2="602.92" stroke="#1a1a1a" stroke-width="0.6" />
<line x1="195.70" y1="601.09" x2="197.30" y2="601.09" stroke="#1a1a1a" stroke-width="0.6" />
<line x1="195.70" y1="599.59" x2="197.30" y2="599.59" stroke="#1a1a1a" stroke-width="0.6" />
<line x1="195.70" y1="598.33" x2="197.30" y2="598.33" stroke="#1a1a1a" stroke-width="0.6" />
<line x1="195.70" y1="597.23" x2="197.30" y2="597.23" stroke="#1a1a1a" stroke-width="0.6" />
<line x1="195.70" y1="596.26" x2="197.30" y2="596.26" stroke="#1a1a1a" stroke-width="0.6" />
<text x="211.50" y="646.50" font-size="8.4" fill="#231f20" text-anchor="middle" >0</text>
<line x1="211.50" y1="631.60" x2="211.50" y2="634.00" stroke="#1a1a1a" stroke-width="0.9" />
<text x="227.10" y="646.50" font-size="8.4" fill="#231f20" textLength="7.5" lengthAdjust="spacingAndGlyphs">10</text>
<text x="235.40" y="643.20" font-size="5.8" fill="#231f20">3</text>
<line x1="232.30" y1="631.60" x2="232.30" y2="634.00" stroke="#1a1a1a" stroke-width="0.9" />
<text x="247.30" y="646.50" font-size="8.4" fill="#231f20" textLength="7.5" lengthAdjust="spacingAndGlyphs">10</text>
<text x="255.60" y="643.20" font-size="5.8" fill="#231f20">4</text>
<line x1="252.50" y1="631.60" x2="252.50" y2="634.00" stroke="#1a1a1a" stroke-width="0.9" />
<text x="266.40" y="646.50" font-size="8.4" fill="#231f20" textLength="7.5" lengthAdjust="spacingAndGlyphs">10</text>
<text x="274.70" y="643.20" font-size="5.8" fill="#231f20">5</text>
<line x1="271.60" y1="631.60" x2="271.60" y2="634.00" stroke="#1a1a1a" stroke-width="0.9" />
<line x1="238.38" y1="631.60" x2="238.38" y2="633.10" stroke="#1a1a1a" stroke-width="0.6" />
<line x1="241.94" y1="631.60" x2="241.94" y2="633.10" stroke="#1a1a1a" stroke-width="0.6" />
<line x1="244.46" y1="631.60" x2="244.46" y2="633.10" stroke="#1a1a1a" stroke-width="0.6" />
<line x1="246.42" y1="631.60" x2="246.42" y2="633.10" stroke="#1a1a1a" stroke-width="0.6" />
<line x1="248.02" y1="631.60" x2="248.02" y2="633.10" stroke="#1a1a1a" stroke-width="0.6" />
<line x1="249.37" y1="631.60" x2="249.37" y2="633.10" stroke="#1a1a1a" stroke-width="0.6" />
<line x1="250.54" y1="631.60" x2="250.54" y2="633.10" stroke="#1a1a1a" stroke-width="0.6" />
<line x1="251.58" y1="631.60" x2="251.58" y2="633.10" stroke="#1a1a1a" stroke-width="0.6" />
<line x1="258.25" y1="631.60" x2="258.25" y2="633.10" stroke="#1a1a1a" stroke-width="0.6" />
<line x1="261.61" y1="631.60" x2="261.61" y2="633.10" stroke="#1a1a1a" stroke-width="0.6" />
<line x1="264.00" y1="631.60" x2="264.00" y2="633.10" stroke="#1a1a1a" stroke-width="0.6" />
<line x1="265.85" y1="631.60" x2="265.85" y2="633.10" stroke="#1a1a1a" stroke-width="0.6" />
<line x1="267.36" y1="631.60" x2="267.36" y2="633.10" stroke="#1a1a1a" stroke-width="0.6" />
<line x1="268.64" y1="631.60" x2="268.64" y2="633.10" stroke="#1a1a1a" stroke-width="0.6" />
<line x1="269.75" y1="631.60" x2="269.75" y2="633.10" stroke="#1a1a1a" stroke-width="0.6" />
<line x1="270.73" y1="631.60" x2="270.73" y2="633.10" stroke="#1a1a1a" stroke-width="0.6" />
<line x1="203.30" y1="631.60" x2="203.30" y2="633.10" stroke="#1a1a1a" stroke-width="0.6" />
<line x1="206.30" y1="631.60" x2="206.30" y2="633.10" stroke="#1a1a1a" stroke-width="0.6" />
<line x1="208.80" y1="631.60" x2="208.80" y2="633.10" stroke="#1a1a1a" stroke-width="0.6" />
<line x1="214.30" y1="631.60" x2="214.30" y2="633.10" stroke="#1a1a1a" stroke-width="0.6" />
<line x1="216.80" y1="631.60" x2="216.80" y2="633.10" stroke="#1a1a1a" stroke-width="0.6" />
<line x1="219.30" y1="631.60" x2="219.30" y2="633.10" stroke="#1a1a1a" stroke-width="0.6" />
<line x1="223.30" y1="631.60" x2="223.30" y2="633.10" stroke="#1a1a1a" stroke-width="0.6" />
<line x1="227.30" y1="631.60" x2="227.30" y2="633.10" stroke="#1a1a1a" stroke-width="0.6" />
<text x="199.50" y="554.10" font-size="3.7" fill="#3a3a3a" style="stroke:none">Mpl+Epcr-</text>
<text x="199.50" y="558.80" font-size="3.7" fill="#3a3a3a" style="stroke:none">11.7</text>
<text x="258.30" y="554.10" font-size="3.7" fill="#3a3a3a" style="stroke:none">Mpl+Epcr+</text>
<text x="258.30" y="558.80" font-size="3.7" fill="#3a3a3a" style="stroke:none">5.8</text>
<text x="199.50" y="624.20" font-size="3.7" fill="#3a3a3a" style="stroke:none">Mpl-Epcr-</text>
<text x="199.50" y="628.60" font-size="3.7" fill="#3a3a3a" style="stroke:none">71.8</text>
<text x="258.30" y="624.20" font-size="3.7" fill="#3a3a3a" style="stroke:none">Mpl-Epcr+</text>
<text x="258.30" y="628.60" font-size="3.7" fill="#3a3a3a" style="stroke:none">6.7</text>
<line x1="326.40" y1="456.00" x2="326.40" y2="588.60" stroke="#231f20" stroke-width="1.3" />
<line x1="325.80" y1="588.00" x2="512.40" y2="588.00" stroke="#231f20" stroke-width="1.3" />
<line x1="323.80" y1="458.50" x2="326.40" y2="458.50" stroke="#231f20" stroke-width="1.1" />
<text x="320.30" y="461.40" font-size="8.3" fill="#231f20" text-anchor="end" textLength="8.40" lengthAdjust="spacingAndGlyphs" >80</text>
<line x1="323.80" y1="490.90" x2="326.40" y2="490.90" stroke="#231f20" stroke-width="1.1" />
<text x="320.30" y="493.80" font-size="8.3" fill="#231f20" text-anchor="end" textLength="8.40" lengthAdjust="spacingAndGlyphs" >60</text>
<line x1="323.80" y1="523.30" x2="326.40" y2="523.30" stroke="#231f20" stroke-width="1.1" />
<text x="320.30" y="526.20" font-size="8.3" fill="#231f20" text-anchor="end" textLength="8.40" lengthAdjust="spacingAndGlyphs" >40</text>
<line x1="323.80" y1="555.70" x2="326.40" y2="555.70" stroke="#231f20" stroke-width="1.1" />
<text x="320.30" y="558.60" font-size="8.3" fill="#231f20" text-anchor="end" textLength="8.40" lengthAdjust="spacingAndGlyphs" >20</text>
<line x1="323.80" y1="588.10" x2="326.40" y2="588.10" stroke="#231f20" stroke-width="1.1" />
<text x="320.30" y="591.00" font-size="8.3" fill="#231f20" text-anchor="end" textLength="4.20" lengthAdjust="spacingAndGlyphs" >0</text>
<rect x="340.50" y="510.30" width="24.30" height="77.70" fill="#a03444"/>
<line x1="352.65" y1="510.30" x2="352.65" y2="501.50" stroke="#4a4a4a" stroke-width="1.2" />
<line x1="345.45" y1="501.50" x2="359.85" y2="501.50" stroke="#4a4a4a" stroke-width="1.2" />
<rect x="378.80" y="505.40" width="25.00" height="82.60" fill="#a03444"/>
<line x1="391.30" y1="505.40" x2="391.30" y2="497.60" stroke="#4a4a4a" stroke-width="1.2" />
<line x1="384.10" y1="497.60" x2="398.50" y2="497.60" stroke="#4a4a4a" stroke-width="1.2" />
<rect x="443.00" y="528.40" width="24.50" height="59.60" fill="#4e6382"/>
<line x1="455.25" y1="528.40" x2="455.25" y2="518.40" stroke="#4a4a4a" stroke-width="1.2" />
<line x1="448.05" y1="518.40" x2="462.45" y2="518.40" stroke="#4a4a4a" stroke-width="1.2" />
<rect x="481.90" y="486.90" width="23.80" height="101.10" fill="#4e6382"/>
<line x1="493.80" y1="486.90" x2="493.80" y2="477.40" stroke="#4a4a4a" stroke-width="1.2" />
<line x1="486.60" y1="477.40" x2="501.00" y2="477.40" stroke="#4a4a4a" stroke-width="1.2" />
<line x1="325.80" y1="588.00" x2="512.40" y2="588.00" stroke="#231f20" stroke-width="1.3" />
<line x1="372.00" y1="588.00" x2="372.00" y2="591.00" stroke="#231f20" stroke-width="1.0" />
<line x1="474.40" y1="588.00" x2="474.40" y2="591.00" stroke="#231f20" stroke-width="1.0" />
<text x="353.20" y="601.40" font-size="8.7" fill="#231f20" text-anchor="middle" textLength="21.10" lengthAdjust="spacingAndGlyphs" >Epcr+</text>
<text x="391.40" y="601.40" font-size="8.7" fill="#231f20" text-anchor="middle" textLength="17.90" lengthAdjust="spacingAndGlyphs" >Epcr-</text>
<text x="455.70" y="601.40" font-size="8.7" fill="#231f20" text-anchor="middle" textLength="20.20" lengthAdjust="spacingAndGlyphs" >Epcr+</text>
<text x="494.30" y="601.40" font-size="8.7" fill="#231f20" text-anchor="middle" textLength="17.90" lengthAdjust="spacingAndGlyphs" >Epcr-</text>
<line x1="338.30" y1="606.30" x2="405.60" y2="606.30" stroke="#231f20" stroke-width="1.0" />
<line x1="440.70" y1="606.30" x2="508.50" y2="606.30" stroke="#231f20" stroke-width="1.0" />
<text x="371.90" y="617.00" font-size="8.6" fill="#231f20" text-anchor="middle" textLength="44.20" lengthAdjust="spacingAndGlyphs" >Mpl+/Thpo+</text>
<text x="474.40" y="617.00" font-size="8.6" fill="#231f20" text-anchor="middle" textLength="43.30" lengthAdjust="spacingAndGlyphs" >Mpl+/Thpo-</text>
<text x="305.80" y="521.40" font-size="9" fill="#231f20" text-anchor="middle" textLength="70.00" lengthAdjust="spacingAndGlyphs" transform="rotate(-90 305.80 521.40)" >% Mpl+ LSK cells</text>
</svg>
</body></html>
